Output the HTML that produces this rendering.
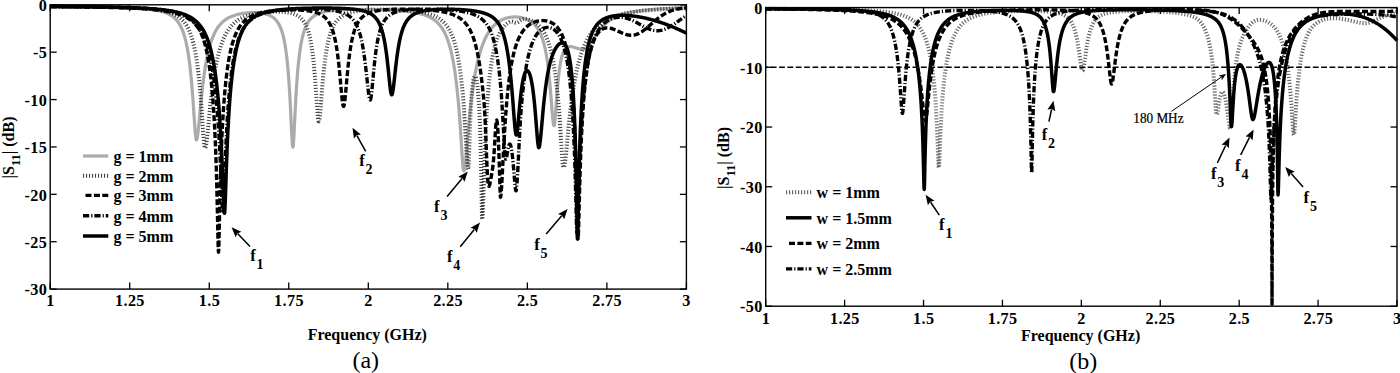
<!DOCTYPE html>
<html><head><meta charset="utf-8"><style>
html,body{margin:0;padding:0;background:#fff;width:1400px;height:373px;overflow:hidden;}
body{position:relative;font-family:"Liberation Serif", serif;}
</style></head><body>
<svg width="1400" height="373" viewBox="0 0 1400 373" style="position:absolute;left:0;top:0">
<g stroke-linejoin="round">
<path d="M50.20,6.51 L50.60,6.52 L51.00,6.52 L51.39,6.52 L51.79,6.52 L52.19,6.53 L52.59,6.53 L52.98,6.53 L53.38,6.53 L53.78,6.54 L54.18,6.54 L54.57,6.54 L54.97,6.54 L55.37,6.54 L55.77,6.55 L56.16,6.55 L56.56,6.55 L56.96,6.55 L57.36,6.56 L57.75,6.56 L58.15,6.56 L58.55,6.56 L58.95,6.57 L59.35,6.57 L59.74,6.57 L60.14,6.57 L60.54,6.58 L60.94,6.58 L61.33,6.58 L61.73,6.59 L62.13,6.59 L62.53,6.59 L62.92,6.59 L63.32,6.60 L63.72,6.60 L64.12,6.60 L64.51,6.60 L64.91,6.61 L65.31,6.61 L65.71,6.61 L66.11,6.62 L66.50,6.62 L66.90,6.62 L67.30,6.63 L67.70,6.63 L68.09,6.63 L68.49,6.63 L68.89,6.64 L69.29,6.64 L69.68,6.64 L70.08,6.65 L70.48,6.65 L70.88,6.65 L71.27,6.66 L71.67,6.66 L72.07,6.66 L72.47,6.67 L72.86,6.67 L73.26,6.67 L73.66,6.68 L74.06,6.68 L74.46,6.68 L74.85,6.69 L75.25,6.69 L75.65,6.69 L76.05,6.70 L76.44,6.70 L76.84,6.70 L77.24,6.71 L77.64,6.71 L78.03,6.72 L78.43,6.72 L78.83,6.72 L79.23,6.73 L79.62,6.73 L80.02,6.74 L80.42,6.74 L80.82,6.74 L81.21,6.75 L81.61,6.75 L82.01,6.76 L82.41,6.76 L82.81,6.76 L83.20,6.77 L83.60,6.77 L84.00,6.78 L84.40,6.78 L84.79,6.79 L85.19,6.79 L85.59,6.79 L85.99,6.80 L86.38,6.80 L86.78,6.81 L87.18,6.81 L87.58,6.82 L87.97,6.82 L88.37,6.83 L88.77,6.83 L89.17,6.84 L89.56,6.84 L89.96,6.85 L90.36,6.85 L90.76,6.86 L91.16,6.86 L91.55,6.87 L91.95,6.87 L92.35,6.88 L92.75,6.88 L93.14,6.89 L93.54,6.89 L93.94,6.90 L94.34,6.90 L94.73,6.91 L95.13,6.92 L95.53,6.92 L95.93,6.93 L96.32,6.93 L96.72,6.94 L97.12,6.94 L97.52,6.95 L97.91,6.96 L98.31,6.96 L98.71,6.97 L99.11,6.98 L99.51,6.98 L99.90,6.99 L100.30,6.99 L100.70,7.00 L101.10,7.01 L101.49,7.01 L101.89,7.02 L102.29,7.03 L102.69,7.04 L103.08,7.04 L103.48,7.05 L103.88,7.06 L104.28,7.06 L104.67,7.07 L105.07,7.08 L105.47,7.09 L105.87,7.09 L106.27,7.10 L106.66,7.11 L107.06,7.12 L107.46,7.13 L107.86,7.13 L108.25,7.14 L108.65,7.15 L109.05,7.16 L109.45,7.17 L109.84,7.18 L110.24,7.19 L110.64,7.19 L111.04,7.20 L111.43,7.21 L111.83,7.22 L112.23,7.23 L112.63,7.24 L113.02,7.25 L113.42,7.26 L113.82,7.27 L114.22,7.28 L114.62,7.29 L115.01,7.30 L115.41,7.31 L115.81,7.32 L116.21,7.33 L116.60,7.34 L117.00,7.35 L117.40,7.36 L117.80,7.38 L118.19,7.39 L118.59,7.40 L118.99,7.41 L119.39,7.42 L119.78,7.43 L120.18,7.45 L120.58,7.46 L120.98,7.47 L121.37,7.48 L121.77,7.50 L122.17,7.51 L122.57,7.52 L122.97,7.54 L123.36,7.55 L123.76,7.56 L124.16,7.58 L124.56,7.59 L124.95,7.61 L125.35,7.62 L125.75,7.64 L126.15,7.65 L126.54,7.67 L126.94,7.68 L127.34,7.70 L127.74,7.72 L128.13,7.73 L128.53,7.75 L128.93,7.77 L129.33,7.79 L129.72,7.80 L130.12,7.82 L130.52,7.84 L130.92,7.86 L131.32,7.88 L131.71,7.90 L132.11,7.92 L132.51,7.94 L132.91,7.96 L133.30,7.98 L133.70,8.00 L134.10,8.02 L134.50,8.04 L134.89,8.06 L135.29,8.09 L135.69,8.11 L136.09,8.13 L136.48,8.16 L136.88,8.18 L137.28,8.20 L137.68,8.23 L138.08,8.26 L138.47,8.28 L138.87,8.31 L139.27,8.34 L139.67,8.36 L140.06,8.39 L140.46,8.42 L140.86,8.45 L141.26,8.48 L141.65,8.51 L142.05,8.54 L142.45,8.57 L142.85,8.61 L143.24,8.64 L143.64,8.67 L144.04,8.71 L144.44,8.74 L144.83,8.78 L145.23,8.82 L145.63,8.85 L146.03,8.89 L146.43,8.93 L146.82,8.97 L147.22,9.01 L147.62,9.06 L148.02,9.10 L148.41,9.14 L148.81,9.19 L149.21,9.24 L149.61,9.28 L150.00,9.33 L150.40,9.38 L150.80,9.43 L151.20,9.48 L151.59,9.54 L151.99,9.59 L152.39,9.65 L152.79,9.71 L153.18,9.76 L153.58,9.83 L153.98,9.89 L154.38,9.95 L154.78,10.02 L155.17,10.08 L155.57,10.15 L155.97,10.22 L156.37,10.30 L156.76,10.37 L157.16,10.45 L157.56,10.53 L157.96,10.61 L158.35,10.69 L158.75,10.78 L159.15,10.87 L159.55,10.96 L159.94,11.05 L160.34,11.15 L160.74,11.25 L161.14,11.35 L161.54,11.46 L161.93,11.57 L162.33,11.68 L162.73,11.80 L163.13,11.92 L163.52,12.04 L163.92,12.17 L164.32,12.30 L164.72,12.44 L165.11,12.58 L165.51,12.73 L165.91,12.88 L166.31,13.04 L166.70,13.20 L167.10,13.37 L167.50,13.54 L167.90,13.72 L168.29,13.91 L168.69,14.10 L169.09,14.31 L169.49,14.52 L169.89,14.74 L170.28,14.96 L170.68,15.20 L171.08,15.44 L171.48,15.70 L171.87,15.97 L172.27,16.24 L172.67,16.53 L173.07,16.84 L173.46,17.15 L173.86,17.48 L174.26,17.82 L174.66,18.18 L175.05,18.56 L175.45,18.95 L175.85,19.36 L176.25,19.79 L176.64,20.24 L177.04,20.72 L177.44,21.22 L177.84,21.74 L178.24,22.29 L178.63,22.86 L179.03,23.47 L179.43,24.11 L179.83,24.78 L180.22,25.49 L180.62,26.24 L181.02,27.04 L181.42,27.87 L181.81,28.76 L182.21,29.69 L182.61,30.68 L183.01,31.73 L183.40,32.84 L183.80,34.02 L184.20,35.28 L184.60,36.61 L184.99,38.03 L185.39,39.54 L185.79,41.15 L186.19,42.87 L186.59,44.70 L186.98,46.65 L187.38,48.74 L187.78,50.97 L188.18,53.36 L188.57,55.92 L188.97,58.66 L189.37,61.61 L189.77,64.76 L190.16,68.14 L190.56,71.77 L190.96,75.67 L191.36,79.84 L191.75,84.31 L192.15,89.09 L192.55,94.18 L192.95,99.58 L193.34,105.25 L193.74,111.14 L194.14,117.14 L194.54,123.08 L194.94,128.68 L195.12,131.03 L195.18,131.81 L195.24,132.57 L195.31,133.30 L195.33,133.58 L195.37,134.00 L195.43,134.67 L195.50,135.31 L195.56,135.92 L195.63,136.49 L195.69,137.02 L195.73,137.35 L195.75,137.51 L195.82,137.96 L195.88,138.37 L195.94,138.74 L196.01,139.05 L196.07,139.33 L196.13,139.53 L196.13,139.55 L196.20,139.73 L196.26,139.85 L196.33,139.93 L196.39,139.95 L196.45,139.94 L196.52,139.90 L196.53,139.89 L196.58,139.84 L196.64,139.75 L196.71,139.64 L196.77,139.50 L196.83,139.33 L196.90,139.14 L196.92,139.06 L196.96,138.93 L197.03,138.69 L197.09,138.43 L197.15,138.15 L197.22,137.84 L197.28,137.51 L197.32,137.29 L197.34,137.16 L197.41,136.79 L197.47,136.41 L197.53,136.00 L197.60,135.57 L197.66,135.12 L197.72,134.71 L198.12,131.48 L198.51,127.78 L198.91,123.75 L199.31,119.53 L199.71,115.24 L200.10,110.95 L200.50,106.72 L200.90,102.60 L201.30,98.60 L201.70,94.75 L202.09,91.06 L202.49,87.53 L202.89,84.15 L203.29,80.94 L203.68,77.88 L204.08,74.97 L204.48,72.20 L204.88,69.56 L205.27,67.06 L205.67,64.68 L206.07,62.42 L206.47,60.27 L206.86,58.22 L207.26,56.28 L207.66,54.43 L208.06,52.67 L208.45,50.99 L208.85,49.39 L209.25,47.87 L209.65,46.42 L210.05,45.04 L210.44,43.72 L210.84,42.46 L211.24,41.26 L211.64,40.12 L212.03,39.02 L212.43,37.98 L212.83,36.98 L213.23,36.02 L213.62,35.11 L214.02,34.23 L214.42,33.40 L214.82,32.59 L215.21,31.83 L215.61,31.09 L216.01,30.38 L216.41,29.71 L216.80,29.06 L217.20,28.44 L217.60,27.84 L218.00,27.26 L218.40,26.71 L218.79,26.18 L219.19,25.67 L219.59,25.18 L219.99,24.71 L220.38,24.26 L220.78,23.82 L221.18,23.40 L221.58,23.00 L221.97,22.61 L222.37,22.24 L222.77,21.87 L223.17,21.53 L223.56,21.19 L223.96,20.87 L224.36,20.55 L224.76,20.25 L225.15,19.96 L225.55,19.68 L225.95,19.41 L226.35,19.15 L226.75,18.89 L227.14,18.65 L227.54,18.41 L227.94,18.19 L228.34,17.97 L228.73,17.75 L229.13,17.55 L229.53,17.35 L229.93,17.15 L230.32,16.97 L230.72,16.79 L231.12,16.61 L231.52,16.44 L231.91,16.28 L232.31,16.12 L232.71,15.97 L233.11,15.82 L233.51,15.68 L233.90,15.54 L234.30,15.41 L234.70,15.28 L235.10,15.15 L235.49,15.03 L235.89,14.92 L236.29,14.80 L236.69,14.69 L237.08,14.59 L237.48,14.48 L237.88,14.39 L238.28,14.29 L238.67,14.20 L239.07,14.11 L239.47,14.02 L239.87,13.94 L240.26,13.86 L240.66,13.78 L241.06,13.71 L241.46,13.64 L241.86,13.57 L242.25,13.50 L242.65,13.44 L243.05,13.38 L243.45,13.32 L243.84,13.27 L244.24,13.21 L244.64,13.16 L245.04,13.11 L245.43,13.07 L245.83,13.02 L246.23,12.98 L246.63,12.94 L247.02,12.91 L247.42,12.87 L247.82,12.84 L248.22,12.81 L248.61,12.78 L249.01,12.76 L249.41,12.73 L249.81,12.71 L250.21,12.69 L250.60,12.67 L251.00,12.66 L251.40,12.65 L251.80,12.64 L252.19,12.63 L252.59,12.62 L252.99,12.62 L253.39,12.62 L253.78,12.62 L254.18,12.62 L254.58,12.63 L254.98,12.63 L255.37,12.64 L255.77,12.66 L256.17,12.67 L256.57,12.69 L256.96,12.71 L257.36,12.73 L257.76,12.76 L258.16,12.79 L258.56,12.82 L258.95,12.85 L259.35,12.89 L259.75,12.93 L260.15,12.98 L260.54,13.02 L260.94,13.07 L261.34,13.13 L261.74,13.19 L262.13,13.25 L262.53,13.32 L262.93,13.39 L263.33,13.46 L263.72,13.54 L264.12,13.62 L264.52,13.71 L264.92,13.80 L265.32,13.90 L265.71,14.01 L266.11,14.12 L266.51,14.24 L266.91,14.36 L267.30,14.49 L267.70,14.63 L268.10,14.77 L268.50,14.92 L268.89,15.08 L269.29,15.25 L269.69,15.43 L270.09,15.62 L270.48,15.82 L270.88,16.03 L271.28,16.25 L271.68,16.48 L272.07,16.73 L272.47,16.99 L272.87,17.27 L273.27,17.56 L273.67,17.87 L274.06,18.20 L274.46,18.54 L274.86,18.91 L275.26,19.30 L275.65,19.72 L276.05,20.16 L276.45,20.62 L276.85,21.12 L277.24,21.65 L277.64,22.22 L278.04,22.82 L278.44,23.46 L278.83,24.15 L279.23,24.88 L279.63,25.67 L280.03,26.51 L280.42,27.42 L280.82,28.39 L281.22,29.44 L281.62,30.56 L282.02,31.77 L282.41,33.08 L282.81,34.49 L283.21,36.02 L283.61,37.68 L284.00,39.48 L284.40,41.43 L284.80,43.55 L285.20,45.86 L285.59,48.38 L285.99,51.12 L286.39,54.13 L286.79,57.42 L287.18,61.03 L287.58,64.98 L287.98,69.33 L288.38,74.11 L288.77,79.36 L289.17,85.13 L289.57,91.47 L289.97,98.40 L290.37,105.93 L290.76,113.98 L291.16,122.39 L291.56,130.76 L291.58,131.28 L291.65,132.57 L291.71,133.83 L291.77,135.06 L291.84,136.27 L291.90,137.43 L291.96,138.39 L291.97,138.56 L292.03,139.64 L292.09,140.66 L292.16,141.63 L292.22,142.54 L292.28,143.38 L292.35,144.14 L292.35,144.22 L292.41,144.83 L292.47,145.44 L292.54,145.96 L292.60,146.39 L292.67,146.73 L292.73,146.98 L292.75,147.04 L292.79,147.12 L292.86,147.17 L292.92,147.12 L292.98,146.98 L293.05,146.75 L293.11,146.43 L293.15,146.19 L293.17,146.02 L293.24,145.52 L293.30,144.94 L293.37,144.29 L293.43,143.56 L293.49,142.76 L293.55,142.02 L293.56,141.89 L293.62,140.96 L293.68,139.98 L293.75,138.95 L293.81,137.87 L293.87,136.76 L293.94,135.60 L293.94,135.48 L294.00,134.41 L294.07,133.20 L294.13,131.95 L294.34,127.67 L294.74,119.44 L295.14,111.34 L295.53,103.63 L295.93,96.46 L296.33,89.85 L296.73,83.79 L297.13,78.26 L297.52,73.22 L297.92,68.62 L298.32,64.42 L298.72,60.59 L299.11,57.08 L299.51,53.87 L299.91,50.94 L300.31,48.24 L300.70,45.76 L301.10,43.49 L301.50,41.39 L301.90,39.45 L302.29,37.67 L302.69,36.02 L303.09,34.49 L303.49,33.07 L303.88,31.75 L304.28,30.53 L304.68,29.39 L305.08,28.34 L305.48,27.35 L305.87,26.42 L306.27,25.56 L306.67,24.76 L307.07,24.00 L307.46,23.29 L307.86,22.63 L308.26,22.00 L308.66,21.41 L309.05,20.86 L309.45,20.34 L309.85,19.84 L310.25,19.38 L310.64,18.94 L311.04,18.53 L311.44,18.13 L311.84,17.76 L312.23,17.41 L312.63,17.07 L313.03,16.75 L313.43,16.45 L313.83,16.16 L314.22,15.89 L314.62,15.63 L315.02,15.38 L315.42,15.15 L315.81,14.92 L316.21,14.70 L316.61,14.50 L317.01,14.30 L317.40,14.11 L317.80,13.93 L318.20,13.76 L318.60,13.60 L318.99,13.44 L319.39,13.29 L319.79,13.14 L320.19,13.00 L320.58,12.87 L320.98,12.74 L321.38,12.62 L321.78,12.50 L322.18,12.38 L322.57,12.27 L322.97,12.17 L323.37,12.06 L323.77,11.97 L324.16,11.87 L324.56,11.78 L324.96,11.69 L325.36,11.61 L325.75,11.53 L326.15,11.45 L326.55,11.37 L326.95,11.30 L327.34,11.23 L327.74,11.16 L328.14,11.09 L328.54,11.03 L328.94,10.97 L329.33,10.91 L329.73,10.85 L330.13,10.80 L330.53,10.74 L330.92,10.69 L331.32,10.64 L331.72,10.59 L332.12,10.54 L332.51,10.50 L332.91,10.45 L333.31,10.41 L333.71,10.37 L334.10,10.33 L334.50,10.29 L334.90,10.25 L335.30,10.21 L335.69,10.18 L336.09,10.15 L336.49,10.11 L336.89,10.08 L337.29,10.05 L337.68,10.02 L338.08,9.99 L338.48,9.96 L338.88,9.93 L339.27,9.91 L339.67,9.88 L340.07,9.86 L340.47,9.83 L340.86,9.81 L341.26,9.79 L341.66,9.77 L342.06,9.75 L342.45,9.72 L342.85,9.71 L343.25,9.69 L343.65,9.67 L344.04,9.65 L344.44,9.63 L344.84,9.62 L345.24,9.60 L345.64,9.59 L346.03,9.57 L346.43,9.56 L346.83,9.54 L347.23,9.53 L347.62,9.52 L348.02,9.50 L348.42,9.49 L348.82,9.48 L349.21,9.47 L349.61,9.46 L350.01,9.45 L350.41,9.44 L350.80,9.43 L351.20,9.42 L351.60,9.42 L352.00,9.41 L352.39,9.40 L352.79,9.39 L353.19,9.39 L353.59,9.38 L353.99,9.38 L354.38,9.37 L354.78,9.36 L355.18,9.36 L355.58,9.36 L355.97,9.35 L356.37,9.35 L356.77,9.34 L357.17,9.34 L357.56,9.34 L357.96,9.34 L358.36,9.33 L358.76,9.33 L359.15,9.33 L359.55,9.33 L359.95,9.33 L360.35,9.33 L360.75,9.33 L361.14,9.33 L361.54,9.33 L361.94,9.33 L362.34,9.33 L362.73,9.33 L363.13,9.33 L363.53,9.33 L363.93,9.34 L364.32,9.34 L364.72,9.34 L365.12,9.34 L365.52,9.35 L365.91,9.35 L366.31,9.36 L366.71,9.36 L367.11,9.36 L367.50,9.37 L367.90,9.37 L368.30,9.38 L368.70,9.38 L369.10,9.39 L369.49,9.39 L369.89,9.40 L370.29,9.41 L370.69,9.41 L371.08,9.42 L371.48,9.43 L371.88,9.43 L372.28,9.44 L372.67,9.45 L373.07,9.46 L373.47,9.47 L373.87,9.47 L374.26,9.48 L374.66,9.49 L375.06,9.50 L375.46,9.51 L375.85,9.52 L376.25,9.53 L376.65,9.54 L377.05,9.55 L377.45,9.56 L377.84,9.58 L378.24,9.59 L378.64,9.60 L379.04,9.61 L379.43,9.62 L379.83,9.64 L380.23,9.65 L380.63,9.66 L381.02,9.68 L381.42,9.69 L381.82,9.70 L382.22,9.72 L382.61,9.73 L383.01,9.75 L383.41,9.76 L383.81,9.78 L384.20,9.79 L384.60,9.81 L385.00,9.83 L385.40,9.84 L385.80,9.86 L386.19,9.88 L386.59,9.90 L386.99,9.91 L387.39,9.93 L387.78,9.95 L388.18,9.97 L388.58,9.99 L388.98,10.01 L389.37,10.03 L389.77,10.05 L390.17,10.07 L390.57,10.09 L390.96,10.11 L391.36,10.14 L391.76,10.16 L392.16,10.18 L392.56,10.21 L392.95,10.23 L393.35,10.25 L393.75,10.28 L394.15,10.30 L394.54,10.33 L394.94,10.35 L395.34,10.38 L395.74,10.41 L396.13,10.44 L396.53,10.46 L396.93,10.49 L397.33,10.52 L397.72,10.55 L398.12,10.58 L398.52,10.61 L398.92,10.64 L399.31,10.67 L399.71,10.71 L400.11,10.74 L400.51,10.77 L400.91,10.81 L401.30,10.84 L401.70,10.88 L402.10,10.91 L402.50,10.95 L402.89,10.99 L403.29,11.03 L403.69,11.07 L404.09,11.11 L404.48,11.15 L404.88,11.19 L405.28,11.23 L405.68,11.27 L406.07,11.32 L406.47,11.36 L406.87,11.41 L407.27,11.45 L407.66,11.50 L408.06,11.55 L408.46,11.60 L408.86,11.65 L409.26,11.70 L409.65,11.76 L410.05,11.81 L410.45,11.87 L410.85,11.92 L411.24,11.98 L411.64,12.04 L412.04,12.10 L412.44,12.17 L412.83,12.23 L413.23,12.29 L413.63,12.36 L414.03,12.43 L414.42,12.50 L414.82,12.57 L415.22,12.64 L415.62,12.72 L416.01,12.79 L416.41,12.87 L416.81,12.95 L417.21,13.04 L417.61,13.12 L418.00,13.21 L418.40,13.30 L418.80,13.39 L419.20,13.48 L419.59,13.58 L419.99,13.68 L420.39,13.78 L420.79,13.88 L421.18,13.99 L421.58,14.10 L421.98,14.21 L422.38,14.33 L422.77,14.44 L423.17,14.57 L423.57,14.69 L423.97,14.82 L424.37,14.95 L424.76,15.09 L425.16,15.23 L425.56,15.38 L425.96,15.52 L426.35,15.68 L426.75,15.84 L427.15,16.00 L427.55,16.17 L427.94,16.34 L428.34,16.52 L428.74,16.70 L429.14,16.89 L429.53,17.09 L429.93,17.29 L430.33,17.49 L430.73,17.71 L431.12,17.93 L431.52,18.16 L431.92,18.40 L432.32,18.64 L432.72,18.89 L433.11,19.15 L433.51,19.42 L433.91,19.70 L434.31,19.99 L434.70,20.29 L435.10,20.60 L435.50,20.92 L435.90,21.25 L436.29,21.59 L436.69,21.95 L437.09,22.32 L437.49,22.70 L437.88,23.10 L438.28,23.51 L438.68,23.93 L439.08,24.38 L439.47,24.84 L439.87,25.31 L440.27,25.81 L440.67,26.33 L441.07,26.86 L441.46,27.42 L441.86,28.00 L442.26,28.60 L442.66,29.23 L443.05,29.89 L443.45,30.57 L443.85,31.28 L444.25,32.02 L444.64,32.79 L445.04,33.59 L445.44,34.43 L445.84,35.31 L446.23,36.23 L446.63,37.18 L447.03,38.18 L447.43,39.23 L447.82,40.32 L448.22,41.46 L448.62,42.66 L449.02,43.91 L449.42,45.23 L449.81,46.60 L450.21,48.05 L450.61,49.56 L451.01,51.15 L451.40,52.82 L451.80,54.57 L452.20,56.42 L452.60,58.35 L452.99,60.39 L453.39,62.54 L453.79,64.80 L454.19,67.19 L454.58,69.71 L454.98,72.36 L455.38,75.17 L455.78,78.14 L456.18,81.28 L456.57,84.60 L456.97,88.11 L457.37,91.84 L457.77,95.80 L458.16,99.99 L458.56,104.44 L458.96,109.16 L459.36,114.16 L459.75,119.44 L460.15,125.02 L460.55,130.87 L460.95,136.95 L461.34,143.20 L461.74,149.48 L462.14,155.58 L462.54,161.20 L462.58,161.82 L462.65,162.63 L462.71,163.42 L462.78,164.18 L462.84,164.90 L462.90,165.60 L462.93,165.93 L462.97,166.26 L463.03,166.89 L463.09,167.47 L463.16,168.02 L463.22,168.53 L463.28,169.00 L463.33,169.31 L463.35,169.42 L463.41,169.79 L463.48,170.12 L463.54,170.39 L463.60,170.62 L463.67,170.80 L463.73,170.93 L463.79,171.00 L463.86,171.02 L463.92,171.01 L463.98,170.96 L464.05,170.88 L464.11,170.77 L464.13,170.74 L464.18,170.64 L464.24,170.47 L464.30,170.28 L464.37,170.05 L464.43,169.80 L464.49,169.53 L464.53,169.38 L464.56,169.22 L464.62,168.89 L464.68,168.53 L464.75,168.15 L464.81,167.75 L464.88,167.32 L464.92,166.99 L464.94,166.87 L465.00,166.40 L465.07,165.91 L465.13,165.39 L465.32,163.75 L465.72,159.86 L466.12,155.52 L466.51,150.90 L466.91,146.14 L467.31,141.35 L467.71,136.60 L468.10,131.94 L468.50,127.41 L468.90,123.04 L469.30,118.82 L469.69,114.76 L470.09,110.87 L470.49,107.15 L470.89,103.59 L471.28,100.17 L471.68,96.91 L472.08,93.79 L472.48,90.80 L472.88,87.95 L473.27,85.21 L473.67,82.59 L474.07,80.08 L474.47,77.68 L474.86,75.37 L475.26,73.16 L475.66,71.04 L476.06,69.01 L476.45,67.05 L476.85,65.18 L477.25,63.38 L477.65,61.64 L478.04,59.98 L478.44,58.37 L478.84,56.83 L479.24,55.35 L479.63,53.92 L480.03,52.55 L480.43,51.23 L480.83,49.95 L481.23,48.72 L481.62,47.54 L482.02,46.40 L482.42,45.29 L482.82,44.23 L483.21,43.21 L483.61,42.22 L484.01,41.27 L484.41,40.35 L484.80,39.46 L485.20,38.60 L485.60,37.77 L486.00,36.97 L486.39,36.20 L486.79,35.45 L487.19,34.73 L487.59,34.03 L487.99,33.36 L488.38,32.71 L488.78,32.08 L489.18,31.47 L489.58,30.88 L489.97,30.31 L490.37,29.76 L490.77,29.23 L491.17,28.72 L491.56,28.22 L491.96,27.74 L492.36,27.28 L492.76,26.83 L493.15,26.39 L493.55,25.97 L493.95,25.57 L494.35,25.18 L494.74,24.80 L495.14,24.43 L495.54,24.08 L495.94,23.73 L496.34,23.40 L496.73,23.08 L497.13,22.78 L497.53,22.48 L497.93,22.19 L498.32,21.92 L498.72,21.65 L499.12,21.39 L499.52,21.14 L499.91,20.90 L500.31,20.67 L500.71,20.45 L501.11,20.24 L501.50,20.03 L501.90,19.84 L502.30,19.65 L502.70,19.46 L503.09,19.29 L503.49,19.12 L503.89,18.96 L504.29,18.81 L504.69,18.67 L505.08,18.53 L505.48,18.39 L505.88,18.27 L506.28,18.15 L506.67,18.04 L507.07,17.93 L507.47,17.83 L507.87,17.73 L508.26,17.64 L508.66,17.56 L509.06,17.48 L509.46,17.41 L509.85,17.34 L510.25,17.28 L510.65,17.23 L511.05,17.18 L511.44,17.13 L511.84,17.09 L512.24,17.06 L512.64,17.03 L513.04,17.00 L513.43,16.98 L513.83,16.97 L514.23,16.96 L514.63,16.96 L515.02,16.96 L515.42,16.96 L515.82,16.97 L516.22,16.99 L516.61,17.01 L517.01,17.04 L517.41,17.07 L517.81,17.11 L518.20,17.15 L518.60,17.19 L519.00,17.25 L519.40,17.30 L519.80,17.36 L520.19,17.43 L520.59,17.51 L520.99,17.58 L521.39,17.67 L521.78,17.76 L522.18,17.85 L522.58,17.95 L522.98,18.06 L523.37,18.17 L523.77,18.29 L524.17,18.42 L524.57,18.55 L524.96,18.69 L525.36,18.83 L525.76,18.98 L526.16,19.14 L526.55,19.31 L526.95,19.48 L527.35,19.66 L527.75,19.85 L528.15,20.05 L528.54,20.26 L528.94,20.48 L529.34,20.70 L529.74,20.94 L530.13,21.18 L530.53,21.44 L530.93,21.70 L531.33,21.98 L531.72,22.27 L532.12,22.58 L532.52,22.89 L532.92,23.22 L533.31,23.57 L533.71,23.93 L534.11,24.31 L534.51,24.70 L534.90,25.11 L535.30,25.55 L535.70,26.00 L536.10,26.48 L536.50,26.98 L536.89,27.50 L537.29,28.05 L537.69,28.63 L538.09,29.24 L538.48,29.88 L538.88,30.55 L539.28,31.27 L539.68,32.02 L540.07,32.82 L540.47,33.66 L540.87,34.56 L541.27,35.50 L541.66,36.51 L542.06,37.58 L542.46,38.72 L542.86,39.94 L543.25,41.23 L543.65,42.62 L544.05,44.10 L544.45,45.68 L544.85,47.38 L545.24,49.20 L545.64,51.16 L546.04,53.26 L546.44,55.52 L546.83,57.96 L547.23,60.58 L547.63,63.40 L548.03,66.45 L548.42,69.72 L548.82,73.25 L549.22,77.03 L549.62,81.08 L550.01,85.40 L550.41,89.97 L550.81,94.78 L551.21,99.75 L551.61,104.82 L552.00,109.83 L552.40,114.59 L552.73,118.22 L552.80,118.85 L552.86,119.47 L552.93,120.06 L552.99,120.63 L553.05,121.18 L553.12,121.70 L553.18,122.19 L553.20,122.31 L553.24,122.66 L553.31,123.10 L553.37,123.50 L553.43,123.88 L553.50,124.22 L553.56,124.53 L553.59,124.67 L553.63,124.81 L553.69,125.05 L553.75,125.25 L553.82,125.42 L553.88,125.56 L553.94,125.65 L553.99,125.70 L554.01,125.71 L554.07,125.73 L554.13,125.69 L554.20,125.59 L554.26,125.44 L554.32,125.24 L554.39,124.99 L554.45,124.68 L554.52,124.33 L554.58,123.92 L554.64,123.48 L554.71,122.98 L554.77,122.45 L554.79,122.31 L554.83,121.88 L554.90,121.27 L554.96,120.63 L555.02,119.95 L555.09,119.25 L555.15,118.52 L555.18,118.14 L555.22,117.76 L555.28,116.98 L555.58,113.03 L555.98,107.48 L556.38,101.86 L556.77,96.40 L557.17,91.25 L557.57,86.47 L557.97,82.09 L558.36,78.11 L558.76,74.52 L559.16,71.27 L559.56,68.36 L559.96,65.75 L560.35,63.42 L560.75,61.33 L561.15,59.46 L561.55,57.80 L561.94,56.32 L562.34,55.00 L562.74,53.83 L563.14,52.78 L563.53,51.86 L563.93,51.05 L564.33,50.33 L564.73,49.70 L565.12,49.15 L565.52,48.67 L565.92,48.26 L566.32,47.90 L566.71,47.60 L567.11,47.34 L567.51,47.13 L567.91,46.96 L568.31,46.83 L568.70,46.73 L569.10,46.66 L569.50,46.61 L569.90,46.59 L570.29,46.60 L570.69,46.62 L571.09,46.66 L571.49,46.71 L571.88,46.78 L572.28,46.86 L572.68,46.95 L573.08,47.05 L573.47,47.16 L573.87,47.27 L574.27,47.39 L574.67,47.51 L575.06,47.63 L575.46,47.76 L575.86,47.88 L576.26,48.00 L576.66,48.12 L577.05,48.24 L577.45,48.35 L577.85,48.46 L578.25,48.57 L578.64,48.66 L579.04,48.75 L579.44,48.83 L579.84,48.90 L580.23,48.96 L580.63,49.01 L581.03,49.05 L581.43,49.08 L581.82,49.10 L582.22,49.10 L582.62,49.09 L582.75,49.09 L582.82,49.08 L582.88,49.08 L582.94,49.08 L583.01,49.07 L583.02,49.07 L583.07,49.07 L583.14,49.06 L583.20,49.06 L583.26,49.05 L583.33,49.05 L583.39,49.04 L583.42,49.04 L583.45,49.03 L583.52,49.03 L583.58,49.02 L583.64,49.01 L583.71,49.00 L583.77,49.00 L583.81,48.99 L583.84,48.99 L583.90,48.98 L583.96,48.97 L584.03,48.96 L584.09,48.95 L584.15,48.94 L584.21,48.93 L584.22,48.93 L584.28,48.91 L584.34,48.90 L584.41,48.88 L584.47,48.87 L584.53,48.85 L584.60,48.83 L584.61,48.83 L584.66,48.81 L584.73,48.79 L584.79,48.77 L584.85,48.75 L584.92,48.72 L584.98,48.70 L585.01,48.69 L585.04,48.67 L585.11,48.64 L585.17,48.62 L585.23,48.59 L585.30,48.56 L585.40,48.51 L585.80,48.29 L586.20,48.03 L586.60,47.74 L586.99,47.41 L587.39,47.05 L587.79,46.66 L588.19,46.24 L588.58,45.79 L588.98,45.31 L589.38,44.82 L589.78,44.30 L590.17,43.76 L590.57,43.21 L590.97,42.64 L591.37,42.07 L591.77,41.48 L592.16,40.88 L592.56,40.28 L592.96,39.68 L593.36,39.07 L593.75,38.46 L594.15,37.85 L594.55,37.25 L594.95,36.64 L595.34,36.05 L595.74,35.45 L596.14,34.86 L596.54,34.28 L596.93,33.71 L597.33,33.14 L597.73,32.59 L598.13,32.04 L598.52,31.50 L598.92,30.97 L599.32,30.45 L599.72,29.94 L600.12,29.44 L600.51,28.95 L600.91,28.47 L601.31,28.01 L601.71,27.55 L602.10,27.10 L602.50,26.67 L602.90,26.24 L603.30,25.82 L603.69,25.42 L604.09,25.02 L604.49,24.63 L604.89,24.26 L605.28,23.89 L605.68,23.53 L606.08,23.18 L606.48,22.84 L606.88,22.50 L607.27,22.18 L607.67,21.86 L608.07,21.56 L608.47,21.26 L608.86,20.96 L609.26,20.68 L609.66,20.40 L610.06,20.13 L610.45,19.87 L610.85,19.61 L611.25,19.36 L611.65,19.11 L612.04,18.88 L612.44,18.64 L612.84,18.42 L613.24,18.20 L613.63,17.98 L614.03,17.77 L614.43,17.57 L614.83,17.37 L615.23,17.17 L615.62,16.98 L616.02,16.80 L616.42,16.62 L616.82,16.44 L617.21,16.27 L617.61,16.10 L618.01,15.94 L618.41,15.78 L618.80,15.62 L619.20,15.47 L619.60,15.32 L620.00,15.17 L620.39,15.03 L620.79,14.89 L621.19,14.76 L621.59,14.62 L621.98,14.49 L622.38,14.37 L622.78,14.24 L623.18,14.12 L623.58,14.00 L623.97,13.89 L624.37,13.77 L624.77,13.66 L625.17,13.55 L625.56,13.45 L625.96,13.34 L626.36,13.24 L626.76,13.14 L627.15,13.04 L627.55,12.95 L627.95,12.85 L628.35,12.76 L628.74,12.67 L629.14,12.58 L629.54,12.50 L629.94,12.41 L630.33,12.33 L630.73,12.25 L631.13,12.17 L631.53,12.09 L631.93,12.01 L632.32,11.94 L632.72,11.87 L633.12,11.79 L633.52,11.72 L633.91,11.65 L634.31,11.58 L634.71,11.52 L635.11,11.45 L635.50,11.39 L635.90,11.32 L636.30,11.26 L636.70,11.20 L637.09,11.14 L637.49,11.08 L637.89,11.02 L638.29,10.97 L638.69,10.91 L639.08,10.86 L639.48,10.80 L639.88,10.75 L640.28,10.70 L640.67,10.65 L641.07,10.60 L641.47,10.55 L641.87,10.50 L642.26,10.45 L642.66,10.40 L643.06,10.36 L643.46,10.31 L643.85,10.27 L644.25,10.22 L644.65,10.18 L645.05,10.14 L645.44,10.10 L645.84,10.05 L646.24,10.01 L646.64,9.97 L647.04,9.94 L647.43,9.90 L647.83,9.86 L648.23,9.82 L648.63,9.78 L649.02,9.75 L649.42,9.71 L649.82,9.68 L650.22,9.64 L650.61,9.61 L651.01,9.57 L651.41,9.54 L651.81,9.51 L652.20,9.48 L652.60,9.44 L653.00,9.41 L653.40,9.38 L653.79,9.35 L654.19,9.32 L654.59,9.29 L654.99,9.26 L655.39,9.23 L655.78,9.20 L656.18,9.18 L656.58,9.15 L656.98,9.12 L657.37,9.09 L657.77,9.07 L658.17,9.04 L658.57,9.02 L658.96,8.99 L659.36,8.97 L659.76,8.94 L660.16,8.92 L660.55,8.89 L660.95,8.87 L661.35,8.85 L661.75,8.82 L662.14,8.80 L662.54,8.78 L662.94,8.75 L663.34,8.73 L663.74,8.71 L664.13,8.69 L664.53,8.67 L664.93,8.65 L665.33,8.63 L665.72,8.61 L666.12,8.59 L666.52,8.57 L666.92,8.55 L667.31,8.53 L667.71,8.51 L668.11,8.49 L668.51,8.47 L668.90,8.45 L669.30,8.43 L669.70,8.41 L670.10,8.40 L670.50,8.38 L670.89,8.36 L671.29,8.34 L671.69,8.33 L672.09,8.31 L672.48,8.29 L672.88,8.28 L673.28,8.26 L673.68,8.24 L674.07,8.23 L674.47,8.21 L674.87,8.20 L675.27,8.18 L675.66,8.17 L676.06,8.15 L676.46,8.14 L676.86,8.12 L677.25,8.11 L677.65,8.09 L678.05,8.08 L678.45,8.06 L678.85,8.05 L679.24,8.04 L679.64,8.02 L680.04,8.01 L680.44,8.00 L680.83,7.98 L681.23,7.97 L681.63,7.96 L682.03,7.94 L682.42,7.93 L682.82,7.92 L683.22,7.91 L683.62,7.89 L684.01,7.88 L684.41,7.87 L684.81,7.86 L685.21,7.85 L685.60,7.83 L686.00,7.82 L686.40,7.81" stroke="#ababab" stroke-width="3.2" fill="none"/>
<path d="M50.20,6.45 L50.60,6.45 L51.00,6.46 L51.39,6.46 L51.79,6.46 L52.19,6.46 L52.59,6.47 L52.98,6.47 L53.38,6.47 L53.78,6.47 L54.18,6.47 L54.57,6.48 L54.97,6.48 L55.37,6.48 L55.77,6.48 L56.16,6.49 L56.56,6.49 L56.96,6.49 L57.36,6.49 L57.75,6.50 L58.15,6.50 L58.55,6.50 L58.95,6.50 L59.35,6.51 L59.74,6.51 L60.14,6.51 L60.54,6.51 L60.94,6.52 L61.33,6.52 L61.73,6.52 L62.13,6.52 L62.53,6.53 L62.92,6.53 L63.32,6.53 L63.72,6.53 L64.12,6.54 L64.51,6.54 L64.91,6.54 L65.31,6.55 L65.71,6.55 L66.11,6.55 L66.50,6.55 L66.90,6.56 L67.30,6.56 L67.70,6.56 L68.09,6.57 L68.49,6.57 L68.89,6.57 L69.29,6.58 L69.68,6.58 L70.08,6.58 L70.48,6.58 L70.88,6.59 L71.27,6.59 L71.67,6.59 L72.07,6.60 L72.47,6.60 L72.86,6.60 L73.26,6.61 L73.66,6.61 L74.06,6.61 L74.46,6.62 L74.85,6.62 L75.25,6.62 L75.65,6.63 L76.05,6.63 L76.44,6.64 L76.84,6.64 L77.24,6.64 L77.64,6.65 L78.03,6.65 L78.43,6.65 L78.83,6.66 L79.23,6.66 L79.62,6.66 L80.02,6.67 L80.42,6.67 L80.82,6.68 L81.21,6.68 L81.61,6.68 L82.01,6.69 L82.41,6.69 L82.81,6.70 L83.20,6.70 L83.60,6.70 L84.00,6.71 L84.40,6.71 L84.79,6.72 L85.19,6.72 L85.59,6.73 L85.99,6.73 L86.38,6.73 L86.78,6.74 L87.18,6.74 L87.58,6.75 L87.97,6.75 L88.37,6.76 L88.77,6.76 L89.17,6.77 L89.56,6.77 L89.96,6.78 L90.36,6.78 L90.76,6.79 L91.16,6.79 L91.55,6.80 L91.95,6.80 L92.35,6.81 L92.75,6.81 L93.14,6.82 L93.54,6.82 L93.94,6.83 L94.34,6.83 L94.73,6.84 L95.13,6.84 L95.53,6.85 L95.93,6.86 L96.32,6.86 L96.72,6.87 L97.12,6.87 L97.52,6.88 L97.91,6.88 L98.31,6.89 L98.71,6.90 L99.11,6.90 L99.51,6.91 L99.90,6.91 L100.30,6.92 L100.70,6.93 L101.10,6.93 L101.49,6.94 L101.89,6.95 L102.29,6.95 L102.69,6.96 L103.08,6.97 L103.48,6.97 L103.88,6.98 L104.28,6.99 L104.67,6.99 L105.07,7.00 L105.47,7.01 L105.87,7.02 L106.27,7.02 L106.66,7.03 L107.06,7.04 L107.46,7.05 L107.86,7.05 L108.25,7.06 L108.65,7.07 L109.05,7.08 L109.45,7.09 L109.84,7.09 L110.24,7.10 L110.64,7.11 L111.04,7.12 L111.43,7.13 L111.83,7.14 L112.23,7.15 L112.63,7.15 L113.02,7.16 L113.42,7.17 L113.82,7.18 L114.22,7.19 L114.62,7.20 L115.01,7.21 L115.41,7.22 L115.81,7.23 L116.21,7.24 L116.60,7.25 L117.00,7.26 L117.40,7.27 L117.80,7.28 L118.19,7.29 L118.59,7.30 L118.99,7.31 L119.39,7.32 L119.78,7.34 L120.18,7.35 L120.58,7.36 L120.98,7.37 L121.37,7.38 L121.77,7.39 L122.17,7.41 L122.57,7.42 L122.97,7.43 L123.36,7.44 L123.76,7.46 L124.16,7.47 L124.56,7.48 L124.95,7.50 L125.35,7.51 L125.75,7.52 L126.15,7.54 L126.54,7.55 L126.94,7.57 L127.34,7.58 L127.74,7.60 L128.13,7.61 L128.53,7.63 L128.93,7.64 L129.33,7.66 L129.72,7.67 L130.12,7.69 L130.52,7.70 L130.92,7.72 L131.32,7.74 L131.71,7.76 L132.11,7.77 L132.51,7.79 L132.91,7.81 L133.30,7.83 L133.70,7.85 L134.10,7.86 L134.50,7.88 L134.89,7.90 L135.29,7.92 L135.69,7.94 L136.09,7.96 L136.48,7.98 L136.88,8.00 L137.28,8.03 L137.68,8.05 L138.08,8.07 L138.47,8.09 L138.87,8.12 L139.27,8.14 L139.67,8.16 L140.06,8.19 L140.46,8.21 L140.86,8.24 L141.26,8.26 L141.65,8.29 L142.05,8.31 L142.45,8.34 L142.85,8.37 L143.24,8.40 L143.64,8.42 L144.04,8.45 L144.44,8.48 L144.83,8.51 L145.23,8.54 L145.63,8.57 L146.03,8.60 L146.43,8.64 L146.82,8.67 L147.22,8.70 L147.62,8.74 L148.02,8.77 L148.41,8.81 L148.81,8.84 L149.21,8.88 L149.61,8.92 L150.00,8.96 L150.40,9.00 L150.80,9.04 L151.20,9.08 L151.59,9.12 L151.99,9.16 L152.39,9.20 L152.79,9.25 L153.18,9.29 L153.58,9.34 L153.98,9.39 L154.38,9.44 L154.78,9.49 L155.17,9.54 L155.57,9.59 L155.97,9.64 L156.37,9.70 L156.76,9.75 L157.16,9.81 L157.56,9.87 L157.96,9.93 L158.35,9.99 L158.75,10.05 L159.15,10.11 L159.55,10.18 L159.94,10.24 L160.34,10.31 L160.74,10.38 L161.14,10.46 L161.54,10.53 L161.93,10.60 L162.33,10.68 L162.73,10.76 L163.13,10.84 L163.52,10.93 L163.92,11.01 L164.32,11.10 L164.72,11.19 L165.11,11.29 L165.51,11.38 L165.91,11.48 L166.31,11.58 L166.70,11.69 L167.10,11.79 L167.50,11.90 L167.90,12.02 L168.29,12.14 L168.69,12.26 L169.09,12.38 L169.49,12.51 L169.89,12.64 L170.28,12.77 L170.68,12.91 L171.08,13.06 L171.48,13.21 L171.87,13.36 L172.27,13.52 L172.67,13.68 L173.07,13.85 L173.46,14.03 L173.86,14.21 L174.26,14.39 L174.66,14.59 L175.05,14.79 L175.45,14.99 L175.85,15.21 L176.25,15.43 L176.64,15.66 L177.04,15.89 L177.44,16.14 L177.84,16.40 L178.24,16.66 L178.63,16.94 L179.03,17.22 L179.43,17.52 L179.83,17.83 L180.22,18.15 L180.62,18.48 L181.02,18.83 L181.42,19.19 L181.81,19.57 L182.21,19.96 L182.61,20.37 L183.01,20.80 L183.40,21.24 L183.80,21.71 L184.20,22.19 L184.60,22.70 L184.99,23.23 L185.39,23.79 L185.79,24.37 L186.19,24.97 L186.59,25.61 L186.98,26.28 L187.38,26.98 L187.78,27.71 L188.18,28.49 L188.57,29.30 L188.97,30.15 L189.37,31.05 L189.77,31.99 L190.16,32.98 L190.56,34.03 L190.96,35.13 L191.36,36.30 L191.75,37.53 L192.15,38.83 L192.55,40.20 L192.95,41.65 L193.34,43.19 L193.74,44.81 L194.14,46.54 L194.54,48.37 L194.94,50.31 L195.33,52.37 L195.73,54.56 L196.13,56.88 L196.53,59.36 L196.92,61.99 L197.32,64.80 L197.72,67.79 L198.12,70.97 L198.51,74.37 L198.91,77.99 L199.31,81.86 L199.71,85.97 L200.10,90.36 L200.50,95.03 L200.90,99.98 L201.30,105.21 L201.70,110.70 L202.09,116.41 L202.49,122.27 L202.89,128.14 L203.29,133.82 L203.68,139.04 L203.74,139.69 L203.80,140.44 L203.86,141.16 L203.93,141.86 L203.99,142.53 L204.06,143.16 L204.08,143.41 L204.12,143.77 L204.18,144.35 L204.25,144.89 L204.31,145.39 L204.37,145.86 L204.44,146.28 L204.48,146.54 L204.50,146.67 L204.56,147.01 L204.63,147.31 L204.69,147.57 L204.76,147.78 L204.82,147.94 L204.88,148.05 L204.88,148.06 L204.95,148.13 L205.01,148.15 L205.07,148.14 L205.14,148.11 L205.20,148.05 L205.26,147.97 L205.27,147.96 L205.33,147.87 L205.39,147.74 L205.46,147.60 L205.52,147.43 L205.58,147.23 L205.65,147.02 L205.67,146.93 L205.71,146.79 L205.77,146.53 L205.84,146.26 L205.90,145.96 L205.96,145.65 L206.03,145.31 L206.07,145.09 L206.09,144.96 L206.15,144.59 L206.22,144.20 L206.28,143.80 L206.47,142.54 L206.86,139.43 L207.26,135.89 L207.66,132.06 L208.06,128.05 L208.45,123.96 L208.85,119.85 L209.25,115.78 L209.65,111.79 L210.05,107.90 L210.44,104.13 L210.84,100.49 L211.24,96.99 L211.64,93.63 L212.03,90.40 L212.43,87.32 L212.83,84.36 L213.23,81.53 L213.62,78.83 L214.02,76.25 L214.42,73.78 L214.82,71.41 L215.21,69.16 L215.61,67.00 L216.01,64.93 L216.41,62.96 L216.80,61.07 L217.20,59.26 L217.60,57.53 L218.00,55.88 L218.40,54.29 L218.79,52.77 L219.19,51.31 L219.59,49.91 L219.99,48.58 L220.38,47.29 L220.78,46.06 L221.18,44.87 L221.58,43.74 L221.97,42.65 L222.37,41.60 L222.77,40.59 L223.17,39.62 L223.56,38.69 L223.96,37.79 L224.36,36.93 L224.76,36.10 L225.15,35.30 L225.55,34.54 L225.95,33.79 L226.35,33.08 L226.75,32.39 L227.14,31.73 L227.54,31.09 L227.94,30.47 L228.34,29.88 L228.73,29.30 L229.13,28.75 L229.53,28.21 L229.93,27.70 L230.32,27.20 L230.72,26.71 L231.12,26.25 L231.52,25.79 L231.91,25.36 L232.31,24.93 L232.71,24.53 L233.11,24.13 L233.51,23.75 L233.90,23.38 L234.30,23.02 L234.70,22.67 L235.10,22.33 L235.49,22.01 L235.89,21.69 L236.29,21.38 L236.69,21.09 L237.08,20.80 L237.48,20.52 L237.88,20.25 L238.28,19.98 L238.67,19.73 L239.07,19.48 L239.47,19.24 L239.87,19.00 L240.26,18.78 L240.66,18.55 L241.06,18.34 L241.46,18.13 L241.86,17.93 L242.25,17.73 L242.65,17.54 L243.05,17.35 L243.45,17.17 L243.84,17.00 L244.24,16.82 L244.64,16.66 L245.04,16.50 L245.43,16.34 L245.83,16.18 L246.23,16.03 L246.63,15.89 L247.02,15.75 L247.42,15.61 L247.82,15.48 L248.22,15.35 L248.61,15.22 L249.01,15.09 L249.41,14.97 L249.81,14.86 L250.21,14.74 L250.60,14.63 L251.00,14.52 L251.40,14.42 L251.80,14.31 L252.19,14.21 L252.59,14.12 L252.99,14.02 L253.39,13.93 L253.78,13.84 L254.18,13.75 L254.58,13.67 L254.98,13.58 L255.37,13.50 L255.77,13.42 L256.17,13.35 L256.57,13.27 L256.96,13.20 L257.36,13.13 L257.76,13.06 L258.16,12.99 L258.56,12.93 L258.95,12.87 L259.35,12.81 L259.75,12.75 L260.15,12.69 L260.54,12.63 L260.94,12.58 L261.34,12.53 L261.74,12.47 L262.13,12.42 L262.53,12.38 L262.93,12.33 L263.33,12.29 L263.72,12.24 L264.12,12.20 L264.52,12.16 L264.92,12.12 L265.32,12.08 L265.71,12.05 L266.11,12.01 L266.51,11.98 L266.91,11.95 L267.30,11.92 L267.70,11.89 L268.10,11.86 L268.50,11.84 L268.89,11.81 L269.29,11.79 L269.69,11.76 L270.09,11.74 L270.48,11.72 L270.88,11.71 L271.28,11.69 L271.68,11.67 L272.07,11.66 L272.47,11.65 L272.87,11.64 L273.27,11.63 L273.67,11.62 L274.06,11.61 L274.46,11.60 L274.86,11.60 L275.26,11.60 L275.65,11.60 L276.05,11.60 L276.45,11.60 L276.85,11.60 L277.24,11.60 L277.64,11.61 L278.04,11.62 L278.44,11.63 L278.83,11.64 L279.23,11.65 L279.63,11.67 L280.03,11.68 L280.42,11.70 L280.82,11.72 L281.22,11.74 L281.62,11.77 L282.02,11.79 L282.41,11.82 L282.81,11.85 L283.21,11.88 L283.61,11.92 L284.00,11.95 L284.40,11.99 L284.80,12.04 L285.20,12.08 L285.59,12.13 L285.99,12.18 L286.39,12.23 L286.79,12.29 L287.18,12.35 L287.58,12.41 L287.98,12.47 L288.38,12.54 L288.77,12.62 L289.17,12.69 L289.57,12.77 L289.97,12.86 L290.37,12.95 L290.76,13.04 L291.16,13.14 L291.56,13.24 L291.96,13.35 L292.35,13.47 L292.75,13.59 L293.15,13.72 L293.55,13.85 L293.94,13.99 L294.34,14.14 L294.74,14.29 L295.14,14.46 L295.53,14.63 L295.93,14.81 L296.33,15.00 L296.73,15.20 L297.13,15.41 L297.52,15.63 L297.92,15.87 L298.32,16.12 L298.72,16.38 L299.11,16.66 L299.51,16.95 L299.91,17.26 L300.31,17.59 L300.70,17.94 L301.10,18.31 L301.50,18.70 L301.90,19.11 L302.29,19.55 L302.69,20.02 L303.09,20.52 L303.49,21.05 L303.88,21.62 L304.28,22.22 L304.68,22.87 L305.08,23.55 L305.48,24.29 L305.87,25.08 L306.27,25.93 L306.67,26.84 L307.07,27.82 L307.46,28.87 L307.86,30.00 L308.26,31.22 L308.66,32.53 L309.05,33.96 L309.45,35.49 L309.85,37.16 L310.25,38.96 L310.64,40.92 L311.04,43.05 L311.44,45.36 L311.84,47.87 L312.23,50.61 L312.63,53.58 L313.03,56.83 L313.43,60.36 L313.83,64.20 L314.22,68.37 L314.62,72.89 L315.02,77.77 L315.42,83.00 L315.81,88.57 L316.21,94.39 L316.61,100.36 L317.01,106.25 L317.40,111.75 L317.43,112.04 L317.49,112.84 L317.55,113.63 L317.62,114.38 L317.68,115.11 L317.74,115.81 L317.80,116.41 L317.81,116.48 L317.87,117.11 L317.94,117.71 L318.00,118.26 L318.06,118.78 L318.13,119.25 L318.19,119.68 L318.20,119.74 L318.25,120.06 L318.32,120.40 L318.38,120.68 L318.44,120.92 L318.51,121.10 L318.57,121.23 L318.60,121.27 L318.64,121.31 L318.70,121.34 L318.76,121.32 L318.83,121.26 L318.89,121.17 L318.95,121.04 L318.99,120.94 L319.02,120.87 L319.08,120.67 L319.14,120.44 L319.21,120.17 L319.27,119.87 L319.33,119.53 L319.39,119.20 L319.40,119.16 L319.46,118.76 L319.53,118.34 L319.59,117.88 L319.65,117.40 L319.72,116.89 L319.78,116.35 L319.79,116.27 L319.84,115.79 L319.91,115.21 L319.97,114.61 L320.19,112.42 L320.58,107.95 L320.98,103.12 L321.38,98.14 L321.78,93.18 L322.18,88.34 L322.57,83.68 L322.97,79.25 L323.37,75.06 L323.77,71.12 L324.16,67.42 L324.56,63.97 L324.96,60.74 L325.36,57.74 L325.75,54.93 L326.15,52.32 L326.55,49.89 L326.95,47.62 L327.34,45.51 L327.74,43.53 L328.14,41.69 L328.54,39.98 L328.94,38.37 L329.33,36.87 L329.73,35.46 L330.13,34.15 L330.53,32.92 L330.92,31.76 L331.32,30.68 L331.72,29.66 L332.12,28.70 L332.51,27.80 L332.91,26.95 L333.31,26.15 L333.71,25.40 L334.10,24.68 L334.50,24.01 L334.90,23.38 L335.30,22.78 L335.69,22.21 L336.09,21.67 L336.49,21.16 L336.89,20.67 L337.29,20.21 L337.68,19.78 L338.08,19.36 L338.48,18.97 L338.88,18.59 L339.27,18.23 L339.67,17.89 L340.07,17.57 L340.47,17.26 L340.86,16.96 L341.26,16.68 L341.66,16.40 L342.06,16.15 L342.45,15.90 L342.85,15.66 L343.25,15.43 L343.65,15.22 L344.04,15.01 L344.44,14.81 L344.84,14.62 L345.24,14.43 L345.64,14.26 L346.03,14.09 L346.43,13.92 L346.83,13.77 L347.23,13.62 L347.62,13.47 L348.02,13.33 L348.42,13.20 L348.82,13.07 L349.21,12.94 L349.61,12.82 L350.01,12.70 L350.41,12.59 L350.80,12.48 L351.20,12.38 L351.60,12.28 L352.00,12.18 L352.39,12.09 L352.79,12.00 L353.19,11.91 L353.59,11.83 L353.99,11.74 L354.38,11.66 L354.78,11.59 L355.18,11.51 L355.58,11.44 L355.97,11.37 L356.37,11.31 L356.77,11.24 L357.17,11.18 L357.56,11.12 L357.96,11.06 L358.36,11.00 L358.76,10.95 L359.15,10.89 L359.55,10.84 L359.95,10.79 L360.35,10.74 L360.75,10.70 L361.14,10.65 L361.54,10.61 L361.94,10.57 L362.34,10.52 L362.73,10.48 L363.13,10.44 L363.53,10.41 L363.93,10.37 L364.32,10.34 L364.72,10.30 L365.12,10.27 L365.52,10.24 L365.91,10.21 L366.31,10.18 L366.71,10.15 L367.11,10.12 L367.50,10.09 L367.90,10.07 L368.30,10.04 L368.70,10.02 L369.10,9.99 L369.49,9.97 L369.89,9.95 L370.29,9.93 L370.69,9.91 L371.08,9.89 L371.48,9.87 L371.88,9.85 L372.28,9.83 L372.67,9.82 L373.07,9.80 L373.47,9.79 L373.87,9.77 L374.26,9.76 L374.66,9.74 L375.06,9.73 L375.46,9.72 L375.85,9.71 L376.25,9.70 L376.65,9.69 L377.05,9.68 L377.45,9.67 L377.84,9.66 L378.24,9.65 L378.64,9.64 L379.04,9.63 L379.43,9.63 L379.83,9.62 L380.23,9.62 L380.63,9.61 L381.02,9.61 L381.42,9.60 L381.82,9.60 L382.22,9.60 L382.61,9.59 L383.01,9.59 L383.41,9.59 L383.81,9.59 L384.20,9.59 L384.60,9.59 L385.00,9.59 L385.40,9.59 L385.80,9.59 L386.19,9.59 L386.59,9.59 L386.99,9.60 L387.39,9.60 L387.78,9.60 L388.18,9.61 L388.58,9.61 L388.98,9.61 L389.37,9.62 L389.77,9.63 L390.17,9.63 L390.57,9.64 L390.96,9.65 L391.36,9.65 L391.76,9.66 L392.16,9.67 L392.56,9.68 L392.95,9.69 L393.35,9.70 L393.75,9.71 L394.15,9.72 L394.54,9.73 L394.94,9.74 L395.34,9.76 L395.74,9.77 L396.13,9.78 L396.53,9.80 L396.93,9.81 L397.33,9.83 L397.72,9.84 L398.12,9.86 L398.52,9.87 L398.92,9.89 L399.31,9.91 L399.71,9.93 L400.11,9.95 L400.51,9.96 L400.91,9.98 L401.30,10.01 L401.70,10.03 L402.10,10.05 L402.50,10.07 L402.89,10.09 L403.29,10.12 L403.69,10.14 L404.09,10.17 L404.48,10.19 L404.88,10.22 L405.28,10.24 L405.68,10.27 L406.07,10.30 L406.47,10.33 L406.87,10.36 L407.27,10.39 L407.66,10.42 L408.06,10.45 L408.46,10.49 L408.86,10.52 L409.26,10.55 L409.65,10.59 L410.05,10.62 L410.45,10.66 L410.85,10.70 L411.24,10.74 L411.64,10.78 L412.04,10.82 L412.44,10.86 L412.83,10.90 L413.23,10.95 L413.63,10.99 L414.03,11.04 L414.42,11.09 L414.82,11.13 L415.22,11.18 L415.62,11.23 L416.01,11.29 L416.41,11.34 L416.81,11.39 L417.21,11.45 L417.61,11.51 L418.00,11.56 L418.40,11.62 L418.80,11.68 L419.20,11.75 L419.59,11.81 L419.99,11.88 L420.39,11.95 L420.79,12.01 L421.18,12.09 L421.58,12.16 L421.98,12.23 L422.38,12.31 L422.77,12.39 L423.17,12.47 L423.57,12.55 L423.97,12.64 L424.37,12.72 L424.76,12.81 L425.16,12.90 L425.56,13.00 L425.96,13.09 L426.35,13.19 L426.75,13.30 L427.15,13.40 L427.55,13.51 L427.94,13.62 L428.34,13.73 L428.74,13.85 L429.14,13.97 L429.53,14.09 L429.93,14.22 L430.33,14.35 L430.73,14.48 L431.12,14.62 L431.52,14.76 L431.92,14.91 L432.32,15.06 L432.72,15.21 L433.11,15.37 L433.51,15.54 L433.91,15.71 L434.31,15.88 L434.70,16.06 L435.10,16.25 L435.50,16.44 L435.90,16.64 L436.29,16.84 L436.69,17.05 L437.09,17.27 L437.49,17.50 L437.88,17.73 L438.28,17.97 L438.68,18.22 L439.08,18.48 L439.47,18.74 L439.87,19.02 L440.27,19.30 L440.67,19.60 L441.07,19.90 L441.46,20.22 L441.86,20.55 L442.26,20.89 L442.66,21.25 L443.05,21.61 L443.45,21.99 L443.85,22.39 L444.25,22.80 L444.64,23.23 L445.04,23.67 L445.44,24.14 L445.84,24.62 L446.23,25.12 L446.63,25.64 L447.03,26.19 L447.43,26.75 L447.82,27.34 L448.22,27.96 L448.62,28.60 L449.02,29.28 L449.42,29.98 L449.81,30.71 L450.21,31.48 L450.61,32.29 L451.01,33.13 L451.40,34.01 L451.80,34.93 L452.20,35.90 L452.60,36.92 L452.99,37.98 L453.39,39.10 L453.79,40.27 L454.19,41.51 L454.58,42.81 L454.98,44.17 L455.38,45.61 L455.78,47.13 L456.18,48.72 L456.57,50.41 L456.97,52.18 L457.37,54.06 L457.77,56.03 L458.16,58.12 L458.56,60.33 L458.96,62.67 L459.36,65.14 L459.75,67.77 L460.15,70.55 L460.55,73.50 L460.95,76.64 L461.34,80.00 L461.74,83.59 L462.14,87.45 L462.54,91.61 L462.93,96.09 L463.33,100.93 L463.73,106.15 L464.13,111.74 L464.53,117.71 L464.92,124.01 L465.32,130.58 L465.72,137.29 L466.12,143.99 L466.51,150.48 L466.91,156.47 L466.94,156.88 L467.00,157.76 L467.07,158.62 L467.13,159.46 L467.19,160.28 L467.26,161.07 L467.31,161.68 L467.32,161.83 L467.38,162.56 L467.45,163.26 L467.51,163.94 L467.58,164.58 L467.64,165.19 L467.70,165.76 L467.71,165.79 L467.77,166.31 L467.83,166.81 L467.89,167.28 L467.96,167.72 L468.02,168.11 L468.08,168.47 L468.10,168.57 L468.15,168.79 L468.21,169.08 L468.28,169.21 L468.34,169.08 L468.40,168.70 L468.47,168.07 L468.50,167.63 L468.53,167.22 L468.59,166.16 L468.66,164.92 L468.72,163.51 L468.78,161.97 L468.85,160.31 L468.90,158.91 L468.91,158.55 L468.98,156.72 L469.04,154.82 L469.10,152.89 L469.17,150.92 L469.23,148.94 L469.29,146.95 L469.30,146.86 L469.36,144.97 L469.42,143.00 L469.48,141.04 L469.69,134.77 L470.09,123.92 L470.49,114.58 L470.89,106.67 L471.28,100.03 L471.68,94.49 L472.08,89.89 L472.48,86.10 L472.88,83.04 L473.27,80.60 L473.67,78.75 L474.07,77.42 L474.47,76.60 L474.86,76.25 L475.26,76.36 L475.66,76.94 L476.06,78.00 L476.45,79.55 L476.85,81.63 L477.25,84.28 L477.65,87.57 L478.04,91.58 L478.44,96.42 L478.84,102.23 L479.24,109.21 L479.63,117.62 L480.03,127.83 L480.43,140.34 L480.83,155.84 L480.93,160.24 L480.99,163.21 L481.05,166.28 L481.12,169.46 L481.18,172.74 L481.23,175.10 L481.24,176.12 L481.31,179.60 L481.37,183.18 L481.44,186.83 L481.50,190.54 L481.56,194.28 L481.62,197.84 L481.63,198.03 L481.69,201.72 L481.75,205.31 L481.82,208.70 L481.88,211.82 L481.94,214.55 L482.01,216.77 L482.02,217.15 L482.07,218.39 L482.14,219.30 L482.20,219.45 L482.26,219.12 L482.33,218.66 L482.39,218.05 L482.42,217.73 L482.45,217.31 L482.52,216.43 L482.58,215.43 L482.64,214.32 L482.71,213.09 L482.77,211.76 L482.82,210.77 L482.84,210.33 L482.90,208.82 L482.96,207.23 L483.03,205.57 L483.09,203.86 L483.15,202.09 L483.21,200.37 L483.22,200.27 L483.28,198.42 L483.34,196.54 L483.41,194.63 L483.47,192.71 L483.61,188.43 L484.01,176.25 L484.41,164.52 L484.80,153.54 L485.20,143.42 L485.60,134.15 L486.00,125.72 L486.39,118.07 L486.79,111.14 L487.19,104.86 L487.59,99.17 L487.99,94.00 L488.38,89.29 L488.78,84.98 L489.18,81.02 L489.58,77.36 L489.97,73.97 L490.37,70.82 L490.77,67.88 L491.17,65.14 L491.56,62.57 L491.96,60.16 L492.36,57.90 L492.76,55.77 L493.15,53.77 L493.55,51.89 L493.95,50.12 L494.35,48.45 L494.74,46.88 L495.14,45.39 L495.54,43.98 L495.94,42.66 L496.34,41.40 L496.73,40.21 L497.13,39.08 L497.53,38.02 L497.93,37.01 L498.32,36.05 L498.72,35.14 L499.12,34.27 L499.52,33.45 L499.91,32.67 L500.31,31.93 L500.71,31.23 L501.11,30.56 L501.50,29.92 L501.90,29.31 L502.30,28.73 L502.70,28.18 L503.09,27.66 L503.49,27.16 L503.89,26.68 L504.29,26.22 L504.69,25.79 L505.08,25.38 L505.48,24.99 L505.88,24.61 L506.28,24.26 L506.67,23.92 L507.07,23.60 L507.47,23.30 L507.87,23.02 L508.26,22.76 L508.66,22.51 L509.06,22.29 L509.46,22.10 L509.85,21.93 L510.25,21.80 L510.65,21.69 L511.05,21.62 L511.44,21.59 L511.84,21.60 L512.24,21.64 L512.64,21.72 L513.04,21.84 L513.43,21.97 L513.83,22.13 L514.23,22.28 L514.63,22.44 L515.02,22.58 L515.42,22.69 L515.82,22.76 L516.22,22.78 L516.61,22.75 L517.01,22.66 L517.41,22.51 L517.81,22.31 L518.20,22.07 L518.60,21.79 L519.00,21.49 L519.40,21.17 L519.80,20.86 L520.19,20.55 L520.59,20.26 L520.99,20.00 L521.39,19.76 L521.78,19.56 L522.18,19.40 L522.58,19.26 L522.98,19.16 L523.37,19.09 L523.77,19.05 L524.17,19.03 L524.57,19.03 L524.96,19.05 L525.36,19.08 L525.76,19.12 L526.16,19.18 L526.55,19.24 L526.95,19.32 L527.35,19.40 L527.75,19.49 L528.15,19.59 L528.54,19.70 L528.94,19.81 L529.34,19.93 L529.74,20.06 L530.13,20.20 L530.53,20.34 L530.93,20.49 L531.33,20.65 L531.72,20.82 L532.12,21.00 L532.52,21.18 L532.92,21.38 L533.31,21.59 L533.71,21.80 L534.11,22.02 L534.51,22.26 L534.90,22.51 L535.30,22.76 L535.70,23.03 L536.10,23.32 L536.50,23.61 L536.89,23.92 L537.29,24.24 L537.69,24.57 L538.09,24.92 L538.48,25.29 L538.88,25.67 L539.28,26.07 L539.68,26.49 L540.07,26.92 L540.47,27.37 L540.87,27.85 L541.27,28.34 L541.66,28.86 L542.06,29.40 L542.46,29.96 L542.86,30.55 L543.25,31.17 L543.65,31.82 L544.05,32.49 L544.45,33.20 L544.85,33.93 L545.24,34.71 L545.64,35.52 L546.04,36.36 L546.44,37.25 L546.83,38.18 L547.23,39.16 L547.63,40.18 L548.03,41.25 L548.42,42.38 L548.82,43.56 L549.22,44.80 L549.62,46.10 L550.01,47.48 L550.41,48.92 L550.81,50.44 L551.21,52.03 L551.61,53.72 L552.00,55.49 L552.40,57.36 L552.80,59.33 L553.20,61.41 L553.59,63.61 L553.99,65.93 L554.39,68.39 L554.79,70.99 L555.18,73.74 L555.58,76.66 L555.98,79.75 L556.38,83.02 L556.77,86.50 L557.17,90.20 L557.57,94.12 L557.97,98.29 L558.36,102.72 L558.76,107.42 L559.16,112.41 L559.56,117.68 L559.96,123.25 L560.35,129.08 L560.75,135.14 L561.15,141.33 L561.55,147.52 L561.94,153.48 L562.31,158.44 L562.34,158.89 L562.37,159.24 L562.43,160.02 L562.50,160.77 L562.56,161.48 L562.62,162.17 L562.69,162.82 L562.74,163.32 L562.75,163.44 L562.81,164.02 L562.88,164.56 L562.94,165.06 L563.01,165.52 L563.07,165.94 L563.13,166.31 L563.14,166.33 L563.20,166.63 L563.26,166.91 L563.32,167.13 L563.39,167.31 L563.45,167.43 L563.51,167.51 L563.53,167.52 L563.58,167.53 L563.64,167.52 L563.71,167.48 L563.77,167.42 L563.83,167.34 L563.90,167.24 L563.93,167.17 L563.96,167.11 L564.02,166.96 L564.09,166.79 L564.15,166.60 L564.21,166.39 L564.28,166.16 L564.33,165.96 L564.34,165.90 L564.41,165.63 L564.47,165.34 L564.53,165.03 L564.60,164.70 L564.66,164.35 L564.72,163.98 L564.73,163.96 L564.79,163.60 L564.85,163.20 L565.12,161.30 L565.52,158.10 L565.92,154.50 L566.32,150.62 L566.71,146.57 L567.11,142.43 L567.51,138.28 L567.91,134.16 L568.31,130.11 L568.70,126.15 L569.10,122.30 L569.50,118.57 L569.90,114.97 L570.29,111.50 L570.69,108.15 L571.09,104.93 L571.49,101.83 L571.88,98.85 L572.28,95.99 L572.68,93.24 L573.08,90.60 L573.47,88.06 L573.87,85.62 L574.27,83.28 L574.67,81.02 L575.06,78.85 L575.46,76.77 L575.86,74.76 L576.26,72.83 L576.66,70.96 L577.05,69.17 L577.45,67.44 L577.85,65.78 L578.25,64.17 L578.64,62.62 L579.04,61.13 L579.44,59.69 L579.84,58.30 L580.23,56.96 L580.63,55.66 L581.03,54.41 L581.43,53.20 L581.82,52.03 L582.22,50.90 L582.62,49.80 L583.02,48.74 L583.42,47.72 L583.81,46.73 L584.21,45.77 L584.61,44.85 L585.01,43.95 L585.40,43.08 L585.80,42.24 L586.20,41.42 L586.60,40.63 L586.99,39.86 L587.39,39.12 L587.79,38.39 L588.19,37.69 L588.58,37.01 L588.98,36.36 L589.38,35.72 L589.78,35.09 L590.17,34.49 L590.57,33.91 L590.97,33.34 L591.37,32.78 L591.77,32.25 L592.16,31.72 L592.56,31.22 L592.96,30.72 L593.36,30.24 L593.75,29.77 L594.15,29.32 L594.55,28.88 L594.95,28.45 L595.34,28.03 L595.74,27.62 L596.14,27.22 L596.54,26.84 L596.93,26.46 L597.33,26.09 L597.73,25.73 L598.13,25.38 L598.52,25.04 L598.92,24.71 L599.32,24.39 L599.72,24.07 L600.12,23.77 L600.51,23.46 L600.91,23.17 L601.31,22.89 L601.71,22.61 L602.10,22.33 L602.50,22.07 L602.90,21.81 L603.30,21.55 L603.69,21.31 L604.09,21.06 L604.49,20.83 L604.89,20.60 L605.28,20.37 L605.68,20.15 L606.08,19.93 L606.48,19.72 L606.88,19.52 L607.27,19.31 L607.67,19.12 L608.07,18.92 L608.47,18.73 L608.86,18.55 L609.26,18.37 L609.66,18.19 L610.06,18.02 L610.45,17.85 L610.85,17.68 L611.25,17.52 L611.65,17.36 L612.04,17.20 L612.44,17.05 L612.84,16.89 L613.24,16.75 L613.63,16.60 L614.03,16.46 L614.43,16.32 L614.83,16.19 L615.23,16.05 L615.62,15.92 L616.02,15.79 L616.42,15.67 L616.82,15.54 L617.21,15.42 L617.61,15.30 L618.01,15.19 L618.41,15.07 L618.80,14.96 L619.20,14.85 L619.60,14.74 L620.00,14.64 L620.39,14.53 L620.79,14.43 L621.19,14.33 L621.59,14.23 L621.98,14.13 L622.38,14.04 L622.78,13.94 L623.18,13.85 L623.58,13.76 L623.97,13.67 L624.37,13.58 L624.77,13.50 L625.17,13.41 L625.56,13.33 L625.96,13.25 L626.36,13.17 L626.76,13.09 L627.15,13.01 L627.55,12.93 L627.95,12.86 L628.35,12.78 L628.74,12.71 L629.14,12.64 L629.54,12.57 L629.94,12.50 L630.33,12.43 L630.73,12.36 L631.13,12.30 L631.53,12.23 L631.93,12.17 L632.32,12.10 L632.72,12.04 L633.12,11.98 L633.52,11.92 L633.91,11.86 L634.31,11.80 L634.71,11.75 L635.11,11.69 L635.50,11.63 L635.90,11.58 L636.30,11.52 L636.70,11.47 L637.09,11.42 L637.49,11.36 L637.89,11.31 L638.29,11.26 L638.69,11.21 L639.08,11.16 L639.48,11.12 L639.88,11.07 L640.28,11.02 L640.67,10.97 L641.07,10.93 L641.47,10.88 L641.87,10.84 L642.26,10.80 L642.66,10.75 L643.06,10.71 L643.46,10.67 L643.85,10.63 L644.25,10.58 L644.65,10.54 L645.05,10.50 L645.44,10.47 L645.84,10.43 L646.24,10.39 L646.64,10.35 L647.04,10.31 L647.43,10.28 L647.83,10.24 L648.23,10.20 L648.63,10.17 L649.02,10.13 L649.42,10.10 L649.82,10.06 L650.22,10.03 L650.61,10.00 L651.01,9.96 L651.41,9.93 L651.81,9.90 L652.20,9.87 L652.60,9.84 L653.00,9.81 L653.40,9.78 L653.79,9.75 L654.19,9.72 L654.59,9.69 L654.99,9.66 L655.39,9.63 L655.78,9.60 L656.18,9.57 L656.58,9.54 L656.98,9.52 L657.37,9.49 L657.77,9.46 L658.17,9.44 L658.57,9.41 L658.96,9.38 L659.36,9.36 L659.76,9.33 L660.16,9.31 L660.55,9.28 L660.95,9.26 L661.35,9.24 L661.75,9.21 L662.14,9.19 L662.54,9.16 L662.94,9.14 L663.34,9.12 L663.74,9.10 L664.13,9.07 L664.53,9.05 L664.93,9.03 L665.33,9.01 L665.72,8.99 L666.12,8.97 L666.52,8.94 L666.92,8.92 L667.31,8.90 L667.71,8.88 L668.11,8.86 L668.51,8.84 L668.90,8.82 L669.30,8.80 L669.70,8.78 L670.10,8.77 L670.50,8.75 L670.89,8.73 L671.29,8.71 L671.69,8.69 L672.09,8.67 L672.48,8.66 L672.88,8.64 L673.28,8.62 L673.68,8.60 L674.07,8.59 L674.47,8.57 L674.87,8.55 L675.27,8.54 L675.66,8.52 L676.06,8.50 L676.46,8.49 L676.86,8.47 L677.25,8.45 L677.65,8.44 L678.05,8.42 L678.45,8.41 L678.85,8.39 L679.24,8.38 L679.64,8.36 L680.04,8.35 L680.44,8.33 L680.83,8.32 L681.23,8.30 L681.63,8.29 L682.03,8.28 L682.42,8.26 L682.82,8.25 L683.22,8.23 L683.62,8.22 L684.01,8.21 L684.41,8.19 L684.81,8.18 L685.21,8.17 L685.60,8.15 L686.00,8.14 L686.40,8.13" stroke="#444" stroke-width="4.0" fill="none" stroke-dasharray="1.1 1.9"/>
<path d="M50.20,6.47 L50.60,6.48 L51.00,6.48 L51.39,6.48 L51.79,6.48 L52.19,6.49 L52.59,6.49 L52.98,6.49 L53.38,6.49 L53.78,6.49 L54.18,6.50 L54.57,6.50 L54.97,6.50 L55.37,6.50 L55.77,6.51 L56.16,6.51 L56.56,6.51 L56.96,6.51 L57.36,6.52 L57.75,6.52 L58.15,6.52 L58.55,6.52 L58.95,6.53 L59.35,6.53 L59.74,6.53 L60.14,6.53 L60.54,6.54 L60.94,6.54 L61.33,6.54 L61.73,6.54 L62.13,6.55 L62.53,6.55 L62.92,6.55 L63.32,6.55 L63.72,6.56 L64.12,6.56 L64.51,6.56 L64.91,6.57 L65.31,6.57 L65.71,6.57 L66.11,6.57 L66.50,6.58 L66.90,6.58 L67.30,6.58 L67.70,6.59 L68.09,6.59 L68.49,6.59 L68.89,6.60 L69.29,6.60 L69.68,6.60 L70.08,6.60 L70.48,6.61 L70.88,6.61 L71.27,6.61 L71.67,6.62 L72.07,6.62 L72.47,6.62 L72.86,6.63 L73.26,6.63 L73.66,6.63 L74.06,6.64 L74.46,6.64 L74.85,6.64 L75.25,6.65 L75.65,6.65 L76.05,6.65 L76.44,6.66 L76.84,6.66 L77.24,6.66 L77.64,6.67 L78.03,6.67 L78.43,6.67 L78.83,6.68 L79.23,6.68 L79.62,6.69 L80.02,6.69 L80.42,6.69 L80.82,6.70 L81.21,6.70 L81.61,6.70 L82.01,6.71 L82.41,6.71 L82.81,6.72 L83.20,6.72 L83.60,6.72 L84.00,6.73 L84.40,6.73 L84.79,6.74 L85.19,6.74 L85.59,6.74 L85.99,6.75 L86.38,6.75 L86.78,6.76 L87.18,6.76 L87.58,6.77 L87.97,6.77 L88.37,6.78 L88.77,6.78 L89.17,6.78 L89.56,6.79 L89.96,6.79 L90.36,6.80 L90.76,6.80 L91.16,6.81 L91.55,6.81 L91.95,6.82 L92.35,6.82 L92.75,6.83 L93.14,6.83 L93.54,6.84 L93.94,6.84 L94.34,6.85 L94.73,6.85 L95.13,6.86 L95.53,6.86 L95.93,6.87 L96.32,6.87 L96.72,6.88 L97.12,6.88 L97.52,6.89 L97.91,6.89 L98.31,6.90 L98.71,6.91 L99.11,6.91 L99.51,6.92 L99.90,6.92 L100.30,6.93 L100.70,6.93 L101.10,6.94 L101.49,6.95 L101.89,6.95 L102.29,6.96 L102.69,6.96 L103.08,6.97 L103.48,6.98 L103.88,6.98 L104.28,6.99 L104.67,7.00 L105.07,7.00 L105.47,7.01 L105.87,7.02 L106.27,7.02 L106.66,7.03 L107.06,7.04 L107.46,7.04 L107.86,7.05 L108.25,7.06 L108.65,7.07 L109.05,7.07 L109.45,7.08 L109.84,7.09 L110.24,7.09 L110.64,7.10 L111.04,7.11 L111.43,7.12 L111.83,7.13 L112.23,7.13 L112.63,7.14 L113.02,7.15 L113.42,7.16 L113.82,7.17 L114.22,7.17 L114.62,7.18 L115.01,7.19 L115.41,7.20 L115.81,7.21 L116.21,7.22 L116.60,7.23 L117.00,7.23 L117.40,7.24 L117.80,7.25 L118.19,7.26 L118.59,7.27 L118.99,7.28 L119.39,7.29 L119.78,7.30 L120.18,7.31 L120.58,7.32 L120.98,7.33 L121.37,7.34 L121.77,7.35 L122.17,7.36 L122.57,7.37 L122.97,7.38 L123.36,7.39 L123.76,7.40 L124.16,7.41 L124.56,7.43 L124.95,7.44 L125.35,7.45 L125.75,7.46 L126.15,7.47 L126.54,7.48 L126.94,7.50 L127.34,7.51 L127.74,7.52 L128.13,7.53 L128.53,7.55 L128.93,7.56 L129.33,7.57 L129.72,7.58 L130.12,7.60 L130.52,7.61 L130.92,7.62 L131.32,7.64 L131.71,7.65 L132.11,7.67 L132.51,7.68 L132.91,7.70 L133.30,7.71 L133.70,7.73 L134.10,7.74 L134.50,7.76 L134.89,7.77 L135.29,7.79 L135.69,7.80 L136.09,7.82 L136.48,7.84 L136.88,7.85 L137.28,7.87 L137.68,7.89 L138.08,7.90 L138.47,7.92 L138.87,7.94 L139.27,7.96 L139.67,7.98 L140.06,7.99 L140.46,8.01 L140.86,8.03 L141.26,8.05 L141.65,8.07 L142.05,8.09 L142.45,8.11 L142.85,8.13 L143.24,8.15 L143.64,8.17 L144.04,8.20 L144.44,8.22 L144.83,8.24 L145.23,8.26 L145.63,8.29 L146.03,8.31 L146.43,8.33 L146.82,8.36 L147.22,8.38 L147.62,8.41 L148.02,8.43 L148.41,8.46 L148.81,8.48 L149.21,8.51 L149.61,8.54 L150.00,8.56 L150.40,8.59 L150.80,8.62 L151.20,8.65 L151.59,8.68 L151.99,8.71 L152.39,8.74 L152.79,8.77 L153.18,8.80 L153.58,8.83 L153.98,8.86 L154.38,8.90 L154.78,8.93 L155.17,8.97 L155.57,9.00 L155.97,9.04 L156.37,9.07 L156.76,9.11 L157.16,9.15 L157.56,9.18 L157.96,9.22 L158.35,9.26 L158.75,9.30 L159.15,9.34 L159.55,9.38 L159.94,9.43 L160.34,9.47 L160.74,9.51 L161.14,9.56 L161.54,9.61 L161.93,9.65 L162.33,9.70 L162.73,9.75 L163.13,9.80 L163.52,9.85 L163.92,9.90 L164.32,9.95 L164.72,10.01 L165.11,10.06 L165.51,10.12 L165.91,10.18 L166.31,10.23 L166.70,10.29 L167.10,10.36 L167.50,10.42 L167.90,10.48 L168.29,10.55 L168.69,10.61 L169.09,10.68 L169.49,10.75 L169.89,10.82 L170.28,10.90 L170.68,10.97 L171.08,11.05 L171.48,11.13 L171.87,11.21 L172.27,11.29 L172.67,11.37 L173.07,11.46 L173.46,11.54 L173.86,11.63 L174.26,11.73 L174.66,11.82 L175.05,11.92 L175.45,12.02 L175.85,12.12 L176.25,12.22 L176.64,12.33 L177.04,12.44 L177.44,12.55 L177.84,12.67 L178.24,12.79 L178.63,12.91 L179.03,13.04 L179.43,13.16 L179.83,13.30 L180.22,13.43 L180.62,13.57 L181.02,13.72 L181.42,13.86 L181.81,14.02 L182.21,14.17 L182.61,14.33 L183.01,14.50 L183.40,14.67 L183.80,14.85 L184.20,15.03 L184.60,15.22 L184.99,15.41 L185.39,15.61 L185.79,15.81 L186.19,16.02 L186.59,16.24 L186.98,16.47 L187.38,16.70 L187.78,16.94 L188.18,17.19 L188.57,17.45 L188.97,17.71 L189.37,17.99 L189.77,18.27 L190.16,18.56 L190.56,18.87 L190.96,19.18 L191.36,19.51 L191.75,19.85 L192.15,20.20 L192.55,20.56 L192.95,20.94 L193.34,21.33 L193.74,21.74 L194.14,22.16 L194.54,22.60 L194.94,23.06 L195.33,23.53 L195.73,24.03 L196.13,24.54 L196.53,25.08 L196.92,25.63 L197.32,26.21 L197.72,26.82 L198.12,27.45 L198.51,28.11 L198.91,28.80 L199.31,29.52 L199.71,30.27 L200.10,31.06 L200.50,31.88 L200.90,32.74 L201.30,33.64 L201.70,34.59 L202.09,35.58 L202.49,36.62 L202.89,37.71 L203.29,38.85 L203.68,40.05 L204.08,41.32 L204.48,42.65 L204.88,44.05 L205.27,45.53 L205.67,47.09 L206.07,48.73 L206.47,50.46 L206.86,52.30 L207.26,54.23 L207.66,56.29 L208.06,58.46 L208.45,60.77 L208.85,63.22 L209.25,65.82 L209.65,68.59 L210.05,71.55 L210.44,74.70 L210.84,78.07 L211.24,81.68 L211.64,85.55 L212.03,89.72 L212.43,94.22 L212.83,99.08 L213.23,104.35 L213.62,110.10 L214.02,116.38 L214.42,123.29 L214.82,130.93 L215.21,139.43 L215.61,148.97 L216.01,159.78 L216.41,172.13 L216.80,186.37 L217.20,202.82 L217.22,203.67 L217.29,206.53 L217.35,209.44 L217.41,212.40 L217.48,215.41 L217.54,218.45 L217.60,221.37 L217.60,221.52 L217.67,224.60 L217.73,227.68 L217.79,230.73 L217.86,233.73 L217.92,236.65 L217.99,239.45 L218.00,239.99 L218.05,242.09 L218.11,244.53 L218.18,246.71 L218.24,248.59 L218.30,250.11 L218.37,251.23 L218.40,251.59 L218.43,251.92 L218.49,252.15 L218.56,251.92 L218.62,251.24 L218.68,250.13 L218.75,248.63 L218.79,247.37 L218.81,246.78 L218.88,244.62 L218.94,242.21 L219.00,239.60 L219.07,236.82 L219.13,233.93 L219.19,231.10 L219.19,230.95 L219.26,227.92 L219.32,224.87 L219.38,221.81 L219.45,218.76 L219.51,215.73 L219.58,212.74 L219.59,212.15 L219.64,209.79 L219.70,206.89 L219.77,204.04 L219.99,194.65 L220.38,179.39 L220.78,166.17 L221.18,154.66 L221.58,144.53 L221.97,135.54 L222.37,127.50 L222.77,120.25 L223.17,113.67 L223.56,107.67 L223.96,102.17 L224.36,97.11 L224.76,92.43 L225.15,88.11 L225.55,84.09 L225.95,80.35 L226.35,76.86 L226.75,73.60 L227.14,70.54 L227.54,67.68 L227.94,64.99 L228.34,62.46 L228.73,60.08 L229.13,57.84 L229.53,55.73 L229.93,53.73 L230.32,51.84 L230.72,50.06 L231.12,48.37 L231.52,46.76 L231.91,45.25 L232.31,43.81 L232.71,42.44 L233.11,41.14 L233.51,39.90 L233.90,38.73 L234.30,37.61 L234.70,36.54 L235.10,35.53 L235.49,34.56 L235.89,33.63 L236.29,32.75 L236.69,31.91 L237.08,31.11 L237.48,30.34 L237.88,29.60 L238.28,28.90 L238.67,28.22 L239.07,27.58 L239.47,26.96 L239.87,26.37 L240.26,25.80 L240.66,25.25 L241.06,24.73 L241.46,24.22 L241.86,23.74 L242.25,23.28 L242.65,22.83 L243.05,22.40 L243.45,21.99 L243.84,21.59 L244.24,21.21 L244.64,20.84 L245.04,20.49 L245.43,20.14 L245.83,19.81 L246.23,19.49 L246.63,19.19 L247.02,18.89 L247.42,18.61 L247.82,18.33 L248.22,18.06 L248.61,17.80 L249.01,17.55 L249.41,17.31 L249.81,17.08 L250.21,16.86 L250.60,16.64 L251.00,16.43 L251.40,16.22 L251.80,16.02 L252.19,15.83 L252.59,15.65 L252.99,15.47 L253.39,15.29 L253.78,15.12 L254.18,14.96 L254.58,14.80 L254.98,14.65 L255.37,14.50 L255.77,14.35 L256.17,14.21 L256.57,14.08 L256.96,13.94 L257.36,13.81 L257.76,13.69 L258.16,13.57 L258.56,13.45 L258.95,13.34 L259.35,13.22 L259.75,13.12 L260.15,13.01 L260.54,12.91 L260.94,12.81 L261.34,12.71 L261.74,12.62 L262.13,12.53 L262.53,12.44 L262.93,12.35 L263.33,12.27 L263.72,12.18 L264.12,12.11 L264.52,12.03 L264.92,11.95 L265.32,11.88 L265.71,11.81 L266.11,11.74 L266.51,11.67 L266.91,11.60 L267.30,11.54 L267.70,11.48 L268.10,11.42 L268.50,11.36 L268.89,11.30 L269.29,11.25 L269.69,11.19 L270.09,11.14 L270.48,11.09 L270.88,11.04 L271.28,10.99 L271.68,10.94 L272.07,10.90 L272.47,10.85 L272.87,10.81 L273.27,10.77 L273.67,10.73 L274.06,10.69 L274.46,10.65 L274.86,10.61 L275.26,10.57 L275.65,10.54 L276.05,10.50 L276.45,10.47 L276.85,10.44 L277.24,10.41 L277.64,10.38 L278.04,10.35 L278.44,10.32 L278.83,10.29 L279.23,10.27 L279.63,10.24 L280.03,10.22 L280.42,10.20 L280.82,10.17 L281.22,10.15 L281.62,10.13 L282.02,10.11 L282.41,10.09 L282.81,10.07 L283.21,10.06 L283.61,10.04 L284.00,10.03 L284.40,10.01 L284.80,10.00 L285.20,9.98 L285.59,9.97 L285.99,9.96 L286.39,9.95 L286.79,9.94 L287.18,9.93 L287.58,9.92 L287.98,9.91 L288.38,9.91 L288.77,9.90 L289.17,9.90 L289.57,9.89 L289.97,9.89 L290.37,9.89 L290.76,9.89 L291.16,9.89 L291.56,9.89 L291.96,9.89 L292.35,9.89 L292.75,9.89 L293.15,9.89 L293.55,9.90 L293.94,9.90 L294.34,9.91 L294.74,9.92 L295.14,9.92 L295.53,9.93 L295.93,9.94 L296.33,9.95 L296.73,9.97 L297.13,9.98 L297.52,9.99 L297.92,10.01 L298.32,10.02 L298.72,10.04 L299.11,10.06 L299.51,10.08 L299.91,10.10 L300.31,10.12 L300.70,10.14 L301.10,10.17 L301.50,10.19 L301.90,10.22 L302.29,10.25 L302.69,10.28 L303.09,10.31 L303.49,10.34 L303.88,10.37 L304.28,10.41 L304.68,10.45 L305.08,10.48 L305.48,10.52 L305.87,10.57 L306.27,10.61 L306.67,10.66 L307.07,10.70 L307.46,10.75 L307.86,10.81 L308.26,10.86 L308.66,10.92 L309.05,10.98 L309.45,11.04 L309.85,11.10 L310.25,11.17 L310.64,11.24 L311.04,11.31 L311.44,11.38 L311.84,11.46 L312.23,11.54 L312.63,11.63 L313.03,11.72 L313.43,11.81 L313.83,11.90 L314.22,12.00 L314.62,12.11 L315.02,12.22 L315.42,12.33 L315.81,12.45 L316.21,12.57 L316.61,12.70 L317.01,12.84 L317.40,12.98 L317.80,13.12 L318.20,13.28 L318.60,13.44 L318.99,13.61 L319.39,13.78 L319.79,13.97 L320.19,14.16 L320.58,14.36 L320.98,14.57 L321.38,14.80 L321.78,15.03 L322.18,15.27 L322.57,15.53 L322.97,15.80 L323.37,16.09 L323.77,16.39 L324.16,16.71 L324.56,17.04 L324.96,17.39 L325.36,17.76 L325.75,18.15 L326.15,18.57 L326.55,19.00 L326.95,19.47 L327.34,19.96 L327.74,20.48 L328.14,21.03 L328.54,21.62 L328.94,22.24 L329.33,22.91 L329.73,23.61 L330.13,24.36 L330.53,25.17 L330.92,26.02 L331.32,26.94 L331.72,27.92 L332.12,28.96 L332.51,30.08 L332.91,31.28 L333.31,32.57 L333.71,33.96 L334.10,35.44 L334.50,37.04 L334.90,38.76 L335.30,40.62 L335.69,42.61 L336.09,44.76 L336.49,47.07 L336.89,49.56 L337.29,52.25 L337.68,55.13 L338.08,58.23 L338.48,61.55 L338.88,65.10 L339.27,68.88 L339.67,72.87 L340.07,77.06 L340.47,81.41 L340.86,85.85 L341.26,90.28 L341.66,94.56 L342.06,98.50 L342.29,100.56 L342.35,101.08 L342.42,101.59 L342.45,101.88 L342.48,102.07 L342.54,102.53 L342.61,102.97 L342.67,103.39 L342.73,103.78 L342.80,104.15 L342.85,104.44 L342.86,104.49 L342.93,104.81 L342.99,105.10 L343.05,105.36 L343.12,105.59 L343.18,105.79 L343.24,105.96 L343.25,105.97 L343.31,106.10 L343.37,106.21 L343.43,106.29 L343.50,106.33 L343.56,106.35 L343.62,106.33 L343.65,106.32 L343.69,106.29 L343.75,106.21 L343.82,106.10 L343.88,105.96 L343.94,105.78 L344.01,105.58 L344.04,105.45 L344.07,105.35 L344.13,105.09 L344.20,104.80 L344.26,104.49 L344.32,104.14 L344.39,103.77 L344.44,103.44 L344.45,103.38 L344.52,102.96 L344.58,102.52 L344.64,102.06 L344.71,101.57 L344.77,101.07 L344.83,100.54 L344.84,100.49 L345.24,96.83 L345.64,92.72 L346.03,88.34 L346.43,83.89 L346.83,79.47 L347.23,75.18 L347.62,71.07 L348.02,67.16 L348.42,63.48 L348.82,60.02 L349.21,56.80 L349.61,53.79 L350.01,50.99 L350.41,48.39 L350.80,45.97 L351.20,43.73 L351.60,41.65 L352.00,39.72 L352.39,37.92 L352.79,36.25 L353.19,34.70 L353.59,33.26 L353.99,31.91 L354.38,30.66 L354.78,29.49 L355.18,28.40 L355.58,27.38 L355.97,26.43 L356.37,25.54 L356.77,24.70 L357.17,23.92 L357.56,23.19 L357.96,22.50 L358.36,21.85 L358.76,21.24 L359.15,20.66 L359.55,20.12 L359.95,19.61 L360.35,19.13 L360.75,18.67 L361.14,18.24 L361.54,17.84 L361.94,17.45 L362.34,17.09 L362.73,16.74 L363.13,16.41 L363.53,16.10 L363.93,15.80 L364.32,15.52 L364.72,15.25 L365.12,14.99 L365.52,14.75 L365.91,14.52 L366.31,14.30 L366.71,14.09 L367.11,13.88 L367.50,13.69 L367.90,13.51 L368.30,13.33 L368.70,13.16 L369.10,13.00 L369.49,12.84 L369.89,12.70 L370.29,12.55 L370.69,12.42 L371.08,12.29 L371.48,12.16 L371.88,12.04 L372.28,11.93 L372.67,11.81 L373.07,11.71 L373.47,11.60 L373.87,11.51 L374.26,11.41 L374.66,11.32 L375.06,11.23 L375.46,11.15 L375.85,11.06 L376.25,10.99 L376.65,10.91 L377.05,10.84 L377.45,10.77 L377.84,10.70 L378.24,10.63 L378.64,10.57 L379.04,10.51 L379.43,10.45 L379.83,10.39 L380.23,10.34 L380.63,10.29 L381.02,10.23 L381.42,10.19 L381.82,10.14 L382.22,10.09 L382.61,10.05 L383.01,10.00 L383.41,9.96 L383.81,9.92 L384.20,9.88 L384.60,9.85 L385.00,9.81 L385.40,9.78 L385.80,9.74 L386.19,9.71 L386.59,9.68 L386.99,9.65 L387.39,9.62 L387.78,9.59 L388.18,9.57 L388.58,9.54 L388.98,9.52 L389.37,9.49 L389.77,9.47 L390.17,9.45 L390.57,9.42 L390.96,9.40 L391.36,9.38 L391.76,9.37 L392.16,9.35 L392.56,9.33 L392.95,9.31 L393.35,9.30 L393.75,9.28 L394.15,9.27 L394.54,9.25 L394.94,9.24 L395.34,9.23 L395.74,9.22 L396.13,9.20 L396.53,9.19 L396.93,9.18 L397.33,9.17 L397.72,9.17 L398.12,9.16 L398.52,9.15 L398.92,9.14 L399.31,9.13 L399.71,9.13 L400.11,9.12 L400.51,9.12 L400.91,9.11 L401.30,9.11 L401.70,9.11 L402.10,9.10 L402.50,9.10 L402.89,9.10 L403.29,9.10 L403.69,9.09 L404.09,9.09 L404.48,9.09 L404.88,9.09 L405.28,9.09 L405.68,9.10 L406.07,9.10 L406.47,9.10 L406.87,9.10 L407.27,9.10 L407.66,9.11 L408.06,9.11 L408.46,9.12 L408.86,9.12 L409.26,9.13 L409.65,9.13 L410.05,9.14 L410.45,9.14 L410.85,9.15 L411.24,9.16 L411.64,9.17 L412.04,9.18 L412.44,9.18 L412.83,9.19 L413.23,9.20 L413.63,9.21 L414.03,9.22 L414.42,9.23 L414.82,9.25 L415.22,9.26 L415.62,9.27 L416.01,9.28 L416.41,9.30 L416.81,9.31 L417.21,9.33 L417.61,9.34 L418.00,9.36 L418.40,9.37 L418.80,9.39 L419.20,9.41 L419.59,9.42 L419.99,9.44 L420.39,9.46 L420.79,9.48 L421.18,9.50 L421.58,9.52 L421.98,9.54 L422.38,9.56 L422.77,9.58 L423.17,9.61 L423.57,9.63 L423.97,9.65 L424.37,9.68 L424.76,9.70 L425.16,9.73 L425.56,9.75 L425.96,9.78 L426.35,9.81 L426.75,9.84 L427.15,9.87 L427.55,9.90 L427.94,9.93 L428.34,9.96 L428.74,9.99 L429.14,10.02 L429.53,10.06 L429.93,10.09 L430.33,10.13 L430.73,10.16 L431.12,10.20 L431.52,10.24 L431.92,10.28 L432.32,10.32 L432.72,10.36 L433.11,10.40 L433.51,10.44 L433.91,10.49 L434.31,10.53 L434.70,10.58 L435.10,10.63 L435.50,10.67 L435.90,10.72 L436.29,10.77 L436.69,10.83 L437.09,10.88 L437.49,10.93 L437.88,10.99 L438.28,11.05 L438.68,11.10 L439.08,11.16 L439.47,11.23 L439.87,11.29 L440.27,11.35 L440.67,11.42 L441.07,11.49 L441.46,11.56 L441.86,11.63 L442.26,11.70 L442.66,11.78 L443.05,11.85 L443.45,11.93 L443.85,12.01 L444.25,12.10 L444.64,12.18 L445.04,12.27 L445.44,12.36 L445.84,12.45 L446.23,12.54 L446.63,12.64 L447.03,12.74 L447.43,12.84 L447.82,12.95 L448.22,13.06 L448.62,13.17 L449.02,13.28 L449.42,13.40 L449.81,13.52 L450.21,13.65 L450.61,13.77 L451.01,13.91 L451.40,14.04 L451.80,14.18 L452.20,14.33 L452.60,14.47 L452.99,14.63 L453.39,14.78 L453.79,14.95 L454.19,15.11 L454.58,15.29 L454.98,15.47 L455.38,15.65 L455.78,15.84 L456.18,16.03 L456.57,16.24 L456.97,16.45 L457.37,16.66 L457.77,16.89 L458.16,17.12 L458.56,17.35 L458.96,17.60 L459.36,17.86 L459.75,18.12 L460.15,18.40 L460.55,18.68 L460.95,18.97 L461.34,19.28 L461.74,19.60 L462.14,19.92 L462.54,20.26 L462.93,20.62 L463.33,20.99 L463.73,21.37 L464.13,21.76 L464.53,22.18 L464.92,22.60 L465.32,23.05 L465.72,23.52 L466.12,24.00 L466.51,24.50 L466.91,25.03 L467.31,25.58 L467.71,26.15 L468.10,26.74 L468.50,27.37 L468.90,28.02 L469.30,28.70 L469.69,29.41 L470.09,30.15 L470.49,30.93 L470.89,31.75 L471.28,32.60 L471.68,33.49 L472.08,34.43 L472.48,35.41 L472.88,36.45 L473.27,37.53 L473.67,38.67 L474.07,39.86 L474.47,41.12 L474.86,42.44 L475.26,43.83 L475.66,45.29 L476.06,46.83 L476.45,48.45 L476.85,50.16 L477.25,51.96 L477.65,53.86 L478.04,55.86 L478.44,57.96 L478.84,60.19 L479.24,62.53 L479.63,65.00 L480.03,67.60 L480.43,70.34 L480.83,73.22 L481.23,76.25 L481.62,79.44 L482.02,82.77 L482.42,86.25 L482.82,89.89 L483.21,93.72 L483.61,97.80 L484.01,102.33 L484.41,107.60 L484.80,113.99 L485.20,121.78 L485.60,130.96 L486.00,141.17 L486.39,151.70 L486.53,155.09 L486.59,156.71 L486.65,158.30 L486.72,159.87 L486.78,161.41 L486.79,161.72 L486.84,162.92 L486.91,164.39 L486.97,165.82 L487.03,167.21 L487.10,168.56 L487.16,169.87 L487.19,170.44 L487.22,171.12 L487.29,172.33 L487.35,173.49 L487.42,174.59 L487.48,175.65 L487.54,176.65 L487.59,177.32 L487.61,177.60 L487.67,178.49 L487.73,179.33 L487.80,180.12 L487.86,180.85 L487.92,181.53 L487.99,182.14 L487.99,182.17 L488.05,182.76 L488.12,183.29 L488.18,183.79 L488.24,184.23 L488.31,184.63 L488.37,184.99 L488.38,185.05 L488.43,185.30 L488.50,185.57 L488.56,185.80 L488.62,186.00 L488.69,186.15 L488.75,186.27 L488.78,186.31 L488.82,186.35 L488.88,186.41 L488.94,186.42 L489.01,186.41 L489.07,186.37 L489.18,186.25 L489.58,185.21 L489.97,183.54 L490.37,181.51 L490.77,179.32 L491.17,177.08 L491.56,174.85 L491.96,172.57 L492.36,170.14 L492.76,167.36 L493.15,164.02 L493.55,159.89 L493.95,154.82 L494.35,148.82 L494.74,142.13 L495.14,135.24 L495.54,128.88 L495.94,123.84 L496.34,120.77 L496.73,120.06 L497.13,121.73 L497.53,125.58 L497.93,131.37 L498.32,138.96 L498.72,148.34 L499.12,159.56 L499.32,165.86 L499.38,167.94 L499.45,170.04 L499.51,172.16 L499.52,172.38 L499.57,174.30 L499.64,176.45 L499.70,178.59 L499.76,180.71 L499.83,182.80 L499.89,184.83 L499.91,185.53 L499.96,186.80 L500.02,188.67 L500.08,190.42 L500.15,192.03 L500.21,193.47 L500.27,194.72 L500.31,195.36 L500.34,195.74 L500.40,196.51 L500.46,197.02 L500.53,197.24 L500.59,197.17 L500.66,196.92 L500.71,196.66 L500.72,196.61 L500.78,196.24 L500.85,195.82 L500.91,195.33 L500.97,194.78 L501.04,194.19 L501.10,193.53 L501.11,193.46 L501.16,192.83 L501.23,192.07 L501.29,191.27 L501.35,190.42 L501.42,189.53 L501.48,188.60 L501.50,188.27 L501.55,187.63 L501.61,186.63 L501.67,185.59 L501.74,184.53 L501.80,183.43 L501.86,182.31 L501.90,181.63 L502.30,174.16 L502.70,166.33 L503.09,158.49 L503.49,150.85 L503.89,143.52 L504.29,136.58 L504.69,130.03 L505.08,123.88 L505.48,118.11 L505.88,112.71 L506.28,107.65 L506.67,102.92 L507.07,98.48 L507.47,94.32 L507.87,90.42 L508.26,86.75 L508.66,83.31 L509.06,80.07 L509.46,77.03 L509.85,74.16 L510.25,71.46 L510.65,68.91 L511.05,66.51 L511.44,64.23 L511.84,62.09 L512.24,60.06 L512.64,58.13 L513.04,56.31 L513.43,54.59 L513.83,52.95 L514.23,51.40 L514.63,49.93 L515.02,48.53 L515.42,47.20 L515.82,45.93 L516.22,44.73 L516.61,43.58 L517.01,42.49 L517.41,41.45 L517.81,40.46 L518.20,39.51 L518.60,38.61 L519.00,37.75 L519.40,36.93 L519.80,36.14 L520.19,35.39 L520.59,34.67 L520.99,33.98 L521.39,33.33 L521.78,32.70 L522.18,32.09 L522.58,31.52 L522.98,30.97 L523.37,30.44 L523.77,29.93 L524.17,29.44 L524.57,28.98 L524.96,28.53 L525.36,28.10 L525.76,27.69 L526.16,27.30 L526.55,26.92 L526.95,26.56 L527.35,26.21 L527.75,25.88 L528.15,25.56 L528.54,25.26 L528.94,24.97 L529.34,24.69 L529.74,24.42 L530.13,24.16 L530.53,23.92 L530.93,23.68 L531.33,23.46 L531.72,23.24 L532.12,23.04 L532.52,22.85 L532.92,22.66 L533.31,22.48 L533.71,22.32 L534.11,22.16 L534.51,22.01 L534.90,21.87 L535.30,21.73 L535.70,21.61 L536.10,21.49 L536.50,21.38 L536.89,21.27 L537.29,21.18 L537.69,21.09 L538.09,21.01 L538.48,20.94 L538.88,20.87 L539.28,20.81 L539.68,20.76 L540.07,20.71 L540.47,20.67 L540.87,20.64 L541.27,20.62 L541.66,20.60 L542.06,20.59 L542.46,20.59 L542.86,20.59 L543.25,20.60 L543.65,20.62 L544.05,20.64 L544.45,20.68 L544.85,20.72 L545.24,20.77 L545.64,20.82 L546.04,20.89 L546.44,20.96 L546.83,21.04 L547.23,21.13 L547.63,21.23 L548.03,21.33 L548.42,21.45 L548.82,21.58 L549.22,21.71 L549.62,21.86 L550.01,22.01 L550.41,22.18 L550.81,22.36 L551.21,22.55 L551.61,22.75 L552.00,22.96 L552.40,23.19 L552.80,23.43 L553.20,23.68 L553.59,23.95 L553.99,24.24 L554.39,24.54 L554.79,24.86 L555.18,25.19 L555.58,25.55 L555.98,25.92 L556.38,26.32 L556.77,26.73 L557.17,27.17 L557.57,27.63 L557.97,28.12 L558.36,28.63 L558.76,29.18 L559.16,29.75 L559.56,30.35 L559.96,30.99 L560.35,31.66 L560.75,32.37 L561.15,33.12 L561.55,33.91 L561.94,34.75 L562.34,35.63 L562.74,36.57 L563.14,37.56 L563.53,38.60 L563.93,39.71 L564.33,40.89 L564.73,42.14 L565.12,43.46 L565.52,44.86 L565.92,46.36 L566.32,47.94 L566.71,49.63 L567.11,51.43 L567.51,53.35 L567.91,55.39 L568.31,57.57 L568.70,59.91 L569.10,62.41 L569.50,65.08 L569.90,67.95 L570.29,71.04 L570.69,74.36 L571.09,77.94 L571.49,81.81 L571.88,86.00 L572.28,90.55 L572.68,95.50 L573.08,100.91 L573.47,106.84 L573.87,113.37 L574.27,120.61 L574.67,128.66 L575.06,137.70 L575.46,147.91 L575.86,159.54 L576.26,172.90 L576.66,188.24 L576.78,193.58 L576.85,196.33 L576.91,199.12 L576.97,201.95 L577.04,204.81 L577.05,205.53 L577.10,207.70 L577.16,210.60 L577.23,213.50 L577.29,216.39 L577.36,219.24 L577.42,222.02 L577.45,223.39 L577.48,224.72 L577.55,227.30 L577.61,229.72 L577.67,231.94 L577.74,233.91 L577.80,235.60 L577.85,236.66 L577.86,236.97 L577.93,237.97 L577.99,238.58 L578.06,238.79 L578.12,238.62 L578.18,238.14 L578.25,237.35 L578.31,236.26 L578.37,234.91 L578.44,233.31 L578.50,231.51 L578.56,229.52 L578.63,227.37 L578.64,226.81 L578.69,225.10 L578.75,222.73 L578.82,220.28 L578.88,217.78 L578.95,215.24 L579.01,212.68 L579.04,211.39 L579.07,210.11 L579.14,207.54 L579.20,204.98 L579.26,202.44 L579.33,199.93 L579.44,195.60 L579.84,181.11 L580.23,168.23 L580.63,156.84 L581.03,146.75 L581.43,137.75 L581.82,129.67 L582.22,122.38 L582.62,115.77 L583.02,109.73 L583.42,104.20 L583.81,99.12 L584.21,94.43 L584.61,90.09 L585.01,86.07 L585.40,82.33 L585.80,78.85 L586.20,75.60 L586.60,72.56 L586.99,69.73 L587.39,67.07 L587.79,64.58 L588.19,62.24 L588.58,60.04 L588.98,57.97 L589.38,56.03 L589.78,54.20 L590.17,52.48 L590.57,50.86 L590.97,49.33 L591.37,47.89 L591.77,46.53 L592.16,45.24 L592.56,44.03 L592.96,42.89 L593.36,41.82 L593.75,40.80 L594.15,39.84 L594.55,38.94 L594.95,38.09 L595.34,37.28 L595.74,36.53 L596.14,35.81 L596.54,35.14 L596.93,34.52 L597.33,33.92 L597.73,33.37 L598.13,32.85 L598.52,32.36 L598.92,31.91 L599.32,31.49 L599.72,31.09 L600.12,30.72 L600.51,30.38 L600.91,30.07 L601.31,29.78 L601.71,29.52 L602.10,29.28 L602.50,29.06 L602.90,28.86 L603.30,28.68 L603.69,28.52 L604.09,28.38 L604.49,28.26 L604.89,28.16 L605.28,28.07 L605.68,28.01 L606.08,27.95 L606.48,27.91 L606.88,27.89 L607.27,27.88 L607.67,27.89 L608.07,27.90 L608.47,27.93 L608.86,27.97 L609.26,28.03 L609.66,28.09 L610.06,28.17 L610.45,28.25 L610.85,28.35 L611.25,28.45 L611.65,28.56 L612.04,28.68 L612.44,28.81 L612.84,28.95 L613.24,29.09 L613.63,29.24 L614.03,29.39 L614.43,29.55 L614.83,29.72 L615.23,29.89 L615.62,30.06 L616.02,30.24 L616.42,30.42 L616.82,30.60 L617.21,30.78 L617.61,30.97 L618.01,31.16 L618.41,31.34 L618.80,31.53 L619.20,31.72 L619.60,31.91 L620.00,32.10 L620.39,32.28 L620.79,32.46 L621.19,32.64 L621.59,32.82 L621.98,33.00 L622.38,33.17 L622.78,33.34 L623.18,33.50 L623.58,33.66 L623.97,33.81 L624.37,33.96 L624.77,34.10 L625.17,34.23 L625.56,34.36 L625.96,34.48 L626.36,34.60 L626.76,34.70 L627.15,34.80 L627.55,34.89 L627.95,34.97 L628.35,35.05 L628.74,35.11 L629.14,35.17 L629.54,35.21 L629.94,35.25 L630.33,35.28 L630.73,35.29 L631.13,35.30 L631.53,35.30 L631.93,35.28 L632.32,35.26 L632.72,35.22 L633.12,35.18 L633.52,35.12 L633.91,35.06 L634.31,34.98 L634.71,34.89 L635.11,34.79 L635.50,34.69 L635.90,34.57 L636.30,34.44 L636.70,34.30 L637.09,34.15 L637.49,33.99 L637.89,33.82 L638.29,33.64 L638.69,33.45 L639.08,33.25 L639.48,33.04 L639.88,32.83 L640.28,32.60 L640.67,32.37 L641.07,32.13 L641.47,31.88 L641.87,31.62 L642.26,31.35 L642.66,31.08 L643.06,30.80 L643.46,30.52 L643.85,30.22 L644.25,29.93 L644.65,29.62 L645.05,29.31 L645.44,29.00 L645.84,28.68 L646.24,28.36 L646.64,28.03 L647.04,27.70 L647.43,27.36 L647.83,27.03 L648.23,26.69 L648.63,26.34 L649.02,26.00 L649.42,25.65 L649.82,25.31 L650.22,24.96 L650.61,24.61 L651.01,24.26 L651.41,23.91 L651.81,23.56 L652.20,23.21 L652.60,22.86 L653.00,22.52 L653.40,22.17 L653.79,21.83 L654.19,21.49 L654.59,21.15 L654.99,20.81 L655.39,20.47 L655.78,20.14 L656.18,19.81 L656.58,19.49 L656.98,19.17 L657.37,18.85 L657.77,18.53 L658.17,18.22 L658.57,17.92 L658.96,17.62 L659.36,17.32 L659.76,17.02 L660.16,16.74 L660.55,16.45 L660.95,16.17 L661.35,15.90 L661.75,15.63 L662.14,15.37 L662.54,15.11 L662.94,14.86 L663.34,14.61 L663.74,14.37 L664.13,14.13 L664.53,13.90 L664.93,13.67 L665.33,13.45 L665.72,13.24 L666.12,13.03 L666.52,12.82 L666.92,12.62 L667.31,12.43 L667.71,12.24 L668.11,12.05 L668.51,11.88 L668.90,11.70 L669.30,11.53 L669.70,11.37 L670.10,11.21 L670.50,11.06 L670.89,10.91 L671.29,10.76 L671.69,10.62 L672.09,10.49 L672.48,10.36 L672.88,10.23 L673.28,10.11 L673.68,9.99 L674.07,9.88 L674.47,9.77 L674.87,9.66 L675.27,9.56 L675.66,9.46 L676.06,9.36 L676.46,9.27 L676.86,9.18 L677.25,9.10 L677.65,9.02 L678.05,8.94 L678.45,8.86 L678.85,8.79 L679.24,8.72 L679.64,8.65 L680.04,8.59 L680.44,8.53 L680.83,8.47 L681.23,8.41 L681.63,8.36 L682.03,8.31 L682.42,8.25 L682.82,8.21 L683.22,8.16 L683.62,8.12 L684.01,8.07 L684.41,8.03 L684.81,7.99 L685.21,7.96 L685.60,7.92 L686.00,7.89 L686.40,7.85" stroke="#000" stroke-width="3.4" fill="none" stroke-dasharray="6 2.4"/>
<path d="M50.20,6.64 L50.60,6.64 L51.00,6.65 L51.39,6.65 L51.79,6.65 L52.19,6.66 L52.59,6.66 L52.98,6.66 L53.38,6.67 L53.78,6.67 L54.18,6.67 L54.57,6.67 L54.97,6.68 L55.37,6.68 L55.77,6.68 L56.16,6.69 L56.56,6.69 L56.96,6.69 L57.36,6.70 L57.75,6.70 L58.15,6.70 L58.55,6.71 L58.95,6.71 L59.35,6.71 L59.74,6.72 L60.14,6.72 L60.54,6.72 L60.94,6.73 L61.33,6.73 L61.73,6.73 L62.13,6.74 L62.53,6.74 L62.92,6.74 L63.32,6.75 L63.72,6.75 L64.12,6.76 L64.51,6.76 L64.91,6.76 L65.31,6.77 L65.71,6.77 L66.11,6.77 L66.50,6.78 L66.90,6.78 L67.30,6.79 L67.70,6.79 L68.09,6.79 L68.49,6.80 L68.89,6.80 L69.29,6.81 L69.68,6.81 L70.08,6.81 L70.48,6.82 L70.88,6.82 L71.27,6.83 L71.67,6.83 L72.07,6.83 L72.47,6.84 L72.86,6.84 L73.26,6.85 L73.66,6.85 L74.06,6.86 L74.46,6.86 L74.85,6.87 L75.25,6.87 L75.65,6.87 L76.05,6.88 L76.44,6.88 L76.84,6.89 L77.24,6.89 L77.64,6.90 L78.03,6.90 L78.43,6.91 L78.83,6.91 L79.23,6.92 L79.62,6.92 L80.02,6.93 L80.42,6.93 L80.82,6.94 L81.21,6.94 L81.61,6.95 L82.01,6.95 L82.41,6.96 L82.81,6.96 L83.20,6.97 L83.60,6.97 L84.00,6.98 L84.40,6.98 L84.79,6.99 L85.19,6.99 L85.59,7.00 L85.99,7.01 L86.38,7.01 L86.78,7.02 L87.18,7.02 L87.58,7.03 L87.97,7.03 L88.37,7.04 L88.77,7.05 L89.17,7.05 L89.56,7.06 L89.96,7.06 L90.36,7.07 L90.76,7.08 L91.16,7.08 L91.55,7.09 L91.95,7.09 L92.35,7.10 L92.75,7.11 L93.14,7.11 L93.54,7.12 L93.94,7.13 L94.34,7.13 L94.73,7.14 L95.13,7.15 L95.53,7.15 L95.93,7.16 L96.32,7.17 L96.72,7.17 L97.12,7.18 L97.52,7.19 L97.91,7.20 L98.31,7.20 L98.71,7.21 L99.11,7.22 L99.51,7.23 L99.90,7.23 L100.30,7.24 L100.70,7.25 L101.10,7.26 L101.49,7.26 L101.89,7.27 L102.29,7.28 L102.69,7.29 L103.08,7.30 L103.48,7.30 L103.88,7.31 L104.28,7.32 L104.67,7.33 L105.07,7.34 L105.47,7.35 L105.87,7.36 L106.27,7.36 L106.66,7.37 L107.06,7.38 L107.46,7.39 L107.86,7.40 L108.25,7.41 L108.65,7.42 L109.05,7.43 L109.45,7.44 L109.84,7.45 L110.24,7.46 L110.64,7.47 L111.04,7.48 L111.43,7.49 L111.83,7.50 L112.23,7.51 L112.63,7.52 L113.02,7.53 L113.42,7.54 L113.82,7.55 L114.22,7.56 L114.62,7.57 L115.01,7.58 L115.41,7.59 L115.81,7.60 L116.21,7.61 L116.60,7.63 L117.00,7.64 L117.40,7.65 L117.80,7.66 L118.19,7.67 L118.59,7.69 L118.99,7.70 L119.39,7.71 L119.78,7.72 L120.18,7.74 L120.58,7.75 L120.98,7.76 L121.37,7.77 L121.77,7.79 L122.17,7.80 L122.57,7.81 L122.97,7.83 L123.36,7.84 L123.76,7.86 L124.16,7.87 L124.56,7.88 L124.95,7.90 L125.35,7.91 L125.75,7.93 L126.15,7.94 L126.54,7.96 L126.94,7.97 L127.34,7.99 L127.74,8.00 L128.13,8.02 L128.53,8.04 L128.93,8.05 L129.33,8.07 L129.72,8.09 L130.12,8.10 L130.52,8.12 L130.92,8.14 L131.32,8.15 L131.71,8.17 L132.11,8.19 L132.51,8.21 L132.91,8.23 L133.30,8.24 L133.70,8.26 L134.10,8.28 L134.50,8.30 L134.89,8.32 L135.29,8.34 L135.69,8.36 L136.09,8.38 L136.48,8.40 L136.88,8.42 L137.28,8.44 L137.68,8.47 L138.08,8.49 L138.47,8.51 L138.87,8.53 L139.27,8.55 L139.67,8.58 L140.06,8.60 L140.46,8.62 L140.86,8.65 L141.26,8.67 L141.65,8.70 L142.05,8.72 L142.45,8.75 L142.85,8.77 L143.24,8.80 L143.64,8.82 L144.04,8.85 L144.44,8.88 L144.83,8.91 L145.23,8.93 L145.63,8.96 L146.03,8.99 L146.43,9.02 L146.82,9.05 L147.22,9.08 L147.62,9.11 L148.02,9.14 L148.41,9.17 L148.81,9.20 L149.21,9.24 L149.61,9.27 L150.00,9.30 L150.40,9.34 L150.80,9.37 L151.20,9.41 L151.59,9.44 L151.99,9.48 L152.39,9.51 L152.79,9.55 L153.18,9.59 L153.58,9.63 L153.98,9.67 L154.38,9.70 L154.78,9.75 L155.17,9.79 L155.57,9.83 L155.97,9.87 L156.37,9.91 L156.76,9.96 L157.16,10.00 L157.56,10.05 L157.96,10.09 L158.35,10.14 L158.75,10.19 L159.15,10.23 L159.55,10.28 L159.94,10.33 L160.34,10.39 L160.74,10.44 L161.14,10.49 L161.54,10.54 L161.93,10.60 L162.33,10.65 L162.73,10.71 L163.13,10.77 L163.52,10.83 L163.92,10.89 L164.32,10.95 L164.72,11.01 L165.11,11.07 L165.51,11.14 L165.91,11.20 L166.31,11.27 L166.70,11.34 L167.10,11.41 L167.50,11.48 L167.90,11.55 L168.29,11.63 L168.69,11.70 L169.09,11.78 L169.49,11.86 L169.89,11.94 L170.28,12.02 L170.68,12.10 L171.08,12.19 L171.48,12.28 L171.87,12.37 L172.27,12.46 L172.67,12.55 L173.07,12.64 L173.46,12.74 L173.86,12.84 L174.26,12.94 L174.66,13.04 L175.05,13.15 L175.45,13.26 L175.85,13.37 L176.25,13.48 L176.64,13.60 L177.04,13.71 L177.44,13.83 L177.84,13.96 L178.24,14.08 L178.63,14.21 L179.03,14.35 L179.43,14.48 L179.83,14.62 L180.22,14.76 L180.62,14.91 L181.02,15.06 L181.42,15.21 L181.81,15.37 L182.21,15.53 L182.61,15.70 L183.01,15.87 L183.40,16.04 L183.80,16.22 L184.20,16.40 L184.60,16.59 L184.99,16.78 L185.39,16.98 L185.79,17.18 L186.19,17.39 L186.59,17.61 L186.98,17.83 L187.38,18.06 L187.78,18.29 L188.18,18.53 L188.57,18.77 L188.97,19.03 L189.37,19.29 L189.77,19.56 L190.16,19.84 L190.56,20.12 L190.96,20.41 L191.36,20.72 L191.75,21.03 L192.15,21.35 L192.55,21.68 L192.95,22.02 L193.34,22.37 L193.74,22.74 L194.14,23.11 L194.54,23.50 L194.94,23.90 L195.33,24.31 L195.73,24.74 L196.13,25.18 L196.53,25.64 L196.92,26.11 L197.32,26.60 L197.72,27.10 L198.12,27.63 L198.51,28.17 L198.91,28.73 L199.31,29.31 L199.71,29.91 L200.10,30.53 L200.50,31.18 L200.90,31.85 L201.30,32.55 L201.70,33.27 L202.09,34.02 L202.49,34.80 L202.89,35.61 L203.29,36.45 L203.68,37.33 L204.08,38.24 L204.48,39.18 L204.88,40.17 L205.27,41.20 L205.67,42.27 L206.07,43.39 L206.47,44.55 L206.86,45.76 L207.26,47.03 L207.66,48.35 L208.06,49.74 L208.45,51.18 L208.85,52.69 L209.25,54.27 L209.65,55.93 L210.05,57.66 L210.44,59.48 L210.84,61.39 L211.24,63.39 L211.64,65.49 L212.03,67.70 L212.43,70.02 L212.83,72.47 L213.23,75.04 L213.62,77.76 L214.02,80.63 L214.42,83.67 L214.82,86.88 L215.21,90.28 L215.61,93.89 L216.01,97.73 L216.41,101.81 L216.80,106.17 L217.20,110.82 L217.60,115.80 L218.00,121.14 L218.40,126.89 L218.79,133.08 L219.19,139.76 L219.59,146.98 L219.99,154.77 L220.38,163.18 L220.78,172.16 L221.18,181.63 L221.58,191.25 L221.71,194.50 L221.78,195.98 L221.84,197.44 L221.90,198.87 L221.97,200.27 L221.97,200.41 L222.03,201.63 L222.09,202.94 L222.16,204.20 L222.22,205.41 L222.29,206.55 L222.35,207.62 L222.37,207.97 L222.41,208.61 L222.48,209.52 L222.54,210.34 L222.60,211.06 L222.67,211.69 L222.73,212.20 L222.77,212.46 L222.79,212.61 L222.86,212.90 L222.92,213.08 L222.99,213.14 L223.05,213.05 L223.11,212.80 L223.17,212.46 L223.18,212.39 L223.24,211.81 L223.30,211.08 L223.37,210.21 L223.43,209.20 L223.49,208.06 L223.56,206.82 L223.56,206.69 L223.62,205.47 L223.69,204.02 L223.75,202.50 L223.81,200.91 L223.88,199.26 L223.94,197.55 L223.96,196.95 L224.00,195.81 L224.07,194.03 L224.13,192.23 L224.19,190.41 L224.26,188.57 L224.36,185.62 L224.76,174.20 L225.15,163.39 L225.55,153.40 L225.95,144.28 L226.35,135.96 L226.75,128.37 L227.14,121.43 L227.54,115.07 L227.94,109.22 L228.34,103.82 L228.73,98.83 L229.13,94.20 L229.53,89.89 L229.93,85.88 L230.32,82.14 L230.72,78.64 L231.12,75.36 L231.52,72.28 L231.91,69.39 L232.31,66.67 L232.71,64.11 L233.11,61.70 L233.51,59.42 L233.90,57.27 L234.30,55.24 L234.70,53.32 L235.10,51.49 L235.49,49.77 L235.89,48.13 L236.29,46.57 L236.69,45.10 L237.08,43.69 L237.48,42.36 L237.88,41.09 L238.28,39.88 L238.67,38.73 L239.07,37.63 L239.47,36.59 L239.87,35.59 L240.26,34.64 L240.66,33.73 L241.06,32.86 L241.46,32.02 L241.86,31.23 L242.25,30.47 L242.65,29.74 L243.05,29.04 L243.45,28.37 L243.84,27.73 L244.24,27.11 L244.64,26.52 L245.04,25.95 L245.43,25.41 L245.83,24.89 L246.23,24.38 L246.63,23.90 L247.02,23.44 L247.42,22.99 L247.82,22.56 L248.22,22.14 L248.61,21.74 L249.01,21.36 L249.41,20.99 L249.81,20.63 L250.21,20.28 L250.60,19.95 L251.00,19.63 L251.40,19.32 L251.80,19.02 L252.19,18.73 L252.59,18.45 L252.99,18.18 L253.39,17.92 L253.78,17.67 L254.18,17.42 L254.58,17.18 L254.98,16.95 L255.37,16.73 L255.77,16.52 L256.17,16.31 L256.57,16.11 L256.96,15.91 L257.36,15.72 L257.76,15.54 L258.16,15.36 L258.56,15.19 L258.95,15.02 L259.35,14.85 L259.75,14.70 L260.15,14.54 L260.54,14.39 L260.94,14.25 L261.34,14.11 L261.74,13.97 L262.13,13.84 L262.53,13.71 L262.93,13.58 L263.33,13.46 L263.72,13.34 L264.12,13.22 L264.52,13.11 L264.92,13.00 L265.32,12.89 L265.71,12.79 L266.11,12.69 L266.51,12.59 L266.91,12.49 L267.30,12.40 L267.70,12.31 L268.10,12.22 L268.50,12.13 L268.89,12.05 L269.29,11.96 L269.69,11.88 L270.09,11.80 L270.48,11.73 L270.88,11.65 L271.28,11.58 L271.68,11.51 L272.07,11.44 L272.47,11.37 L272.87,11.31 L273.27,11.24 L273.67,11.18 L274.06,11.12 L274.46,11.06 L274.86,11.00 L275.26,10.95 L275.65,10.89 L276.05,10.84 L276.45,10.78 L276.85,10.73 L277.24,10.68 L277.64,10.63 L278.04,10.58 L278.44,10.54 L278.83,10.49 L279.23,10.45 L279.63,10.40 L280.03,10.36 L280.42,10.32 L280.82,10.28 L281.22,10.24 L281.62,10.20 L282.02,10.16 L282.41,10.13 L282.81,10.09 L283.21,10.05 L283.61,10.02 L284.00,9.99 L284.40,9.95 L284.80,9.92 L285.20,9.89 L285.59,9.86 L285.99,9.83 L286.39,9.80 L286.79,9.77 L287.18,9.75 L287.58,9.72 L287.98,9.69 L288.38,9.67 L288.77,9.64 L289.17,9.62 L289.57,9.60 L289.97,9.57 L290.37,9.55 L290.76,9.53 L291.16,9.51 L291.56,9.49 L291.96,9.47 L292.35,9.45 L292.75,9.43 L293.15,9.41 L293.55,9.40 L293.94,9.38 L294.34,9.36 L294.74,9.35 L295.14,9.33 L295.53,9.32 L295.93,9.30 L296.33,9.29 L296.73,9.28 L297.13,9.26 L297.52,9.25 L297.92,9.24 L298.32,9.23 L298.72,9.22 L299.11,9.21 L299.51,9.20 L299.91,9.19 L300.31,9.18 L300.70,9.17 L301.10,9.16 L301.50,9.16 L301.90,9.15 L302.29,9.14 L302.69,9.14 L303.09,9.13 L303.49,9.13 L303.88,9.12 L304.28,9.12 L304.68,9.11 L305.08,9.11 L305.48,9.11 L305.87,9.10 L306.27,9.10 L306.67,9.10 L307.07,9.10 L307.46,9.10 L307.86,9.10 L308.26,9.10 L308.66,9.10 L309.05,9.10 L309.45,9.11 L309.85,9.11 L310.25,9.11 L310.64,9.11 L311.04,9.12 L311.44,9.12 L311.84,9.13 L312.23,9.13 L312.63,9.14 L313.03,9.15 L313.43,9.15 L313.83,9.16 L314.22,9.17 L314.62,9.18 L315.02,9.19 L315.42,9.20 L315.81,9.21 L316.21,9.22 L316.61,9.23 L317.01,9.24 L317.40,9.26 L317.80,9.27 L318.20,9.29 L318.60,9.30 L318.99,9.32 L319.39,9.33 L319.79,9.35 L320.19,9.37 L320.58,9.39 L320.98,9.41 L321.38,9.43 L321.78,9.45 L322.18,9.47 L322.57,9.49 L322.97,9.52 L323.37,9.54 L323.77,9.57 L324.16,9.59 L324.56,9.62 L324.96,9.65 L325.36,9.68 L325.75,9.71 L326.15,9.74 L326.55,9.77 L326.95,9.81 L327.34,9.84 L327.74,9.88 L328.14,9.91 L328.54,9.95 L328.94,9.99 L329.33,10.03 L329.73,10.08 L330.13,10.12 L330.53,10.17 L330.92,10.21 L331.32,10.26 L331.72,10.31 L332.12,10.37 L332.51,10.42 L332.91,10.48 L333.31,10.54 L333.71,10.60 L334.10,10.66 L334.50,10.72 L334.90,10.79 L335.30,10.86 L335.69,10.93 L336.09,11.01 L336.49,11.08 L336.89,11.16 L337.29,11.25 L337.68,11.33 L338.08,11.42 L338.48,11.51 L338.88,11.61 L339.27,11.71 L339.67,11.81 L340.07,11.92 L340.47,12.03 L340.86,12.15 L341.26,12.27 L341.66,12.39 L342.06,12.52 L342.45,12.66 L342.85,12.80 L343.25,12.94 L343.65,13.10 L344.04,13.26 L344.44,13.42 L344.84,13.60 L345.24,13.78 L345.64,13.97 L346.03,14.16 L346.43,14.37 L346.83,14.58 L347.23,14.81 L347.62,15.04 L348.02,15.29 L348.42,15.55 L348.82,15.82 L349.21,16.10 L349.61,16.40 L350.01,16.72 L350.41,17.04 L350.80,17.39 L351.20,17.75 L351.60,18.14 L352.00,18.54 L352.39,18.96 L352.79,19.41 L353.19,19.89 L353.59,20.39 L353.99,20.91 L354.38,21.47 L354.78,22.06 L355.18,22.69 L355.58,23.35 L355.97,24.06 L356.37,24.81 L356.77,25.60 L357.17,26.44 L357.56,27.34 L357.96,28.30 L358.36,29.32 L358.76,30.40 L359.15,31.56 L359.55,32.80 L359.95,34.12 L360.35,35.54 L360.75,37.05 L361.14,38.66 L361.54,40.39 L361.94,42.24 L362.34,44.22 L362.73,46.34 L363.13,48.61 L363.53,51.02 L363.93,53.61 L364.32,56.36 L364.72,59.28 L365.12,62.38 L365.52,65.65 L365.91,69.08 L366.31,72.66 L366.71,76.34 L367.11,80.09 L367.50,83.84 L367.90,87.50 L368.30,90.95 L368.70,94.05 L368.92,95.57 L368.98,95.97 L369.05,96.36 L369.10,96.64 L369.11,96.73 L369.17,97.08 L369.24,97.42 L369.30,97.73 L369.37,98.03 L369.43,98.31 L369.49,98.56 L369.49,98.56 L369.56,98.80 L369.62,99.02 L369.68,99.21 L369.75,99.38 L369.81,99.53 L369.87,99.66 L369.89,99.69 L369.94,99.76 L370.00,99.85 L370.07,99.90 L370.13,99.94 L370.19,99.95 L370.26,99.94 L370.29,99.92 L370.32,99.89 L370.38,99.81 L370.45,99.70 L370.51,99.56 L370.57,99.39 L370.64,99.19 L370.69,99.02 L370.70,98.96 L370.77,98.70 L370.83,98.42 L370.89,98.11 L370.96,97.77 L371.02,97.40 L371.08,97.01 L371.15,96.60 L371.21,96.16 L371.27,95.70 L371.34,95.22 L371.40,94.72 L371.47,94.21 L371.48,94.07 L371.88,90.46 L372.28,86.40 L372.67,82.11 L373.07,77.75 L373.47,73.46 L373.87,69.30 L374.26,65.33 L374.66,61.58 L375.06,58.06 L375.46,54.77 L375.85,51.72 L376.25,48.88 L376.65,46.25 L377.05,43.82 L377.45,41.58 L377.84,39.50 L378.24,37.58 L378.64,35.80 L379.04,34.15 L379.43,32.63 L379.83,31.22 L380.23,29.91 L380.63,28.70 L381.02,27.57 L381.42,26.52 L381.82,25.55 L382.22,24.64 L382.61,23.79 L383.01,23.00 L383.41,22.26 L383.81,21.57 L384.20,20.93 L384.60,20.32 L385.00,19.75 L385.40,19.22 L385.80,18.72 L386.19,18.24 L386.59,17.80 L386.99,17.38 L387.39,16.99 L387.78,16.61 L388.18,16.26 L388.58,15.93 L388.98,15.61 L389.37,15.32 L389.77,15.03 L390.17,14.77 L390.57,14.51 L390.96,14.27 L391.36,14.04 L391.76,13.82 L392.16,13.61 L392.56,13.42 L392.95,13.23 L393.35,13.05 L393.75,12.88 L394.15,12.72 L394.54,12.56 L394.94,12.41 L395.34,12.27 L395.74,12.13 L396.13,12.00 L396.53,11.88 L396.93,11.76 L397.33,11.64 L397.72,11.54 L398.12,11.43 L398.52,11.33 L398.92,11.23 L399.31,11.14 L399.71,11.05 L400.11,10.97 L400.51,10.89 L400.91,10.81 L401.30,10.73 L401.70,10.66 L402.10,10.59 L402.50,10.52 L402.89,10.46 L403.29,10.40 L403.69,10.34 L404.09,10.28 L404.48,10.22 L404.88,10.17 L405.28,10.12 L405.68,10.07 L406.07,10.02 L406.47,9.98 L406.87,9.93 L407.27,9.89 L407.66,9.85 L408.06,9.81 L408.46,9.78 L408.86,9.74 L409.26,9.70 L409.65,9.67 L410.05,9.64 L410.45,9.61 L410.85,9.58 L411.24,9.55 L411.64,9.52 L412.04,9.50 L412.44,9.47 L412.83,9.45 L413.23,9.42 L413.63,9.40 L414.03,9.38 L414.42,9.36 L414.82,9.34 L415.22,9.32 L415.62,9.30 L416.01,9.29 L416.41,9.27 L416.81,9.25 L417.21,9.24 L417.61,9.23 L418.00,9.21 L418.40,9.20 L418.80,9.19 L419.20,9.18 L419.59,9.17 L419.99,9.16 L420.39,9.15 L420.79,9.14 L421.18,9.13 L421.58,9.12 L421.98,9.12 L422.38,9.11 L422.77,9.11 L423.17,9.10 L423.57,9.10 L423.97,9.09 L424.37,9.09 L424.76,9.09 L425.16,9.08 L425.56,9.08 L425.96,9.08 L426.35,9.08 L426.75,9.08 L427.15,9.08 L427.55,9.08 L427.94,9.08 L428.34,9.09 L428.74,9.09 L429.14,9.09 L429.53,9.09 L429.93,9.10 L430.33,9.10 L430.73,9.11 L431.12,9.11 L431.52,9.12 L431.92,9.12 L432.32,9.13 L432.72,9.14 L433.11,9.14 L433.51,9.15 L433.91,9.16 L434.31,9.17 L434.70,9.18 L435.10,9.19 L435.50,9.20 L435.90,9.21 L436.29,9.22 L436.69,9.23 L437.09,9.25 L437.49,9.26 L437.88,9.27 L438.28,9.29 L438.68,9.30 L439.08,9.32 L439.47,9.33 L439.87,9.35 L440.27,9.36 L440.67,9.38 L441.07,9.40 L441.46,9.42 L441.86,9.44 L442.26,9.45 L442.66,9.47 L443.05,9.49 L443.45,9.52 L443.85,9.54 L444.25,9.56 L444.64,9.58 L445.04,9.61 L445.44,9.63 L445.84,9.65 L446.23,9.68 L446.63,9.71 L447.03,9.73 L447.43,9.76 L447.82,9.79 L448.22,9.82 L448.62,9.85 L449.02,9.88 L449.42,9.91 L449.81,9.94 L450.21,9.97 L450.61,10.00 L451.01,10.04 L451.40,10.07 L451.80,10.11 L452.20,10.14 L452.60,10.18 L452.99,10.22 L453.39,10.26 L453.79,10.30 L454.19,10.34 L454.58,10.38 L454.98,10.43 L455.38,10.47 L455.78,10.52 L456.18,10.56 L456.57,10.61 L456.97,10.66 L457.37,10.71 L457.77,10.76 L458.16,10.82 L458.56,10.87 L458.96,10.92 L459.36,10.98 L459.75,11.04 L460.15,11.10 L460.55,11.16 L460.95,11.22 L461.34,11.29 L461.74,11.35 L462.14,11.42 L462.54,11.49 L462.93,11.56 L463.33,11.63 L463.73,11.71 L464.13,11.79 L464.53,11.86 L464.92,11.95 L465.32,12.03 L465.72,12.11 L466.12,12.20 L466.51,12.29 L466.91,12.39 L467.31,12.48 L467.71,12.58 L468.10,12.68 L468.50,12.78 L468.90,12.89 L469.30,13.00 L469.69,13.11 L470.09,13.23 L470.49,13.35 L470.89,13.47 L471.28,13.60 L471.68,13.73 L472.08,13.87 L472.48,14.01 L472.88,14.15 L473.27,14.30 L473.67,14.45 L474.07,14.61 L474.47,14.77 L474.86,14.94 L475.26,15.12 L475.66,15.30 L476.06,15.48 L476.45,15.68 L476.85,15.88 L477.25,16.08 L477.65,16.30 L478.04,16.52 L478.44,16.75 L478.84,16.99 L479.24,17.23 L479.63,17.49 L480.03,17.76 L480.43,18.04 L480.83,18.32 L481.23,18.62 L481.62,18.93 L482.02,19.26 L482.42,19.60 L482.82,19.95 L483.21,20.31 L483.61,20.70 L484.01,21.09 L484.41,21.51 L484.80,21.95 L485.20,22.40 L485.60,22.88 L486.00,23.38 L486.39,23.90 L486.79,24.45 L487.19,25.02 L487.59,25.62 L487.99,26.25 L488.38,26.92 L488.78,27.62 L489.18,28.35 L489.58,29.13 L489.97,29.94 L490.37,30.81 L490.77,31.72 L491.17,32.68 L491.56,33.69 L491.96,34.77 L492.36,35.90 L492.76,37.11 L493.15,38.39 L493.55,39.75 L493.95,41.19 L494.35,42.72 L494.74,44.35 L495.14,46.08 L495.54,47.92 L495.94,49.88 L496.34,51.98 L496.73,54.21 L497.13,56.58 L497.53,59.11 L497.93,61.81 L498.32,64.69 L498.72,67.75 L499.12,71.02 L499.52,74.52 L499.91,78.28 L500.31,82.34 L500.71,86.77 L501.11,91.62 L501.50,96.96 L501.90,102.82 L502.30,109.19 L502.70,116.01 L503.09,123.14 L503.49,130.38 L503.71,134.21 L503.77,135.34 L503.83,136.46 L503.89,137.46 L503.90,137.57 L503.96,138.67 L504.02,139.76 L504.09,140.83 L504.15,141.89 L504.21,142.94 L504.28,143.96 L504.29,144.11 L504.34,144.97 L504.41,145.96 L504.47,146.93 L504.53,147.88 L504.60,148.81 L504.66,149.71 L504.69,150.07 L504.72,150.59 L504.79,151.45 L504.85,152.29 L504.91,153.10 L504.98,153.88 L505.04,154.62 L505.08,155.07 L505.11,155.30 L505.17,155.92 L505.23,156.49 L505.30,156.99 L505.36,157.43 L505.42,157.82 L505.48,158.13 L505.49,158.16 L505.55,158.44 L505.61,158.66 L505.68,158.84 L505.74,158.97 L505.81,159.06 L505.87,159.10 L505.88,159.10 L505.93,159.09 L506.00,159.05 L506.06,158.98 L506.12,158.87 L506.19,158.73 L506.25,158.55 L506.28,158.48 L506.67,156.82 L507.07,154.63 L507.47,152.26 L507.87,149.97 L508.26,147.94 L508.66,146.27 L509.06,145.05 L509.46,144.31 L509.85,144.10 L510.25,144.42 L510.65,145.31 L511.05,146.75 L511.44,148.75 L511.84,151.30 L512.24,154.39 L512.64,157.98 L513.04,162.03 L513.43,166.48 L513.83,171.22 L514.23,176.10 L514.63,180.88 L515.02,185.23 L515.25,187.30 L515.31,187.82 L515.37,188.32 L515.42,188.66 L515.44,188.77 L515.50,189.19 L515.56,189.56 L515.63,189.89 L515.69,190.17 L515.76,190.40 L515.82,190.58 L515.82,190.58 L515.88,190.70 L515.95,190.77 L516.01,190.78 L516.07,190.72 L516.14,190.60 L516.20,190.42 L516.22,190.36 L516.26,190.17 L516.33,189.85 L516.39,189.46 L516.46,189.00 L516.52,188.48 L516.58,187.90 L516.61,187.59 L516.65,187.28 L516.71,186.62 L516.77,185.93 L516.84,185.20 L516.90,184.43 L516.96,183.62 L517.01,183.00 L517.03,182.79 L517.09,181.91 L517.15,181.01 L517.22,180.07 L517.28,179.10 L517.35,178.10 L517.41,177.08 L517.47,176.02 L517.54,174.94 L517.60,173.83 L517.66,172.70 L517.73,171.55 L517.79,170.38 L517.81,170.09 L518.20,162.37 L518.60,154.27 L519.00,146.13 L519.40,138.23 L519.80,130.77 L520.19,123.87 L520.59,117.58 L520.99,111.88 L521.39,106.73 L521.78,102.04 L522.18,97.74 L522.58,93.76 L522.98,90.05 L523.37,86.56 L523.77,83.28 L524.17,80.17 L524.57,77.24 L524.96,74.46 L525.36,71.83 L525.76,69.34 L526.16,66.99 L526.55,64.76 L526.95,62.64 L527.35,60.64 L527.75,58.75 L528.15,56.95 L528.54,55.25 L528.94,53.64 L529.34,52.10 L529.74,50.65 L530.13,49.28 L530.53,47.97 L530.93,46.73 L531.33,45.55 L531.72,44.43 L532.12,43.37 L532.52,42.36 L532.92,41.40 L533.31,40.49 L533.71,39.63 L534.11,38.81 L534.51,38.03 L534.90,37.29 L535.30,36.59 L535.70,35.93 L536.10,35.29 L536.50,34.70 L536.89,34.13 L537.29,33.59 L537.69,33.08 L538.09,32.60 L538.48,32.15 L538.88,31.72 L539.28,31.32 L539.68,30.93 L540.07,30.58 L540.47,30.24 L540.87,29.93 L541.27,29.63 L541.66,29.36 L542.06,29.11 L542.46,28.87 L542.86,28.66 L543.25,28.46 L543.65,28.28 L544.05,28.11 L544.45,27.97 L544.85,27.84 L545.24,27.73 L545.64,27.63 L546.04,27.56 L546.44,27.49 L546.83,27.45 L547.23,27.42 L547.63,27.40 L548.03,27.41 L548.42,27.43 L548.82,27.46 L549.22,27.51 L549.62,27.58 L550.01,27.67 L550.41,27.77 L550.81,27.89 L551.21,28.03 L551.61,28.19 L552.00,28.36 L552.40,28.56 L552.80,28.77 L553.20,29.00 L553.59,29.26 L553.99,29.54 L554.39,29.84 L554.79,30.16 L555.18,30.51 L555.58,30.88 L555.98,31.28 L556.38,31.70 L556.77,32.15 L557.17,32.64 L557.57,33.15 L557.97,33.70 L558.36,34.28 L558.76,34.90 L559.16,35.55 L559.56,36.25 L559.96,36.99 L560.35,37.77 L560.75,38.60 L561.15,39.48 L561.55,40.41 L561.94,41.40 L562.34,42.45 L562.74,43.56 L563.14,44.74 L563.53,45.99 L563.93,47.32 L564.33,48.73 L564.73,50.23 L565.12,51.83 L565.52,53.52 L565.92,55.33 L566.32,57.25 L566.71,59.29 L567.11,61.48 L567.51,63.80 L567.91,66.29 L568.31,68.96 L568.70,71.81 L569.10,74.86 L569.50,78.15 L569.90,81.68 L570.29,85.48 L570.69,89.59 L571.09,94.04 L571.49,98.87 L571.88,104.12 L572.28,109.86 L572.68,116.15 L573.08,123.09 L573.47,130.76 L573.87,139.31 L574.27,148.88 L574.67,159.66 L575.06,171.86 L575.46,185.62 L575.71,195.10 L575.78,197.58 L575.84,200.08 L575.86,200.83 L575.90,202.60 L575.97,205.13 L576.03,207.65 L576.10,210.17 L576.16,212.66 L576.22,215.12 L576.26,216.44 L576.29,217.52 L576.35,219.84 L576.41,222.05 L576.48,224.15 L576.54,226.09 L576.60,227.85 L576.66,229.11 L576.67,229.40 L576.73,230.71 L576.80,231.76 L576.86,232.53 L576.92,232.99 L576.99,233.15 L577.05,233.02 L577.05,233.01 L577.11,232.67 L577.18,232.10 L577.24,231.31 L577.30,230.32 L577.37,229.14 L577.43,227.79 L577.45,227.35 L577.50,226.29 L577.56,224.65 L577.62,222.89 L577.69,221.04 L577.75,219.10 L577.81,217.09 L577.85,215.96 L577.88,215.02 L577.94,212.92 L578.00,210.78 L578.07,208.62 L578.13,206.45 L578.20,204.28 L578.25,202.54 L578.26,202.10 L578.64,189.27 L579.04,176.96 L579.44,165.82 L579.84,155.78 L580.23,146.73 L580.63,138.55 L581.03,131.12 L581.43,124.33 L581.82,118.12 L582.22,112.40 L582.62,107.12 L583.02,102.22 L583.42,97.68 L583.81,93.45 L584.21,89.50 L584.61,85.80 L585.01,82.34 L585.40,79.09 L585.80,76.04 L586.20,73.16 L586.60,70.45 L586.99,67.89 L587.39,65.48 L587.79,63.19 L588.19,61.03 L588.58,58.98 L588.98,57.03 L589.38,55.19 L589.78,53.44 L590.17,51.77 L590.57,50.19 L590.97,48.68 L591.37,47.25 L591.77,45.88 L592.16,44.58 L592.56,43.34 L592.96,42.15 L593.36,41.02 L593.75,39.94 L594.15,38.91 L594.55,37.92 L594.95,36.98 L595.34,36.07 L595.74,35.21 L596.14,34.38 L596.54,33.59 L596.93,32.83 L597.33,32.10 L597.73,31.40 L598.13,30.73 L598.52,30.09 L598.92,29.47 L599.32,28.88 L599.72,28.31 L600.12,27.76 L600.51,27.24 L600.91,26.74 L601.31,26.25 L601.71,25.79 L602.10,25.34 L602.50,24.91 L602.90,24.50 L603.30,24.11 L603.69,23.73 L604.09,23.36 L604.49,23.01 L604.89,22.67 L605.28,22.35 L605.68,22.04 L606.08,21.74 L606.48,21.46 L606.88,21.18 L607.27,20.92 L607.67,20.67 L608.07,20.43 L608.47,20.20 L608.86,19.98 L609.26,19.77 L609.66,19.58 L610.06,19.39 L610.45,19.20 L610.85,19.03 L611.25,18.87 L611.65,18.72 L612.04,18.57 L612.44,18.44 L612.84,18.31 L613.24,18.19 L613.63,18.07 L614.03,17.97 L614.43,17.87 L614.83,17.78 L615.23,17.70 L615.62,17.63 L616.02,17.56 L616.42,17.50 L616.82,17.45 L617.21,17.41 L617.61,17.37 L618.01,17.34 L618.41,17.32 L618.80,17.30 L619.20,17.29 L619.60,17.29 L620.00,17.29 L620.39,17.30 L620.79,17.32 L621.19,17.34 L621.59,17.37 L621.98,17.41 L622.38,17.45 L622.78,17.50 L623.18,17.56 L623.58,17.62 L623.97,17.69 L624.37,17.76 L624.77,17.84 L625.17,17.93 L625.56,18.02 L625.96,18.12 L626.36,18.22 L626.76,18.33 L627.15,18.45 L627.55,18.57 L627.95,18.69 L628.35,18.83 L628.74,18.96 L629.14,19.11 L629.54,19.25 L629.94,19.40 L630.33,19.56 L630.73,19.72 L631.13,19.89 L631.53,20.06 L631.93,20.23 L632.32,20.41 L632.72,20.60 L633.12,20.78 L633.52,20.97 L633.91,21.17 L634.31,21.37 L634.71,21.57 L635.11,21.77 L635.50,21.97 L635.90,22.18 L636.30,22.39 L636.70,22.61 L637.09,22.82 L637.49,23.04 L637.89,23.26 L638.29,23.48 L638.69,23.70 L639.08,23.92 L639.48,24.14 L639.88,24.36 L640.28,24.58 L640.67,24.81 L641.07,25.03 L641.47,25.25 L641.87,25.47 L642.26,25.69 L642.66,25.91 L643.06,26.12 L643.46,26.33 L643.85,26.55 L644.25,26.76 L644.65,26.96 L645.05,27.16 L645.44,27.36 L645.84,27.56 L646.24,27.75 L646.64,27.94 L647.04,28.13 L647.43,28.31 L647.83,28.48 L648.23,28.65 L648.63,28.82 L649.02,28.98 L649.42,29.13 L649.82,29.28 L650.22,29.42 L650.61,29.55 L651.01,29.68 L651.41,29.80 L651.81,29.92 L652.20,30.03 L652.60,30.13 L653.00,30.22 L653.40,30.31 L653.79,30.39 L654.19,30.46 L654.59,30.52 L654.99,30.57 L655.39,30.62 L655.78,30.66 L656.18,30.69 L656.58,30.71 L656.98,30.72 L657.37,30.73 L657.77,30.72 L658.17,30.71 L658.57,30.69 L658.96,30.66 L659.36,30.62 L659.76,30.57 L660.16,30.52 L660.55,30.45 L660.95,30.38 L661.35,30.30 L661.75,30.21 L662.14,30.11 L662.54,30.01 L662.94,29.89 L663.34,29.77 L663.74,29.64 L664.13,29.51 L664.53,29.36 L664.93,29.21 L665.33,29.05 L665.72,28.88 L666.12,28.71 L666.52,28.53 L666.92,28.34 L667.31,28.15 L667.71,27.95 L668.11,27.74 L668.51,27.53 L668.90,27.31 L669.30,27.09 L669.70,26.86 L670.10,26.63 L670.50,26.39 L670.89,26.15 L671.29,25.90 L671.69,25.65 L672.09,25.40 L672.48,25.14 L672.88,24.88 L673.28,24.61 L673.68,24.35 L674.07,24.08 L674.47,23.81 L674.87,23.53 L675.27,23.26 L675.66,22.98 L676.06,22.70 L676.46,22.43 L676.86,22.15 L677.25,21.86 L677.65,21.58 L678.05,21.30 L678.45,21.02 L678.85,20.74 L679.24,20.46 L679.64,20.18 L680.04,19.90 L680.44,19.62 L680.83,19.35 L681.23,19.07 L681.63,18.80 L682.03,18.53 L682.42,18.26 L682.82,17.99 L683.22,17.72 L683.62,17.46 L684.01,17.20 L684.41,16.94 L684.81,16.69 L685.21,16.44 L685.60,16.19 L686.00,15.94 L686.40,15.70" stroke="#000" stroke-width="3.4" fill="none" stroke-dasharray="6.2 2 1.2 2"/>
<path d="M50.20,6.51 L50.60,6.51 L51.00,6.51 L51.39,6.52 L51.79,6.52 L52.19,6.52 L52.59,6.52 L52.98,6.53 L53.38,6.53 L53.78,6.53 L54.18,6.53 L54.57,6.54 L54.97,6.54 L55.37,6.54 L55.77,6.54 L56.16,6.55 L56.56,6.55 L56.96,6.55 L57.36,6.55 L57.75,6.56 L58.15,6.56 L58.55,6.56 L58.95,6.56 L59.35,6.57 L59.74,6.57 L60.14,6.57 L60.54,6.58 L60.94,6.58 L61.33,6.58 L61.73,6.58 L62.13,6.59 L62.53,6.59 L62.92,6.59 L63.32,6.60 L63.72,6.60 L64.12,6.60 L64.51,6.60 L64.91,6.61 L65.31,6.61 L65.71,6.61 L66.11,6.62 L66.50,6.62 L66.90,6.62 L67.30,6.63 L67.70,6.63 L68.09,6.63 L68.49,6.64 L68.89,6.64 L69.29,6.64 L69.68,6.65 L70.08,6.65 L70.48,6.65 L70.88,6.66 L71.27,6.66 L71.67,6.66 L72.07,6.67 L72.47,6.67 L72.86,6.67 L73.26,6.68 L73.66,6.68 L74.06,6.68 L74.46,6.69 L74.85,6.69 L75.25,6.69 L75.65,6.70 L76.05,6.70 L76.44,6.71 L76.84,6.71 L77.24,6.71 L77.64,6.72 L78.03,6.72 L78.43,6.72 L78.83,6.73 L79.23,6.73 L79.62,6.74 L80.02,6.74 L80.42,6.74 L80.82,6.75 L81.21,6.75 L81.61,6.76 L82.01,6.76 L82.41,6.77 L82.81,6.77 L83.20,6.77 L83.60,6.78 L84.00,6.78 L84.40,6.79 L84.79,6.79 L85.19,6.80 L85.59,6.80 L85.99,6.81 L86.38,6.81 L86.78,6.81 L87.18,6.82 L87.58,6.82 L87.97,6.83 L88.37,6.83 L88.77,6.84 L89.17,6.84 L89.56,6.85 L89.96,6.85 L90.36,6.86 L90.76,6.86 L91.16,6.87 L91.55,6.87 L91.95,6.88 L92.35,6.88 L92.75,6.89 L93.14,6.89 L93.54,6.90 L93.94,6.90 L94.34,6.91 L94.73,6.92 L95.13,6.92 L95.53,6.93 L95.93,6.93 L96.32,6.94 L96.72,6.94 L97.12,6.95 L97.52,6.95 L97.91,6.96 L98.31,6.97 L98.71,6.97 L99.11,6.98 L99.51,6.98 L99.90,6.99 L100.30,7.00 L100.70,7.00 L101.10,7.01 L101.49,7.02 L101.89,7.02 L102.29,7.03 L102.69,7.04 L103.08,7.04 L103.48,7.05 L103.88,7.06 L104.28,7.06 L104.67,7.07 L105.07,7.08 L105.47,7.08 L105.87,7.09 L106.27,7.10 L106.66,7.10 L107.06,7.11 L107.46,7.12 L107.86,7.13 L108.25,7.13 L108.65,7.14 L109.05,7.15 L109.45,7.16 L109.84,7.17 L110.24,7.17 L110.64,7.18 L111.04,7.19 L111.43,7.20 L111.83,7.21 L112.23,7.21 L112.63,7.22 L113.02,7.23 L113.42,7.24 L113.82,7.25 L114.22,7.26 L114.62,7.27 L115.01,7.27 L115.41,7.28 L115.81,7.29 L116.21,7.30 L116.60,7.31 L117.00,7.32 L117.40,7.33 L117.80,7.34 L118.19,7.35 L118.59,7.36 L118.99,7.37 L119.39,7.38 L119.78,7.39 L120.18,7.40 L120.58,7.41 L120.98,7.42 L121.37,7.43 L121.77,7.44 L122.17,7.45 L122.57,7.46 L122.97,7.47 L123.36,7.49 L123.76,7.50 L124.16,7.51 L124.56,7.52 L124.95,7.53 L125.35,7.54 L125.75,7.56 L126.15,7.57 L126.54,7.58 L126.94,7.59 L127.34,7.61 L127.74,7.62 L128.13,7.63 L128.53,7.64 L128.93,7.66 L129.33,7.67 L129.72,7.68 L130.12,7.70 L130.52,7.71 L130.92,7.73 L131.32,7.74 L131.71,7.75 L132.11,7.77 L132.51,7.78 L132.91,7.80 L133.30,7.81 L133.70,7.83 L134.10,7.84 L134.50,7.86 L134.89,7.88 L135.29,7.89 L135.69,7.91 L136.09,7.92 L136.48,7.94 L136.88,7.96 L137.28,7.97 L137.68,7.99 L138.08,8.01 L138.47,8.03 L138.87,8.05 L139.27,8.06 L139.67,8.08 L140.06,8.10 L140.46,8.12 L140.86,8.14 L141.26,8.16 L141.65,8.18 L142.05,8.20 L142.45,8.22 L142.85,8.24 L143.24,8.26 L143.64,8.28 L144.04,8.30 L144.44,8.33 L144.83,8.35 L145.23,8.37 L145.63,8.39 L146.03,8.42 L146.43,8.44 L146.82,8.46 L147.22,8.49 L147.62,8.51 L148.02,8.54 L148.41,8.56 L148.81,8.59 L149.21,8.61 L149.61,8.64 L150.00,8.67 L150.40,8.70 L150.80,8.72 L151.20,8.75 L151.59,8.78 L151.99,8.81 L152.39,8.84 L152.79,8.87 L153.18,8.90 L153.58,8.93 L153.98,8.96 L154.38,8.99 L154.78,9.03 L155.17,9.06 L155.57,9.09 L155.97,9.13 L156.37,9.16 L156.76,9.20 L157.16,9.23 L157.56,9.27 L157.96,9.30 L158.35,9.34 L158.75,9.38 L159.15,9.42 L159.55,9.46 L159.94,9.50 L160.34,9.54 L160.74,9.58 L161.14,9.62 L161.54,9.67 L161.93,9.71 L162.33,9.76 L162.73,9.80 L163.13,9.85 L163.52,9.90 L163.92,9.94 L164.32,9.99 L164.72,10.04 L165.11,10.09 L165.51,10.15 L165.91,10.20 L166.31,10.25 L166.70,10.31 L167.10,10.36 L167.50,10.42 L167.90,10.48 L168.29,10.54 L168.69,10.60 L169.09,10.66 L169.49,10.72 L169.89,10.79 L170.28,10.85 L170.68,10.92 L171.08,10.99 L171.48,11.06 L171.87,11.13 L172.27,11.20 L172.67,11.27 L173.07,11.35 L173.46,11.43 L173.86,11.51 L174.26,11.59 L174.66,11.67 L175.05,11.75 L175.45,11.84 L175.85,11.93 L176.25,12.02 L176.64,12.11 L177.04,12.20 L177.44,12.30 L177.84,12.40 L178.24,12.50 L178.63,12.60 L179.03,12.71 L179.43,12.82 L179.83,12.93 L180.22,13.04 L180.62,13.16 L181.02,13.28 L181.42,13.40 L181.81,13.52 L182.21,13.65 L182.61,13.78 L183.01,13.92 L183.40,14.05 L183.80,14.20 L184.20,14.34 L184.60,14.49 L184.99,14.64 L185.39,14.80 L185.79,14.96 L186.19,15.13 L186.59,15.30 L186.98,15.47 L187.38,15.65 L187.78,15.84 L188.18,16.03 L188.57,16.22 L188.97,16.43 L189.37,16.63 L189.77,16.85 L190.16,17.07 L190.56,17.29 L190.96,17.52 L191.36,17.76 L191.75,18.01 L192.15,18.26 L192.55,18.53 L192.95,18.80 L193.34,19.08 L193.74,19.36 L194.14,19.66 L194.54,19.97 L194.94,20.28 L195.33,20.61 L195.73,20.95 L196.13,21.30 L196.53,21.66 L196.92,22.03 L197.32,22.42 L197.72,22.82 L198.12,23.23 L198.51,23.66 L198.91,24.10 L199.31,24.56 L199.71,25.04 L200.10,25.53 L200.50,26.04 L200.90,26.57 L201.30,27.13 L201.70,27.70 L202.09,28.29 L202.49,28.91 L202.89,29.55 L203.29,30.22 L203.68,30.91 L204.08,31.63 L204.48,32.38 L204.88,33.17 L205.27,33.98 L205.67,34.83 L206.07,35.72 L206.47,36.64 L206.86,37.61 L207.26,38.61 L207.66,39.66 L208.06,40.76 L208.45,41.91 L208.85,43.11 L209.25,44.37 L209.65,45.68 L210.05,47.06 L210.44,48.51 L210.84,50.02 L211.24,51.61 L211.64,53.28 L212.03,55.04 L212.43,56.88 L212.83,58.82 L213.23,60.86 L213.62,63.02 L214.02,65.29 L214.42,67.68 L214.82,70.22 L215.21,72.89 L215.61,75.73 L216.01,78.73 L216.41,81.92 L216.80,85.31 L217.20,88.91 L217.60,92.76 L218.00,96.86 L218.40,101.25 L218.79,105.96 L219.19,111.02 L219.59,116.46 L219.99,122.35 L220.38,128.71 L220.78,135.62 L221.18,143.12 L221.58,151.29 L221.97,160.16 L222.37,169.74 L222.77,179.93 L223.17,190.39 L223.22,191.89 L223.29,193.53 L223.35,195.16 L223.41,196.76 L223.48,198.32 L223.54,199.86 L223.56,200.38 L223.61,201.34 L223.67,202.78 L223.73,204.15 L223.80,205.46 L223.86,206.70 L223.92,207.84 L223.96,208.49 L223.99,208.90 L224.05,209.86 L224.11,210.70 L224.18,211.43 L224.24,212.04 L224.31,212.52 L224.36,212.82 L224.37,212.86 L224.43,213.07 L224.50,213.14 L224.56,213.05 L224.62,212.76 L224.69,212.29 L224.75,211.64 L224.76,211.57 L224.81,210.82 L224.88,209.84 L224.94,208.71 L225.01,207.45 L225.07,206.06 L225.13,204.56 L225.15,204.02 L225.20,202.97 L225.26,201.29 L225.32,199.55 L225.39,197.75 L225.45,195.89 L225.51,194.00 L225.55,192.86 L225.58,192.08 L225.64,190.14 L225.71,188.19 L225.77,186.23 L225.95,180.64 L226.35,168.75 L226.75,157.69 L227.14,147.62 L227.54,138.48 L227.94,130.20 L228.34,122.67 L228.73,115.81 L229.13,109.54 L229.53,103.78 L229.93,98.49 L230.32,93.59 L230.72,89.07 L231.12,84.86 L231.52,80.96 L231.91,77.32 L232.31,73.92 L232.71,70.74 L233.11,67.76 L233.51,64.97 L233.90,62.35 L234.30,59.89 L234.70,57.57 L235.10,55.39 L235.49,53.33 L235.89,51.39 L236.29,49.55 L236.69,47.82 L237.08,46.18 L237.48,44.62 L237.88,43.15 L238.28,41.76 L238.67,40.43 L239.07,39.17 L239.47,37.98 L239.87,36.84 L240.26,35.76 L240.66,34.73 L241.06,33.75 L241.46,32.82 L241.86,31.93 L242.25,31.08 L242.65,30.27 L243.05,29.50 L243.45,28.76 L243.84,28.05 L244.24,27.37 L244.64,26.73 L245.04,26.11 L245.43,25.52 L245.83,24.95 L246.23,24.40 L246.63,23.88 L247.02,23.38 L247.42,22.90 L247.82,22.43 L248.22,21.99 L248.61,21.56 L249.01,21.15 L249.41,20.76 L249.81,20.38 L250.21,20.01 L250.60,19.66 L251.00,19.32 L251.40,18.99 L251.80,18.68 L252.19,18.37 L252.59,18.08 L252.99,17.80 L253.39,17.52 L253.78,17.26 L254.18,17.00 L254.58,16.76 L254.98,16.52 L255.37,16.29 L255.77,16.07 L256.17,15.85 L256.57,15.64 L256.96,15.44 L257.36,15.24 L257.76,15.05 L258.16,14.87 L258.56,14.69 L258.95,14.52 L259.35,14.35 L259.75,14.19 L260.15,14.03 L260.54,13.88 L260.94,13.73 L261.34,13.59 L261.74,13.45 L262.13,13.31 L262.53,13.18 L262.93,13.05 L263.33,12.93 L263.72,12.81 L264.12,12.69 L264.52,12.57 L264.92,12.46 L265.32,12.35 L265.71,12.25 L266.11,12.14 L266.51,12.04 L266.91,11.95 L267.30,11.85 L267.70,11.76 L268.10,11.67 L268.50,11.58 L268.89,11.50 L269.29,11.41 L269.69,11.33 L270.09,11.25 L270.48,11.17 L270.88,11.10 L271.28,11.03 L271.68,10.95 L272.07,10.88 L272.47,10.81 L272.87,10.75 L273.27,10.68 L273.67,10.62 L274.06,10.56 L274.46,10.50 L274.86,10.44 L275.26,10.38 L275.65,10.32 L276.05,10.27 L276.45,10.21 L276.85,10.16 L277.24,10.11 L277.64,10.06 L278.04,10.01 L278.44,9.96 L278.83,9.91 L279.23,9.87 L279.63,9.82 L280.03,9.78 L280.42,9.73 L280.82,9.69 L281.22,9.65 L281.62,9.61 L282.02,9.57 L282.41,9.53 L282.81,9.49 L283.21,9.46 L283.61,9.42 L284.00,9.39 L284.40,9.35 L284.80,9.32 L285.20,9.28 L285.59,9.25 L285.99,9.22 L286.39,9.19 L286.79,9.16 L287.18,9.13 L287.58,9.10 L287.98,9.07 L288.38,9.04 L288.77,9.01 L289.17,8.99 L289.57,8.96 L289.97,8.93 L290.37,8.91 L290.76,8.88 L291.16,8.86 L291.56,8.84 L291.96,8.81 L292.35,8.79 L292.75,8.77 L293.15,8.75 L293.55,8.72 L293.94,8.70 L294.34,8.68 L294.74,8.66 L295.14,8.64 L295.53,8.62 L295.93,8.61 L296.33,8.59 L296.73,8.57 L297.13,8.55 L297.52,8.53 L297.92,8.52 L298.32,8.50 L298.72,8.48 L299.11,8.47 L299.51,8.45 L299.91,8.44 L300.31,8.42 L300.70,8.41 L301.10,8.40 L301.50,8.38 L301.90,8.37 L302.29,8.35 L302.69,8.34 L303.09,8.33 L303.49,8.32 L303.88,8.31 L304.28,8.29 L304.68,8.28 L305.08,8.27 L305.48,8.26 L305.87,8.25 L306.27,8.24 L306.67,8.23 L307.07,8.22 L307.46,8.21 L307.86,8.20 L308.26,8.19 L308.66,8.19 L309.05,8.18 L309.45,8.17 L309.85,8.16 L310.25,8.15 L310.64,8.15 L311.04,8.14 L311.44,8.13 L311.84,8.13 L312.23,8.12 L312.63,8.11 L313.03,8.11 L313.43,8.10 L313.83,8.10 L314.22,8.09 L314.62,8.09 L315.02,8.08 L315.42,8.08 L315.81,8.08 L316.21,8.07 L316.61,8.07 L317.01,8.07 L317.40,8.06 L317.80,8.06 L318.20,8.06 L318.60,8.05 L318.99,8.05 L319.39,8.05 L319.79,8.05 L320.19,8.05 L320.58,8.05 L320.98,8.05 L321.38,8.04 L321.78,8.04 L322.18,8.04 L322.57,8.04 L322.97,8.04 L323.37,8.04 L323.77,8.05 L324.16,8.05 L324.56,8.05 L324.96,8.05 L325.36,8.05 L325.75,8.05 L326.15,8.06 L326.55,8.06 L326.95,8.06 L327.34,8.06 L327.74,8.07 L328.14,8.07 L328.54,8.08 L328.94,8.08 L329.33,8.08 L329.73,8.09 L330.13,8.09 L330.53,8.10 L330.92,8.11 L331.32,8.11 L331.72,8.12 L332.12,8.12 L332.51,8.13 L332.91,8.14 L333.31,8.15 L333.71,8.15 L334.10,8.16 L334.50,8.17 L334.90,8.18 L335.30,8.19 L335.69,8.20 L336.09,8.21 L336.49,8.22 L336.89,8.23 L337.29,8.24 L337.68,8.25 L338.08,8.27 L338.48,8.28 L338.88,8.29 L339.27,8.31 L339.67,8.32 L340.07,8.33 L340.47,8.35 L340.86,8.36 L341.26,8.38 L341.66,8.40 L342.06,8.41 L342.45,8.43 L342.85,8.45 L343.25,8.47 L343.65,8.49 L344.04,8.51 L344.44,8.53 L344.84,8.55 L345.24,8.57 L345.64,8.59 L346.03,8.62 L346.43,8.64 L346.83,8.67 L347.23,8.69 L347.62,8.72 L348.02,8.74 L348.42,8.77 L348.82,8.80 L349.21,8.83 L349.61,8.86 L350.01,8.89 L350.41,8.93 L350.80,8.96 L351.20,8.99 L351.60,9.03 L352.00,9.07 L352.39,9.11 L352.79,9.15 L353.19,9.19 L353.59,9.23 L353.99,9.27 L354.38,9.32 L354.78,9.36 L355.18,9.41 L355.58,9.46 L355.97,9.51 L356.37,9.57 L356.77,9.62 L357.17,9.68 L357.56,9.74 L357.96,9.80 L358.36,9.86 L358.76,9.93 L359.15,9.99 L359.55,10.06 L359.95,10.14 L360.35,10.21 L360.75,10.29 L361.14,10.37 L361.54,10.46 L361.94,10.55 L362.34,10.64 L362.73,10.73 L363.13,10.83 L363.53,10.93 L363.93,11.04 L364.32,11.15 L364.72,11.27 L365.12,11.39 L365.52,11.51 L365.91,11.64 L366.31,11.78 L366.71,11.92 L367.11,12.07 L367.50,12.23 L367.90,12.39 L368.30,12.56 L368.70,12.74 L369.10,12.92 L369.49,13.12 L369.89,13.33 L370.29,13.54 L370.69,13.77 L371.08,14.00 L371.48,14.25 L371.88,14.52 L372.28,14.79 L372.67,15.09 L373.07,15.39 L373.47,15.72 L373.87,16.06 L374.26,16.42 L374.66,16.81 L375.06,17.21 L375.46,17.64 L375.85,18.10 L376.25,18.59 L376.65,19.10 L377.05,19.65 L377.45,20.23 L377.84,20.85 L378.24,21.51 L378.64,22.22 L379.04,22.97 L379.43,23.78 L379.83,24.65 L380.23,25.57 L380.63,26.57 L381.02,27.63 L381.42,28.78 L381.82,30.01 L382.22,31.34 L382.61,32.77 L383.01,34.31 L383.41,35.97 L383.81,37.76 L384.20,39.69 L384.60,41.77 L385.00,44.02 L385.40,46.44 L385.80,49.04 L386.19,51.84 L386.59,54.84 L386.99,58.04 L387.39,61.45 L387.78,65.05 L388.18,68.81 L388.58,72.70 L388.98,76.65 L389.37,80.58 L389.77,84.35 L390.17,87.80 L390.43,89.78 L390.49,90.23 L390.55,90.67 L390.57,90.75 L390.62,91.08 L390.68,91.48 L390.75,91.85 L390.81,92.21 L390.87,92.55 L390.94,92.86 L390.96,93.00 L391.00,93.15 L391.06,93.42 L391.13,93.67 L391.19,93.89 L391.25,94.09 L391.32,94.26 L391.36,94.36 L391.38,94.40 L391.44,94.52 L391.51,94.62 L391.57,94.68 L391.64,94.72 L391.70,94.74 L391.76,94.73 L391.76,94.73 L391.83,94.69 L391.89,94.64 L391.95,94.56 L392.02,94.45 L392.08,94.33 L392.14,94.18 L392.16,94.15 L392.21,94.01 L392.27,93.83 L392.34,93.61 L392.40,93.38 L392.46,93.13 L392.53,92.86 L392.56,92.73 L392.59,92.57 L392.65,92.26 L392.72,91.94 L392.78,91.59 L392.84,91.23 L392.91,90.85 L392.95,90.58 L392.97,90.46 L393.35,87.84 L393.75,84.66 L394.15,81.20 L394.54,77.59 L394.94,73.93 L395.34,70.31 L395.74,66.78 L396.13,63.37 L396.53,60.12 L396.93,57.04 L397.33,54.13 L397.72,51.40 L398.12,48.84 L398.52,46.44 L398.92,44.21 L399.31,42.12 L399.71,40.17 L400.11,38.36 L400.51,36.66 L400.91,35.09 L401.30,33.62 L401.70,32.24 L402.10,30.96 L402.50,29.77 L402.89,28.65 L403.29,27.61 L403.69,26.63 L404.09,25.72 L404.48,24.86 L404.88,24.06 L405.28,23.30 L405.68,22.60 L406.07,21.93 L406.47,21.31 L406.87,20.72 L407.27,20.16 L407.66,19.64 L408.06,19.14 L408.46,18.68 L408.86,18.24 L409.26,17.82 L409.65,17.43 L410.05,17.05 L410.45,16.70 L410.85,16.36 L411.24,16.05 L411.64,15.74 L412.04,15.46 L412.44,15.18 L412.83,14.92 L413.23,14.67 L413.63,14.44 L414.03,14.21 L414.42,14.00 L414.82,13.80 L415.22,13.60 L415.62,13.41 L416.01,13.24 L416.41,13.07 L416.81,12.90 L417.21,12.75 L417.61,12.60 L418.00,12.46 L418.40,12.32 L418.80,12.19 L419.20,12.06 L419.59,11.94 L419.99,11.83 L420.39,11.72 L420.79,11.61 L421.18,11.51 L421.58,11.41 L421.98,11.32 L422.38,11.23 L422.77,11.14 L423.17,11.06 L423.57,10.98 L423.97,10.90 L424.37,10.83 L424.76,10.75 L425.16,10.69 L425.56,10.62 L425.96,10.56 L426.35,10.49 L426.75,10.44 L427.15,10.38 L427.55,10.32 L427.94,10.27 L428.34,10.22 L428.74,10.17 L429.14,10.13 L429.53,10.08 L429.93,10.04 L430.33,10.00 L430.73,9.96 L431.12,9.92 L431.52,9.88 L431.92,9.85 L432.32,9.81 L432.72,9.78 L433.11,9.75 L433.51,9.72 L433.91,9.69 L434.31,9.66 L434.70,9.63 L435.10,9.61 L435.50,9.58 L435.90,9.56 L436.29,9.54 L436.69,9.52 L437.09,9.50 L437.49,9.48 L437.88,9.46 L438.28,9.44 L438.68,9.43 L439.08,9.41 L439.47,9.40 L439.87,9.38 L440.27,9.37 L440.67,9.36 L441.07,9.35 L441.46,9.34 L441.86,9.33 L442.26,9.32 L442.66,9.31 L443.05,9.30 L443.45,9.29 L443.85,9.29 L444.25,9.28 L444.64,9.28 L445.04,9.27 L445.44,9.27 L445.84,9.27 L446.23,9.27 L446.63,9.26 L447.03,9.26 L447.43,9.26 L447.82,9.26 L448.22,9.26 L448.62,9.27 L449.02,9.27 L449.42,9.27 L449.81,9.28 L450.21,9.28 L450.61,9.29 L451.01,9.29 L451.40,9.30 L451.80,9.30 L452.20,9.31 L452.60,9.32 L452.99,9.33 L453.39,9.34 L453.79,9.35 L454.19,9.36 L454.58,9.37 L454.98,9.38 L455.38,9.39 L455.78,9.41 L456.18,9.42 L456.57,9.44 L456.97,9.45 L457.37,9.47 L457.77,9.48 L458.16,9.50 L458.56,9.52 L458.96,9.54 L459.36,9.56 L459.75,9.58 L460.15,9.60 L460.55,9.62 L460.95,9.64 L461.34,9.67 L461.74,9.69 L462.14,9.71 L462.54,9.74 L462.93,9.77 L463.33,9.79 L463.73,9.82 L464.13,9.85 L464.53,9.88 L464.92,9.91 L465.32,9.94 L465.72,9.97 L466.12,10.01 L466.51,10.04 L466.91,10.08 L467.31,10.12 L467.71,10.15 L468.10,10.19 L468.50,10.23 L468.90,10.27 L469.30,10.31 L469.69,10.36 L470.09,10.40 L470.49,10.45 L470.89,10.50 L471.28,10.54 L471.68,10.59 L472.08,10.64 L472.48,10.70 L472.88,10.75 L473.27,10.81 L473.67,10.86 L474.07,10.92 L474.47,10.98 L474.86,11.05 L475.26,11.11 L475.66,11.18 L476.06,11.24 L476.45,11.31 L476.85,11.39 L477.25,11.46 L477.65,11.54 L478.04,11.61 L478.44,11.70 L478.84,11.78 L479.24,11.86 L479.63,11.95 L480.03,12.04 L480.43,12.14 L480.83,12.23 L481.23,12.33 L481.62,12.44 L482.02,12.54 L482.42,12.65 L482.82,12.76 L483.21,12.88 L483.61,13.00 L484.01,13.12 L484.41,13.25 L484.80,13.39 L485.20,13.52 L485.60,13.66 L486.00,13.81 L486.39,13.96 L486.79,14.12 L487.19,14.28 L487.59,14.45 L487.99,14.63 L488.38,14.81 L488.78,15.00 L489.18,15.19 L489.58,15.40 L489.97,15.61 L490.37,15.83 L490.77,16.06 L491.17,16.29 L491.56,16.54 L491.96,16.80 L492.36,17.07 L492.76,17.35 L493.15,17.65 L493.55,17.96 L493.95,18.28 L494.35,18.62 L494.74,18.98 L495.14,19.35 L495.54,19.74 L495.94,20.16 L496.34,20.59 L496.73,21.05 L497.13,21.53 L497.53,22.04 L497.93,22.58 L498.32,23.15 L498.72,23.76 L499.12,24.39 L499.52,25.07 L499.91,25.78 L500.31,26.54 L500.71,27.34 L501.11,28.20 L501.50,29.10 L501.90,30.06 L502.30,31.07 L502.70,32.15 L503.09,33.30 L503.49,34.52 L503.89,35.81 L504.29,37.18 L504.69,38.64 L505.08,40.19 L505.48,41.84 L505.88,43.60 L506.28,45.47 L506.67,47.46 L507.07,49.57 L507.47,51.83 L507.87,54.23 L508.26,56.79 L508.66,59.52 L509.06,62.43 L509.46,65.54 L509.85,68.84 L510.25,72.37 L510.65,76.12 L511.05,80.10 L511.44,84.33 L511.84,88.81 L512.24,93.51 L512.64,98.44 L513.04,103.54 L513.43,108.76 L513.83,114.01 L514.23,119.12 L514.63,123.93 L514.92,127.09 L514.98,127.74 L515.02,128.18 L515.04,128.36 L515.11,128.97 L515.17,129.55 L515.23,130.11 L515.30,130.64 L515.36,131.15 L515.42,131.60 L515.42,131.63 L515.49,132.08 L515.55,132.50 L515.62,132.90 L515.68,133.26 L515.74,133.59 L515.81,133.89 L515.82,133.95 L515.87,134.16 L515.93,134.40 L516.00,134.60 L516.06,134.76 L516.12,134.90 L516.19,134.99 L516.22,135.03 L516.25,135.06 L516.32,135.08 L516.38,135.06 L516.44,135.01 L516.51,134.92 L516.57,134.79 L516.61,134.67 L516.63,134.62 L516.70,134.42 L516.76,134.18 L516.82,133.90 L516.89,133.60 L516.95,133.26 L517.01,132.91 L517.01,132.89 L517.08,132.49 L517.14,132.07 L517.21,131.61 L517.27,131.13 L517.33,130.63 L517.40,130.10 L517.41,129.99 L517.46,129.55 L517.81,126.25 L518.20,122.00 L518.60,117.50 L519.00,112.97 L519.40,108.54 L519.80,104.30 L520.19,100.31 L520.59,96.59 L520.99,93.17 L521.39,90.02 L521.78,87.16 L522.18,84.58 L522.58,82.25 L522.98,80.17 L523.37,78.32 L523.77,76.70 L524.17,75.29 L524.57,74.08 L524.96,73.07 L525.36,72.24 L525.76,71.58 L526.16,71.11 L526.55,70.79 L526.95,70.65 L527.35,70.67 L527.75,70.85 L528.15,71.20 L528.54,71.71 L528.94,72.38 L529.34,73.24 L529.74,74.26 L530.13,75.48 L530.53,76.88 L530.93,78.48 L531.33,80.29 L531.72,82.32 L532.12,84.59 L532.52,87.10 L532.92,89.87 L533.31,92.91 L533.71,96.23 L534.11,99.86 L534.51,103.78 L534.90,108.01 L535.30,112.53 L535.70,117.31 L536.10,122.30 L536.50,127.40 L536.89,132.47 L537.29,137.28 L537.60,140.66 L537.66,141.30 L537.69,141.55 L537.73,141.92 L537.79,142.51 L537.85,143.08 L537.92,143.62 L537.98,144.14 L538.04,144.62 L538.09,144.92 L538.11,145.07 L538.17,145.49 L538.24,145.88 L538.30,146.23 L538.36,146.54 L538.43,146.82 L538.48,147.04 L538.49,147.06 L538.55,147.26 L538.62,147.41 L538.68,147.53 L538.74,147.61 L538.81,147.64 L538.87,147.63 L538.88,147.63 L538.94,147.59 L539.00,147.52 L539.06,147.42 L539.13,147.29 L539.19,147.14 L539.25,146.96 L539.28,146.88 L539.32,146.75 L539.38,146.52 L539.44,146.25 L539.51,145.97 L539.57,145.66 L539.64,145.32 L539.68,145.09 L539.70,144.96 L539.76,144.58 L539.83,144.17 L539.89,143.75 L539.95,143.30 L540.02,142.83 L540.07,142.39 L540.08,142.34 L540.14,141.84 L540.47,138.97 L540.87,135.03 L541.27,130.75 L541.66,126.30 L542.06,121.79 L542.46,117.32 L542.86,112.95 L543.25,108.73 L543.65,104.68 L544.05,100.81 L544.45,97.14 L544.85,93.67 L545.24,90.39 L545.64,87.29 L546.04,84.37 L546.44,81.62 L546.83,79.03 L547.23,76.60 L547.63,74.31 L548.03,72.16 L548.42,70.13 L548.82,68.22 L549.22,66.43 L549.62,64.74 L550.01,63.15 L550.41,61.66 L550.81,60.25 L551.21,58.92 L551.61,57.67 L552.00,56.49 L552.40,55.38 L552.80,54.33 L553.20,53.34 L553.59,52.41 L553.99,51.53 L554.39,50.70 L554.79,49.92 L555.18,49.19 L555.58,48.50 L555.98,47.86 L556.38,47.25 L556.77,46.69 L557.17,46.17 L557.57,45.68 L557.97,45.23 L558.36,44.82 L558.76,44.45 L559.16,44.11 L559.56,43.82 L559.96,43.56 L560.35,43.34 L560.75,43.17 L561.15,43.04 L561.55,42.95 L561.94,42.92 L562.34,42.93 L562.74,43.00 L563.14,43.12 L563.53,43.31 L563.93,43.56 L564.33,43.88 L564.73,44.28 L565.12,44.76 L565.52,45.32 L565.92,45.99 L566.32,46.75 L566.71,47.63 L567.11,48.63 L567.51,49.76 L567.91,51.04 L568.31,52.48 L568.70,54.10 L569.10,55.91 L569.50,57.94 L569.90,60.20 L570.29,62.72 L570.69,65.54 L571.09,68.69 L571.49,72.20 L571.88,76.14 L572.28,80.54 L572.68,85.49 L573.08,91.07 L573.47,97.38 L573.87,104.55 L574.27,112.75 L574.67,122.22 L575.06,133.25 L575.46,146.26 L575.86,161.83 L576.16,175.67 L576.22,178.89 L576.26,180.70 L576.29,182.20 L576.35,185.62 L576.41,189.13 L576.48,192.74 L576.54,196.45 L576.60,200.24 L576.66,203.32 L576.67,204.10 L576.73,208.02 L576.80,211.96 L576.86,215.89 L576.92,219.77 L576.99,223.53 L577.05,227.10 L577.05,227.27 L577.11,230.38 L577.18,233.28 L577.24,235.69 L577.30,237.49 L577.37,238.60 L577.43,238.97 L577.45,238.94 L577.50,238.69 L577.56,237.89 L577.62,236.61 L577.69,234.89 L577.75,232.78 L577.81,230.35 L577.85,228.90 L577.88,227.65 L577.94,224.75 L578.00,221.69 L578.07,218.52 L578.13,215.28 L578.20,212.00 L578.25,209.38 L578.26,208.72 L578.32,205.45 L578.39,202.21 L578.45,199.01 L578.51,195.85 L578.58,192.76 L578.64,189.73 L578.64,189.58 L578.70,186.76 L579.04,172.16 L579.44,157.25 L579.84,144.47 L580.23,133.40 L580.63,123.72 L581.03,115.18 L581.43,107.58 L581.82,100.77 L582.22,94.65 L582.62,89.10 L583.02,84.06 L583.42,79.46 L583.81,75.25 L584.21,71.39 L584.61,67.84 L585.01,64.57 L585.40,61.55 L585.80,58.75 L586.20,56.16 L586.60,53.76 L586.99,51.52 L587.39,49.44 L587.79,47.50 L588.19,45.69 L588.58,44.00 L588.98,42.42 L589.38,40.94 L589.78,39.55 L590.17,38.25 L590.57,37.02 L590.97,35.88 L591.37,34.79 L591.77,33.78 L592.16,32.82 L592.56,31.91 L592.96,31.06 L593.36,30.25 L593.75,29.49 L594.15,28.77 L594.55,28.09 L594.95,27.44 L595.34,26.83 L595.74,26.25 L596.14,25.70 L596.54,25.18 L596.93,24.68 L597.33,24.21 L597.73,23.76 L598.13,23.33 L598.52,22.93 L598.92,22.54 L599.32,22.17 L599.72,21.82 L600.12,21.49 L600.51,21.17 L600.91,20.87 L601.31,20.58 L601.71,20.30 L602.10,20.04 L602.50,19.78 L602.90,19.54 L603.30,19.31 L603.69,19.09 L604.09,18.89 L604.49,18.69 L604.89,18.49 L605.28,18.31 L605.68,18.14 L606.08,17.97 L606.48,17.81 L606.88,17.66 L607.27,17.52 L607.67,17.38 L608.07,17.25 L608.47,17.12 L608.86,17.00 L609.26,16.89 L609.66,16.78 L610.06,16.68 L610.45,16.58 L610.85,16.49 L611.25,16.40 L611.65,16.31 L612.04,16.24 L612.44,16.16 L612.84,16.09 L613.24,16.02 L613.63,15.96 L614.03,15.90 L614.43,15.84 L614.83,15.79 L615.23,15.74 L615.62,15.69 L616.02,15.65 L616.42,15.61 L616.82,15.58 L617.21,15.54 L617.61,15.51 L618.01,15.48 L618.41,15.46 L618.80,15.44 L619.20,15.42 L619.60,15.40 L620.00,15.38 L620.39,15.37 L620.79,15.36 L621.19,15.35 L621.59,15.35 L621.98,15.34 L622.38,15.34 L622.78,15.34 L623.18,15.35 L623.58,15.35 L623.97,15.36 L624.37,15.37 L624.77,15.38 L625.17,15.39 L625.56,15.41 L625.96,15.42 L626.36,15.44 L626.76,15.46 L627.15,15.49 L627.55,15.51 L627.95,15.54 L628.35,15.56 L628.74,15.59 L629.14,15.62 L629.54,15.66 L629.94,15.69 L630.33,15.73 L630.73,15.76 L631.13,15.80 L631.53,15.84 L631.93,15.89 L632.32,15.93 L632.72,15.97 L633.12,16.02 L633.52,16.07 L633.91,16.12 L634.31,16.17 L634.71,16.22 L635.11,16.27 L635.50,16.33 L635.90,16.39 L636.30,16.44 L636.70,16.50 L637.09,16.56 L637.49,16.63 L637.89,16.69 L638.29,16.76 L638.69,16.82 L639.08,16.89 L639.48,16.96 L639.88,17.03 L640.28,17.10 L640.67,17.17 L641.07,17.25 L641.47,17.32 L641.87,17.40 L642.26,17.48 L642.66,17.56 L643.06,17.64 L643.46,17.72 L643.85,17.80 L644.25,17.89 L644.65,17.97 L645.05,18.06 L645.44,18.15 L645.84,18.24 L646.24,18.33 L646.64,18.42 L647.04,18.51 L647.43,18.61 L647.83,18.70 L648.23,18.80 L648.63,18.89 L649.02,18.99 L649.42,19.09 L649.82,19.20 L650.22,19.30 L650.61,19.40 L651.01,19.51 L651.41,19.61 L651.81,19.72 L652.20,19.83 L652.60,19.94 L653.00,20.05 L653.40,20.16 L653.79,20.27 L654.19,20.39 L654.59,20.50 L654.99,20.62 L655.39,20.74 L655.78,20.86 L656.18,20.98 L656.58,21.10 L656.98,21.22 L657.37,21.35 L657.77,21.47 L658.17,21.60 L658.57,21.72 L658.96,21.85 L659.36,21.98 L659.76,22.11 L660.16,22.24 L660.55,22.37 L660.95,22.51 L661.35,22.64 L661.75,22.78 L662.14,22.91 L662.54,23.05 L662.94,23.19 L663.34,23.33 L663.74,23.47 L664.13,23.61 L664.53,23.76 L664.93,23.90 L665.33,24.05 L665.72,24.19 L666.12,24.34 L666.52,24.49 L666.92,24.64 L667.31,24.79 L667.71,24.94 L668.11,25.09 L668.51,25.25 L668.90,25.40 L669.30,25.56 L669.70,25.72 L670.10,25.87 L670.50,26.03 L670.89,26.19 L671.29,26.35 L671.69,26.51 L672.09,26.68 L672.48,26.84 L672.88,27.00 L673.28,27.17 L673.68,27.34 L674.07,27.50 L674.47,27.67 L674.87,27.84 L675.27,28.01 L675.66,28.18 L676.06,28.36 L676.46,28.53 L676.86,28.70 L677.25,28.88 L677.65,29.05 L678.05,29.23 L678.45,29.41 L678.85,29.58 L679.24,29.76 L679.64,29.94 L680.04,30.12 L680.44,30.31 L680.83,30.49 L681.23,30.67 L681.63,30.86 L682.03,31.04 L682.42,31.23 L682.82,31.41 L683.22,31.60 L683.62,31.79 L684.01,31.98 L684.41,32.17 L684.81,32.36 L685.21,32.55 L685.60,32.74 L686.00,32.93 L686.40,33.12" stroke="#000" stroke-width="3.5" fill="none"/>
<path d="M765.70,8.77 L766.09,8.77 L766.49,8.78 L766.88,8.78 L767.28,8.78 L767.67,8.78 L768.07,8.78 L768.46,8.78 L768.86,8.79 L769.25,8.79 L769.65,8.79 L770.04,8.79 L770.43,8.79 L770.83,8.80 L771.22,8.80 L771.62,8.80 L772.01,8.80 L772.41,8.80 L772.80,8.81 L773.20,8.81 L773.59,8.81 L773.99,8.81 L774.38,8.81 L774.77,8.81 L775.17,8.82 L775.56,8.82 L775.96,8.82 L776.35,8.82 L776.75,8.83 L777.14,8.83 L777.54,8.83 L777.93,8.83 L778.33,8.83 L778.72,8.84 L779.12,8.84 L779.51,8.84 L779.90,8.84 L780.30,8.84 L780.69,8.85 L781.09,8.85 L781.48,8.85 L781.88,8.85 L782.27,8.86 L782.67,8.86 L783.06,8.86 L783.46,8.86 L783.85,8.86 L784.24,8.87 L784.64,8.87 L785.03,8.87 L785.43,8.87 L785.82,8.88 L786.22,8.88 L786.61,8.88 L787.01,8.88 L787.40,8.89 L787.80,8.89 L788.19,8.89 L788.58,8.89 L788.98,8.90 L789.37,8.90 L789.77,8.90 L790.16,8.90 L790.56,8.91 L790.95,8.91 L791.35,8.91 L791.74,8.92 L792.14,8.92 L792.53,8.92 L792.92,8.92 L793.32,8.93 L793.71,8.93 L794.11,8.93 L794.50,8.93 L794.90,8.94 L795.29,8.94 L795.69,8.94 L796.08,8.95 L796.48,8.95 L796.87,8.95 L797.27,8.96 L797.66,8.96 L798.05,8.96 L798.45,8.96 L798.84,8.97 L799.24,8.97 L799.63,8.97 L800.03,8.98 L800.42,8.98 L800.82,8.98 L801.21,8.99 L801.61,8.99 L802.00,8.99 L802.39,9.00 L802.79,9.00 L803.18,9.00 L803.58,9.01 L803.97,9.01 L804.37,9.01 L804.76,9.02 L805.16,9.02 L805.55,9.02 L805.95,9.03 L806.34,9.03 L806.73,9.03 L807.13,9.04 L807.52,9.04 L807.92,9.05 L808.31,9.05 L808.71,9.05 L809.10,9.06 L809.50,9.06 L809.89,9.07 L810.29,9.07 L810.68,9.07 L811.07,9.08 L811.47,9.08 L811.86,9.09 L812.26,9.09 L812.65,9.09 L813.05,9.10 L813.44,9.10 L813.84,9.11 L814.23,9.11 L814.63,9.11 L815.02,9.12 L815.41,9.12 L815.81,9.13 L816.20,9.13 L816.60,9.14 L816.99,9.14 L817.39,9.15 L817.78,9.15 L818.18,9.16 L818.57,9.16 L818.97,9.17 L819.36,9.17 L819.76,9.17 L820.15,9.18 L820.54,9.18 L820.94,9.19 L821.33,9.19 L821.73,9.20 L822.12,9.21 L822.52,9.21 L822.91,9.22 L823.31,9.22 L823.70,9.23 L824.10,9.23 L824.49,9.24 L824.88,9.24 L825.28,9.25 L825.67,9.25 L826.07,9.26 L826.46,9.27 L826.86,9.27 L827.25,9.28 L827.65,9.28 L828.04,9.29 L828.44,9.29 L828.83,9.30 L829.22,9.31 L829.62,9.31 L830.01,9.32 L830.41,9.33 L830.80,9.33 L831.20,9.34 L831.59,9.35 L831.99,9.35 L832.38,9.36 L832.78,9.37 L833.17,9.37 L833.56,9.38 L833.96,9.39 L834.35,9.39 L834.75,9.40 L835.14,9.41 L835.54,9.42 L835.93,9.42 L836.33,9.43 L836.72,9.44 L837.12,9.45 L837.51,9.45 L837.90,9.46 L838.30,9.47 L838.69,9.48 L839.09,9.48 L839.48,9.49 L839.88,9.50 L840.27,9.51 L840.67,9.52 L841.06,9.53 L841.46,9.53 L841.85,9.54 L842.25,9.55 L842.64,9.56 L843.03,9.57 L843.43,9.58 L843.82,9.59 L844.22,9.60 L844.61,9.61 L845.01,9.62 L845.40,9.63 L845.80,9.64 L846.19,9.65 L846.59,9.66 L846.98,9.67 L847.37,9.68 L847.77,9.69 L848.16,9.70 L848.56,9.71 L848.95,9.72 L849.35,9.73 L849.74,9.74 L850.14,9.75 L850.53,9.76 L850.93,9.78 L851.32,9.79 L851.71,9.80 L852.11,9.81 L852.50,9.82 L852.90,9.84 L853.29,9.85 L853.69,9.86 L854.08,9.87 L854.48,9.89 L854.87,9.90 L855.27,9.91 L855.66,9.93 L856.05,9.94 L856.45,9.95 L856.84,9.97 L857.24,9.98 L857.63,10.00 L858.03,10.01 L858.42,10.03 L858.82,10.04 L859.21,10.06 L859.61,10.07 L860.00,10.09 L860.40,10.10 L860.79,10.12 L861.18,10.13 L861.58,10.15 L861.97,10.17 L862.37,10.19 L862.76,10.20 L863.16,10.22 L863.55,10.24 L863.95,10.26 L864.34,10.27 L864.74,10.29 L865.13,10.31 L865.52,10.33 L865.92,10.35 L866.31,10.37 L866.71,10.39 L867.10,10.41 L867.50,10.43 L867.89,10.45 L868.29,10.47 L868.68,10.50 L869.08,10.52 L869.47,10.54 L869.86,10.56 L870.26,10.59 L870.65,10.61 L871.05,10.63 L871.44,10.66 L871.84,10.68 L872.23,10.71 L872.63,10.73 L873.02,10.76 L873.42,10.79 L873.81,10.81 L874.20,10.84 L874.60,10.87 L874.99,10.90 L875.39,10.92 L875.78,10.95 L876.18,10.98 L876.57,11.01 L876.97,11.04 L877.36,11.08 L877.76,11.11 L878.15,11.14 L878.54,11.17 L878.94,11.21 L879.33,11.24 L879.73,11.28 L880.12,11.31 L880.52,11.35 L880.91,11.39 L881.31,11.42 L881.70,11.46 L882.10,11.50 L882.49,11.54 L882.89,11.58 L883.28,11.62 L883.67,11.66 L884.07,11.71 L884.46,11.75 L884.86,11.80 L885.25,11.84 L885.65,11.89 L886.04,11.94 L886.44,11.99 L886.83,12.04 L887.23,12.09 L887.62,12.14 L888.01,12.19 L888.41,12.24 L888.80,12.30 L889.20,12.36 L889.59,12.41 L889.99,12.47 L890.38,12.53 L890.78,12.59 L891.17,12.66 L891.57,12.72 L891.96,12.79 L892.35,12.85 L892.75,12.92 L893.14,12.99 L893.54,13.06 L893.93,13.14 L894.33,13.21 L894.72,13.29 L895.12,13.37 L895.51,13.45 L895.91,13.53 L896.30,13.62 L896.69,13.71 L897.09,13.79 L897.48,13.89 L897.88,13.98 L898.27,14.08 L898.67,14.17 L899.06,14.28 L899.46,14.38 L899.85,14.49 L900.25,14.59 L900.64,14.71 L901.03,14.82 L901.43,14.94 L901.82,15.06 L902.22,15.19 L902.61,15.31 L903.01,15.45 L903.40,15.58 L903.80,15.72 L904.19,15.87 L904.59,16.01 L904.98,16.17 L905.38,16.32 L905.77,16.48 L906.16,16.65 L906.56,16.82 L906.95,17.00 L907.35,17.18 L907.74,17.36 L908.14,17.56 L908.53,17.76 L908.93,17.96 L909.32,18.17 L909.72,18.39 L910.11,18.62 L910.50,18.85 L910.90,19.09 L911.29,19.34 L911.69,19.60 L912.08,19.86 L912.48,20.14 L912.87,20.42 L913.27,20.72 L913.66,21.02 L914.06,21.34 L914.45,21.66 L914.84,22.00 L915.24,22.35 L915.63,22.72 L916.03,23.10 L916.42,23.49 L916.82,23.90 L917.21,24.32 L917.61,24.76 L918.00,25.22 L918.40,25.69 L918.79,26.18 L919.18,26.70 L919.58,27.23 L919.97,27.79 L920.37,28.37 L920.76,28.97 L921.16,29.60 L921.55,30.25 L921.95,30.94 L922.34,31.65 L922.74,32.40 L923.13,33.18 L923.53,34.00 L923.92,34.85 L924.31,35.74 L924.71,36.68 L925.10,37.66 L925.50,38.68 L925.89,39.76 L926.29,40.89 L926.68,42.08 L927.08,43.32 L927.47,44.64 L927.87,46.02 L928.26,47.48 L928.65,49.01 L929.05,50.64 L929.44,52.35 L929.84,54.17 L930.23,56.09 L930.63,58.14 L931.02,60.31 L931.42,62.62 L931.81,65.09 L932.21,67.73 L932.60,70.55 L932.99,73.60 L933.39,76.87 L933.78,80.42 L934.18,84.28 L934.57,88.49 L934.97,93.10 L935.36,98.20 L935.76,103.88 L936.15,110.23 L936.55,117.41 L936.94,125.58 L937.33,134.90 L937.55,140.39 L937.61,142.08 L937.67,143.81 L937.73,145.37 L937.74,145.55 L937.80,147.31 L937.86,149.08 L937.92,150.85 L937.99,152.62 L938.05,154.37 L938.11,156.10 L938.12,156.36 L938.18,157.79 L938.24,159.41 L938.30,160.96 L938.37,162.40 L938.43,163.72 L938.49,164.90 L938.52,165.32 L938.56,165.90 L938.62,166.71 L938.68,167.30 L938.75,167.66 L938.81,167.78 L938.87,167.68 L938.91,167.49 L938.94,167.35 L939.00,166.82 L939.06,166.10 L939.12,165.20 L939.19,164.14 L939.25,162.93 L939.31,161.75 L939.31,161.62 L939.38,160.20 L939.44,158.70 L939.50,157.14 L939.57,155.53 L939.63,153.89 L939.69,152.23 L939.70,151.98 L939.76,150.56 L939.82,148.89 L939.88,147.22 L939.95,145.55 L940.01,143.91 L940.07,142.28 L940.10,141.64 L940.49,132.07 L940.89,123.57 L941.28,116.06 L941.67,109.41 L942.07,103.48 L942.46,98.15 L942.86,93.33 L943.25,88.94 L943.65,84.92 L944.04,81.23 L944.44,77.81 L944.83,74.65 L945.23,71.70 L945.62,68.96 L946.02,66.39 L946.41,63.98 L946.80,61.72 L947.20,59.59 L947.59,57.58 L947.99,55.68 L948.38,53.89 L948.78,52.19 L949.17,50.58 L949.57,49.05 L949.96,47.60 L950.36,46.22 L950.75,44.91 L951.14,43.66 L951.54,42.47 L951.93,41.34 L952.33,40.25 L952.72,39.22 L953.12,38.23 L953.51,37.28 L953.91,36.38 L954.30,35.51 L954.70,34.69 L955.09,33.89 L955.48,33.13 L955.88,32.40 L956.27,31.70 L956.67,31.03 L957.06,30.39 L957.46,29.77 L957.85,29.17 L958.25,28.60 L958.64,28.05 L959.04,27.52 L959.43,27.01 L959.82,26.52 L960.22,26.05 L960.61,25.59 L961.01,25.15 L961.40,24.73 L961.80,24.33 L962.19,23.93 L962.59,23.55 L962.98,23.19 L963.38,22.83 L963.77,22.49 L964.16,22.16 L964.56,21.84 L964.95,21.54 L965.35,21.24 L965.74,20.95 L966.14,20.67 L966.53,20.40 L966.93,20.14 L967.32,19.89 L967.72,19.65 L968.11,19.41 L968.51,19.18 L968.90,18.96 L969.29,18.74 L969.69,18.53 L970.08,18.33 L970.48,18.13 L970.87,17.94 L971.27,17.76 L971.66,17.58 L972.06,17.40 L972.45,17.23 L972.85,17.07 L973.24,16.91 L973.63,16.75 L974.03,16.60 L974.42,16.45 L974.82,16.31 L975.21,16.17 L975.61,16.04 L976.00,15.91 L976.40,15.78 L976.79,15.65 L977.19,15.53 L977.58,15.41 L977.97,15.30 L978.37,15.19 L978.76,15.08 L979.16,14.97 L979.55,14.87 L979.95,14.77 L980.34,14.67 L980.74,14.57 L981.13,14.48 L981.53,14.39 L981.92,14.30 L982.31,14.21 L982.71,14.13 L983.10,14.05 L983.50,13.97 L983.89,13.89 L984.29,13.81 L984.68,13.74 L985.08,13.66 L985.47,13.59 L985.87,13.52 L986.26,13.45 L986.65,13.39 L987.05,13.32 L987.44,13.26 L987.84,13.20 L988.23,13.14 L988.63,13.08 L989.02,13.02 L989.42,12.96 L989.81,12.91 L990.21,12.85 L990.60,12.80 L991.00,12.75 L991.39,12.70 L991.78,12.65 L992.18,12.60 L992.57,12.55 L992.97,12.51 L993.36,12.46 L993.76,12.42 L994.15,12.37 L994.55,12.33 L994.94,12.29 L995.34,12.25 L995.73,12.21 L996.12,12.17 L996.52,12.13 L996.91,12.10 L997.31,12.06 L997.70,12.03 L998.10,11.99 L998.49,11.96 L998.89,11.92 L999.28,11.89 L999.68,11.86 L1000.07,11.83 L1000.46,11.80 L1000.86,11.77 L1001.25,11.74 L1001.65,11.71 L1002.04,11.68 L1002.44,11.66 L1002.83,11.63 L1003.23,11.60 L1003.62,11.58 L1004.02,11.55 L1004.41,11.53 L1004.80,11.50 L1005.20,11.48 L1005.59,11.46 L1005.99,11.44 L1006.38,11.41 L1006.78,11.39 L1007.17,11.37 L1007.57,11.35 L1007.96,11.33 L1008.36,11.31 L1008.75,11.29 L1009.15,11.27 L1009.54,11.26 L1009.93,11.24 L1010.33,11.22 L1010.72,11.21 L1011.12,11.19 L1011.51,11.17 L1011.91,11.16 L1012.30,11.14 L1012.70,11.13 L1013.09,11.11 L1013.49,11.10 L1013.88,11.09 L1014.27,11.07 L1014.67,11.06 L1015.06,11.05 L1015.46,11.04 L1015.85,11.02 L1016.25,11.01 L1016.64,11.00 L1017.04,10.99 L1017.43,10.98 L1017.83,10.97 L1018.22,10.96 L1018.61,10.95 L1019.01,10.95 L1019.40,10.94 L1019.80,10.93 L1020.19,10.92 L1020.59,10.91 L1020.98,10.91 L1021.38,10.90 L1021.77,10.90 L1022.17,10.89 L1022.56,10.88 L1022.95,10.88 L1023.35,10.87 L1023.74,10.87 L1024.14,10.87 L1024.53,10.86 L1024.93,10.86 L1025.32,10.86 L1025.72,10.85 L1026.11,10.85 L1026.51,10.85 L1026.90,10.85 L1027.29,10.85 L1027.69,10.84 L1028.08,10.84 L1028.48,10.84 L1028.87,10.84 L1029.27,10.85 L1029.66,10.85 L1030.06,10.85 L1030.45,10.85 L1030.85,10.85 L1031.24,10.85 L1031.64,10.86 L1032.03,10.86 L1032.42,10.87 L1032.82,10.87 L1033.21,10.87 L1033.61,10.88 L1034.00,10.89 L1034.40,10.89 L1034.79,10.90 L1035.19,10.91 L1035.58,10.91 L1035.98,10.92 L1036.37,10.93 L1036.76,10.94 L1037.16,10.95 L1037.55,10.96 L1037.95,10.97 L1038.34,10.98 L1038.74,10.99 L1039.13,11.01 L1039.53,11.02 L1039.92,11.03 L1040.32,11.05 L1040.71,11.06 L1041.10,11.08 L1041.50,11.10 L1041.89,11.11 L1042.29,11.13 L1042.68,11.15 L1043.08,11.17 L1043.47,11.19 L1043.87,11.21 L1044.26,11.24 L1044.66,11.26 L1045.05,11.28 L1045.44,11.31 L1045.84,11.33 L1046.23,11.36 L1046.63,11.39 L1047.02,11.42 L1047.42,11.45 L1047.81,11.48 L1048.21,11.52 L1048.60,11.55 L1049.00,11.59 L1049.39,11.63 L1049.79,11.66 L1050.18,11.71 L1050.57,11.75 L1050.97,11.79 L1051.36,11.84 L1051.76,11.89 L1052.15,11.94 L1052.55,11.99 L1052.94,12.04 L1053.34,12.10 L1053.73,12.16 L1054.13,12.22 L1054.52,12.28 L1054.91,12.35 L1055.31,12.42 L1055.70,12.49 L1056.10,12.57 L1056.49,12.65 L1056.89,12.73 L1057.28,12.81 L1057.68,12.90 L1058.07,13.00 L1058.47,13.10 L1058.86,13.20 L1059.25,13.31 L1059.65,13.42 L1060.04,13.54 L1060.44,13.67 L1060.83,13.80 L1061.23,13.94 L1061.62,14.08 L1062.02,14.24 L1062.41,14.40 L1062.81,14.57 L1063.20,14.74 L1063.59,14.93 L1063.99,15.13 L1064.38,15.34 L1064.78,15.56 L1065.17,15.80 L1065.57,16.05 L1065.96,16.31 L1066.36,16.59 L1066.75,16.88 L1067.15,17.20 L1067.54,17.53 L1067.93,17.89 L1068.33,18.27 L1068.72,18.67 L1069.12,19.10 L1069.51,19.57 L1069.91,20.06 L1070.30,20.59 L1070.70,21.15 L1071.09,21.76 L1071.49,22.41 L1071.88,23.11 L1072.28,23.86 L1072.67,24.67 L1073.06,25.54 L1073.46,26.49 L1073.85,27.50 L1074.25,28.60 L1074.64,29.79 L1075.04,31.07 L1075.43,32.46 L1075.83,33.96 L1076.22,35.59 L1076.62,37.34 L1077.01,39.24 L1077.40,41.28 L1077.80,43.48 L1078.19,45.83 L1078.59,48.34 L1078.98,50.99 L1079.38,53.77 L1079.77,56.63 L1080.17,59.52 L1080.56,62.35 L1080.96,64.99 L1081.24,66.68 L1081.30,67.03 L1081.35,67.30 L1081.36,67.37 L1081.43,67.69 L1081.49,68.00 L1081.55,68.30 L1081.62,68.58 L1081.68,68.84 L1081.74,69.09 L1081.74,69.10 L1081.80,69.32 L1081.87,69.54 L1081.93,69.73 L1081.99,69.91 L1082.06,70.06 L1082.12,70.20 L1082.14,70.24 L1082.18,70.31 L1082.25,70.41 L1082.31,70.48 L1082.37,70.54 L1082.44,70.57 L1082.50,70.58 L1082.53,70.58 L1082.56,70.57 L1082.63,70.54 L1082.69,70.49 L1082.75,70.42 L1082.81,70.32 L1082.88,70.21 L1082.93,70.11 L1082.94,70.08 L1083.00,69.93 L1083.07,69.76 L1083.13,69.57 L1083.19,69.37 L1083.26,69.14 L1083.32,68.90 L1083.32,68.89 L1083.38,68.65 L1083.45,68.37 L1083.51,68.09 L1083.57,67.79 L1083.64,67.47 L1083.70,67.14 L1083.72,67.04 L1083.76,66.80 L1084.11,64.73 L1084.51,62.11 L1084.90,59.32 L1085.30,56.48 L1085.69,53.67 L1086.08,50.94 L1086.48,48.34 L1086.87,45.87 L1087.27,43.56 L1087.66,41.39 L1088.06,39.38 L1088.45,37.50 L1088.85,35.77 L1089.24,34.16 L1089.64,32.67 L1090.03,31.29 L1090.42,30.01 L1090.82,28.83 L1091.21,27.74 L1091.61,26.72 L1092.00,25.78 L1092.40,24.91 L1092.79,24.10 L1093.19,23.34 L1093.58,22.64 L1093.98,21.99 L1094.37,21.38 L1094.77,20.81 L1095.16,20.28 L1095.55,19.78 L1095.95,19.32 L1096.34,18.88 L1096.74,18.47 L1097.13,18.09 L1097.53,17.73 L1097.92,17.39 L1098.32,17.07 L1098.71,16.77 L1099.11,16.49 L1099.50,16.23 L1099.89,15.97 L1100.29,15.74 L1100.68,15.51 L1101.08,15.30 L1101.47,15.10 L1101.87,14.91 L1102.26,14.73 L1102.66,14.55 L1103.05,14.39 L1103.45,14.24 L1103.84,14.09 L1104.23,13.95 L1104.63,13.81 L1105.02,13.69 L1105.42,13.57 L1105.81,13.45 L1106.21,13.34 L1106.60,13.23 L1107.00,13.13 L1107.39,13.04 L1107.79,12.95 L1108.18,12.86 L1108.57,12.77 L1108.97,12.69 L1109.36,12.62 L1109.76,12.54 L1110.15,12.47 L1110.55,12.41 L1110.94,12.34 L1111.34,12.28 L1111.73,12.22 L1112.13,12.16 L1112.52,12.11 L1112.91,12.05 L1113.31,12.00 L1113.70,11.95 L1114.10,11.91 L1114.49,11.86 L1114.89,11.82 L1115.28,11.78 L1115.68,11.74 L1116.07,11.70 L1116.47,11.66 L1116.86,11.63 L1117.26,11.59 L1117.65,11.56 L1118.04,11.53 L1118.44,11.50 L1118.83,11.47 L1119.23,11.44 L1119.62,11.42 L1120.02,11.39 L1120.41,11.37 L1120.81,11.34 L1121.20,11.32 L1121.60,11.30 L1121.99,11.28 L1122.38,11.26 L1122.78,11.24 L1123.17,11.22 L1123.57,11.20 L1123.96,11.18 L1124.36,11.17 L1124.75,11.15 L1125.15,11.14 L1125.54,11.12 L1125.94,11.11 L1126.33,11.10 L1126.72,11.09 L1127.12,11.07 L1127.51,11.06 L1127.91,11.05 L1128.30,11.04 L1128.70,11.03 L1129.09,11.02 L1129.49,11.01 L1129.88,11.01 L1130.28,11.00 L1130.67,10.99 L1131.06,10.99 L1131.46,10.98 L1131.85,10.97 L1132.25,10.97 L1132.64,10.96 L1133.04,10.96 L1133.43,10.96 L1133.83,10.95 L1134.22,10.95 L1134.62,10.95 L1135.01,10.95 L1135.41,10.94 L1135.80,10.94 L1136.19,10.94 L1136.59,10.94 L1136.98,10.94 L1137.38,10.94 L1137.77,10.94 L1138.17,10.94 L1138.56,10.94 L1138.96,10.94 L1139.35,10.95 L1139.75,10.95 L1140.14,10.95 L1140.53,10.95 L1140.93,10.96 L1141.32,10.96 L1141.72,10.96 L1142.11,10.97 L1142.51,10.97 L1142.90,10.98 L1143.30,10.98 L1143.69,10.99 L1144.09,10.99 L1144.48,11.00 L1144.87,11.01 L1145.27,11.01 L1145.66,11.02 L1146.06,11.03 L1146.45,11.03 L1146.85,11.04 L1147.24,11.05 L1147.64,11.06 L1148.03,11.07 L1148.43,11.08 L1148.82,11.09 L1149.21,11.10 L1149.61,11.11 L1150.00,11.12 L1150.40,11.13 L1150.79,11.14 L1151.19,11.15 L1151.58,11.16 L1151.98,11.18 L1152.37,11.19 L1152.77,11.20 L1153.16,11.22 L1153.55,11.23 L1153.95,11.24 L1154.34,11.26 L1154.74,11.27 L1155.13,11.29 L1155.53,11.30 L1155.92,11.32 L1156.32,11.34 L1156.71,11.35 L1157.11,11.37 L1157.50,11.39 L1157.90,11.41 L1158.29,11.43 L1158.68,11.44 L1159.08,11.46 L1159.47,11.48 L1159.87,11.50 L1160.26,11.52 L1160.66,11.55 L1161.05,11.57 L1161.45,11.59 L1161.84,11.61 L1162.24,11.63 L1162.63,11.66 L1163.02,11.68 L1163.42,11.71 L1163.81,11.73 L1164.21,11.76 L1164.60,11.78 L1165.00,11.81 L1165.39,11.84 L1165.79,11.87 L1166.18,11.89 L1166.58,11.92 L1166.97,11.95 L1167.36,11.98 L1167.76,12.01 L1168.15,12.05 L1168.55,12.08 L1168.94,12.11 L1169.34,12.14 L1169.73,12.18 L1170.13,12.21 L1170.52,12.25 L1170.92,12.29 L1171.31,12.32 L1171.70,12.36 L1172.10,12.40 L1172.49,12.44 L1172.89,12.48 L1173.28,12.53 L1173.68,12.57 L1174.07,12.61 L1174.47,12.66 L1174.86,12.70 L1175.26,12.75 L1175.65,12.80 L1176.05,12.85 L1176.44,12.90 L1176.83,12.95 L1177.23,13.00 L1177.62,13.05 L1178.02,13.11 L1178.41,13.16 L1178.81,13.22 L1179.20,13.28 L1179.60,13.34 L1179.99,13.40 L1180.39,13.46 L1180.78,13.53 L1181.17,13.60 L1181.57,13.66 L1181.96,13.73 L1182.36,13.81 L1182.75,13.88 L1183.15,13.95 L1183.54,14.03 L1183.94,14.11 L1184.33,14.19 L1184.73,14.27 L1185.12,14.36 L1185.51,14.45 L1185.91,14.54 L1186.30,14.63 L1186.70,14.73 L1187.09,14.83 L1187.49,14.93 L1187.88,15.03 L1188.28,15.14 L1188.67,15.25 L1189.07,15.36 L1189.46,15.48 L1189.85,15.60 L1190.25,15.72 L1190.64,15.85 L1191.04,15.98 L1191.43,16.12 L1191.83,16.27 L1192.22,16.41 L1192.62,16.57 L1193.01,16.73 L1193.41,16.89 L1193.80,17.07 L1194.19,17.25 L1194.59,17.44 L1194.98,17.64 L1195.38,17.85 L1195.77,18.07 L1196.17,18.30 L1196.56,18.55 L1196.96,18.81 L1197.35,19.09 L1197.75,19.38 L1198.14,19.69 L1198.54,20.02 L1198.93,20.37 L1199.32,20.75 L1199.72,21.15 L1200.11,21.57 L1200.51,22.03 L1200.90,22.51 L1201.30,23.02 L1201.69,23.56 L1202.09,24.13 L1202.48,24.74 L1202.88,25.38 L1203.27,26.06 L1203.66,26.78 L1204.06,27.54 L1204.45,28.35 L1204.85,29.19 L1205.24,30.09 L1205.64,31.03 L1206.03,32.03 L1206.43,33.09 L1206.82,34.20 L1207.22,35.38 L1207.61,36.64 L1208.00,37.97 L1208.40,39.40 L1208.79,40.92 L1209.19,42.56 L1209.58,44.32 L1209.98,46.23 L1210.37,48.29 L1210.77,50.55 L1211.16,53.02 L1211.56,55.74 L1211.95,58.74 L1212.34,62.07 L1212.74,65.77 L1213.13,69.90 L1213.53,74.51 L1213.92,79.64 L1214.32,85.32 L1214.71,91.49 L1215.11,97.98 L1215.21,99.65 L1215.27,100.69 L1215.33,101.72 L1215.40,102.74 L1215.46,103.74 L1215.50,104.38 L1215.52,104.72 L1215.59,105.69 L1215.65,106.62 L1215.71,107.52 L1215.78,108.39 L1215.84,109.21 L1215.90,109.92 L1215.90,109.99 L1215.97,110.72 L1216.03,111.40 L1216.09,112.02 L1216.15,112.57 L1216.22,113.06 L1216.28,113.47 L1216.29,113.53 L1216.34,113.82 L1216.41,114.09 L1216.47,114.28 L1216.53,114.42 L1216.60,114.53 L1216.66,114.60 L1216.68,114.62 L1216.72,114.63 L1216.79,114.63 L1216.85,114.60 L1216.91,114.54 L1216.98,114.45 L1217.04,114.32 L1217.08,114.23 L1217.10,114.17 L1217.16,113.99 L1217.23,113.79 L1217.29,113.56 L1217.35,113.30 L1217.42,113.03 L1217.47,112.77 L1217.48,112.74 L1217.54,112.42 L1217.61,112.09 L1217.67,111.75 L1217.73,111.39 L1217.87,110.57 L1218.26,108.00 L1218.66,105.32 L1219.05,102.73 L1219.45,100.34 L1219.84,98.21 L1220.24,96.39 L1220.63,94.88 L1221.03,93.69 L1221.42,92.80 L1221.81,92.21 L1222.21,91.90 L1222.60,91.88 L1223.00,92.13 L1223.39,92.63 L1223.79,93.39 L1224.18,94.41 L1224.58,95.67 L1224.97,97.17 L1225.37,98.91 L1225.76,100.89 L1226.15,103.11 L1226.55,105.54 L1226.94,108.19 L1227.34,111.02 L1227.73,113.99 L1228.13,117.03 L1228.52,120.05 L1228.92,122.89 L1229.21,124.79 L1229.27,125.16 L1229.31,125.38 L1229.34,125.52 L1229.40,125.86 L1229.46,126.19 L1229.53,126.50 L1229.59,126.79 L1229.65,127.06 L1229.71,127.28 L1229.71,127.32 L1229.78,127.55 L1229.84,127.76 L1229.90,127.94 L1229.97,128.11 L1230.03,128.25 L1230.09,128.36 L1230.10,128.37 L1230.16,128.45 L1230.22,128.51 L1230.28,128.55 L1230.35,128.56 L1230.41,128.54 L1230.47,128.50 L1230.49,128.48 L1230.54,128.40 L1230.60,128.22 L1230.66,127.96 L1230.73,127.62 L1230.79,127.20 L1230.85,126.71 L1230.89,126.38 L1230.91,126.15 L1230.98,125.52 L1231.04,124.84 L1231.10,124.10 L1231.17,123.31 L1231.23,122.47 L1231.28,121.73 L1231.29,121.59 L1231.36,120.68 L1231.42,119.74 L1231.48,118.77 L1231.55,117.78 L1231.61,116.77 L1231.67,115.75 L1231.68,115.64 L1231.74,114.71 L1232.07,109.10 L1232.47,102.66 L1232.86,96.59 L1233.26,91.01 L1233.65,85.91 L1234.05,81.27 L1234.44,77.05 L1234.83,73.22 L1235.23,69.74 L1235.62,66.56 L1236.02,63.65 L1236.41,60.99 L1236.81,58.55 L1237.20,56.31 L1237.60,54.24 L1237.99,52.32 L1238.39,50.55 L1238.78,48.90 L1239.17,47.37 L1239.57,45.94 L1239.96,44.60 L1240.36,43.34 L1240.75,42.15 L1241.15,41.04 L1241.54,39.98 L1241.94,38.98 L1242.33,38.02 L1242.73,37.11 L1243.12,36.24 L1243.52,35.40 L1243.91,34.60 L1244.30,33.83 L1244.70,33.08 L1245.09,32.36 L1245.49,31.66 L1245.88,30.99 L1246.28,30.33 L1246.67,29.69 L1247.07,29.07 L1247.46,28.48 L1247.86,27.89 L1248.25,27.33 L1248.64,26.79 L1249.04,26.26 L1249.43,25.75 L1249.83,25.26 L1250.22,24.79 L1250.62,24.34 L1251.01,23.91 L1251.41,23.50 L1251.80,23.12 L1252.20,22.75 L1252.59,22.41 L1252.98,22.09 L1253.38,21.79 L1253.77,21.51 L1254.17,21.26 L1254.56,21.03 L1254.96,20.82 L1255.35,20.63 L1255.75,20.46 L1256.14,20.32 L1256.54,20.19 L1256.93,20.08 L1257.32,19.99 L1257.72,19.92 L1258.11,19.86 L1258.51,19.82 L1258.90,19.80 L1259.30,19.79 L1259.69,19.79 L1260.09,19.81 L1260.48,19.83 L1260.88,19.87 L1261.27,19.92 L1261.67,19.98 L1262.06,20.05 L1262.45,20.13 L1262.85,20.22 L1263.24,20.32 L1263.64,20.42 L1264.03,20.54 L1264.43,20.66 L1264.82,20.79 L1265.22,20.93 L1265.61,21.08 L1266.01,21.24 L1266.40,21.41 L1266.79,21.59 L1267.19,21.78 L1267.58,21.97 L1267.98,22.18 L1268.37,22.40 L1268.77,22.63 L1269.16,22.87 L1269.56,23.12 L1269.95,23.39 L1270.35,23.67 L1270.74,23.96 L1271.13,24.26 L1271.53,24.58 L1271.92,24.91 L1272.32,25.26 L1272.71,25.63 L1273.11,26.01 L1273.50,26.41 L1273.90,26.83 L1274.29,27.27 L1274.69,27.73 L1275.08,28.21 L1275.47,28.71 L1275.87,29.24 L1276.26,29.80 L1276.66,30.38 L1277.05,30.98 L1277.45,31.62 L1277.84,32.29 L1278.24,32.99 L1278.63,33.72 L1279.03,34.49 L1279.42,35.31 L1279.81,36.16 L1280.21,37.05 L1280.60,37.99 L1281.00,38.99 L1281.39,40.03 L1281.79,41.13 L1282.18,42.29 L1282.58,43.51 L1282.97,44.80 L1283.37,46.16 L1283.76,47.60 L1284.16,49.12 L1284.55,50.73 L1284.94,52.44 L1285.34,54.25 L1285.73,56.18 L1286.13,58.22 L1286.52,60.40 L1286.92,62.72 L1287.31,65.20 L1287.71,67.86 L1288.10,70.70 L1288.50,73.75 L1288.89,77.03 L1289.28,80.56 L1289.68,84.38 L1290.07,88.50 L1290.47,92.97 L1290.86,97.81 L1291.26,103.03 L1291.65,108.63 L1292.05,114.54 L1292.44,120.59 L1292.61,123.21 L1292.68,124.14 L1292.74,125.06 L1292.80,125.96 L1292.84,126.40 L1292.87,126.84 L1292.93,127.69 L1292.99,128.52 L1293.06,129.31 L1293.12,130.07 L1293.18,130.78 L1293.23,131.29 L1293.25,131.46 L1293.31,132.08 L1293.37,132.65 L1293.44,133.17 L1293.50,133.63 L1293.56,134.02 L1293.62,134.34 L1293.62,134.34 L1293.69,134.60 L1293.75,134.79 L1293.81,134.90 L1293.88,134.94 L1293.94,134.89 L1294.00,134.76 L1294.02,134.72 L1294.07,134.55 L1294.13,134.26 L1294.19,133.88 L1294.26,133.44 L1294.32,132.91 L1294.38,132.33 L1294.41,132.01 L1294.45,131.67 L1294.51,130.97 L1294.57,130.21 L1294.63,129.40 L1294.70,128.55 L1294.76,127.66 L1294.81,126.97 L1294.82,126.74 L1294.89,125.80 L1294.95,124.82 L1295.01,123.83 L1295.08,122.83 L1295.14,121.81 L1295.20,120.78 L1295.60,114.28 L1295.99,107.96 L1296.39,102.01 L1296.78,96.50 L1297.18,91.43 L1297.57,86.78 L1297.96,82.51 L1298.36,78.57 L1298.75,74.95 L1299.15,71.60 L1299.54,68.50 L1299.94,65.62 L1300.33,62.95 L1300.73,60.45 L1301.12,58.12 L1301.52,55.95 L1301.91,53.91 L1302.31,52.00 L1302.70,50.20 L1303.09,48.52 L1303.49,46.93 L1303.88,45.44 L1304.28,44.03 L1304.67,42.70 L1305.07,41.44 L1305.46,40.26 L1305.86,39.14 L1306.25,38.08 L1306.65,37.07 L1307.04,36.12 L1307.43,35.22 L1307.83,34.36 L1308.22,33.55 L1308.62,32.78 L1309.01,32.05 L1309.41,31.35 L1309.80,30.69 L1310.20,30.06 L1310.59,29.46 L1310.99,28.89 L1311.38,28.35 L1311.77,27.83 L1312.17,27.34 L1312.56,26.87 L1312.96,26.42 L1313.35,25.99 L1313.75,25.59 L1314.14,25.20 L1314.54,24.83 L1314.93,24.47 L1315.33,24.14 L1315.72,23.81 L1316.11,23.50 L1316.51,23.21 L1316.90,22.93 L1317.30,22.66 L1317.69,22.41 L1318.09,22.16 L1318.48,21.93 L1318.88,21.71 L1319.27,21.50 L1319.67,21.29 L1320.06,21.10 L1320.45,20.92 L1320.85,20.74 L1321.24,20.57 L1321.64,20.41 L1322.03,20.26 L1322.43,20.12 L1322.82,19.98 L1323.22,19.85 L1323.61,19.73 L1324.01,19.61 L1324.40,19.50 L1324.80,19.39 L1325.19,19.29 L1325.58,19.20 L1325.98,19.11 L1326.37,19.03 L1326.77,18.95 L1327.16,18.88 L1327.56,18.81 L1327.95,18.75 L1328.35,18.69 L1328.74,18.63 L1329.14,18.58 L1329.53,18.54 L1329.92,18.50 L1330.32,18.46 L1330.71,18.42 L1331.11,18.40 L1331.50,18.37 L1331.90,18.35 L1332.29,18.33 L1332.69,18.31 L1333.08,18.30 L1333.48,18.30 L1333.87,18.29 L1334.26,18.29 L1334.66,18.29 L1335.05,18.30 L1335.45,18.31 L1335.84,18.32 L1336.24,18.33 L1336.63,18.35 L1337.03,18.37 L1337.42,18.40 L1337.82,18.43 L1338.21,18.46 L1338.60,18.49 L1339.00,18.52 L1339.39,18.56 L1339.79,18.60 L1340.18,18.65 L1340.58,18.70 L1340.97,18.74 L1341.37,18.80 L1341.76,18.85 L1342.16,18.91 L1342.55,18.97 L1342.94,19.03 L1343.34,19.09 L1343.73,19.16 L1344.13,19.23 L1344.52,19.30 L1344.92,19.38 L1345.31,19.45 L1345.71,19.53 L1346.10,19.61 L1346.50,19.69 L1346.89,19.77 L1347.29,19.86 L1347.68,19.95 L1348.07,20.03 L1348.47,20.12 L1348.86,20.21 L1349.26,20.31 L1349.65,20.40 L1350.05,20.50 L1350.44,20.59 L1350.84,20.69 L1351.23,20.78 L1351.63,20.88 L1352.02,20.98 L1352.41,21.08 L1352.81,21.18 L1353.20,21.27 L1353.60,21.37 L1353.99,21.47 L1354.39,21.57 L1354.78,21.66 L1355.18,21.76 L1355.57,21.85 L1355.97,21.94 L1356.36,22.03 L1356.75,22.12 L1357.15,22.21 L1357.54,22.29 L1357.94,22.38 L1358.33,22.45 L1358.73,22.53 L1359.12,22.60 L1359.52,22.67 L1359.91,22.74 L1360.31,22.80 L1360.70,22.86 L1361.09,22.91 L1361.49,22.96 L1361.88,23.01 L1362.28,23.05 L1362.67,23.08 L1363.07,23.12 L1363.46,23.14 L1363.86,23.16 L1364.25,23.18 L1364.65,23.19 L1364.96,23.19 L1365.02,23.19 L1365.04,23.19 L1365.09,23.19 L1365.15,23.19 L1365.21,23.19 L1365.28,23.19 L1365.34,23.19 L1365.40,23.19 L1365.43,23.19 L1365.47,23.19 L1365.53,23.19 L1365.59,23.18 L1365.66,23.18 L1365.72,23.18 L1365.78,23.18 L1365.83,23.18 L1365.85,23.18 L1365.91,23.18 L1365.97,23.18 L1366.03,23.17 L1366.10,23.17 L1366.16,23.17 L1366.22,23.17 L1366.29,23.16 L1366.35,23.16 L1366.41,23.16 L1366.48,23.15 L1366.54,23.15 L1366.60,23.15 L1366.62,23.15 L1366.67,23.14 L1366.73,23.14 L1366.79,23.13 L1366.86,23.13 L1366.92,23.12 L1366.98,23.11 L1367.01,23.11 L1367.04,23.11 L1367.11,23.10 L1367.17,23.09 L1367.23,23.09 L1367.30,23.08 L1367.36,23.07 L1367.41,23.07 L1367.42,23.06 L1367.49,23.06 L1367.80,23.01 L1368.20,22.94 L1368.59,22.86 L1368.99,22.77 L1369.38,22.67 L1369.78,22.57 L1370.17,22.45 L1370.56,22.32 L1370.96,22.18 L1371.35,22.04 L1371.75,21.89 L1372.14,21.73 L1372.54,21.57 L1372.93,21.40 L1373.33,21.23 L1373.72,21.05 L1374.12,20.87 L1374.51,20.69 L1374.90,20.50 L1375.30,20.31 L1375.69,20.12 L1376.09,19.93 L1376.48,19.74 L1376.88,19.54 L1377.27,19.35 L1377.67,19.16 L1378.06,18.97 L1378.46,18.78 L1378.85,18.59 L1379.24,18.41 L1379.64,18.22 L1380.03,18.04 L1380.43,17.86 L1380.82,17.68 L1381.22,17.51 L1381.61,17.33 L1382.01,17.16 L1382.40,17.00 L1382.80,16.83 L1383.19,16.67 L1383.58,16.51 L1383.98,16.36 L1384.37,16.20 L1384.77,16.05 L1385.16,15.91 L1385.56,15.76 L1385.95,15.62 L1386.35,15.49 L1386.74,15.35 L1387.14,15.22 L1387.53,15.09 L1387.93,14.97 L1388.32,14.84 L1388.71,14.72 L1389.11,14.61 L1389.50,14.49 L1389.90,14.38 L1390.29,14.27 L1390.69,14.17 L1391.08,14.06 L1391.48,13.96 L1391.87,13.86 L1392.27,13.76 L1392.66,13.67 L1393.05,13.58 L1393.45,13.49 L1393.84,13.40 L1394.24,13.31 L1394.63,13.23 L1395.03,13.15 L1395.42,13.07 L1395.82,12.99 L1396.21,12.91 L1396.61,12.84 L1397.00,12.76" stroke="#666" stroke-width="4.0" fill="none" stroke-dasharray="1.2 1.8"/>
<path d="M765.70,8.77 L766.09,8.77 L766.49,8.77 L766.88,8.78 L767.28,8.78 L767.67,8.78 L768.07,8.78 L768.46,8.78 L768.86,8.79 L769.25,8.79 L769.65,8.79 L770.04,8.79 L770.43,8.80 L770.83,8.80 L771.22,8.80 L771.62,8.80 L772.01,8.80 L772.41,8.81 L772.80,8.81 L773.20,8.81 L773.59,8.81 L773.99,8.82 L774.38,8.82 L774.77,8.82 L775.17,8.82 L775.56,8.83 L775.96,8.83 L776.35,8.83 L776.75,8.83 L777.14,8.84 L777.54,8.84 L777.93,8.84 L778.33,8.84 L778.72,8.85 L779.12,8.85 L779.51,8.85 L779.90,8.85 L780.30,8.86 L780.69,8.86 L781.09,8.86 L781.48,8.86 L781.88,8.87 L782.27,8.87 L782.67,8.87 L783.06,8.87 L783.46,8.88 L783.85,8.88 L784.24,8.88 L784.64,8.89 L785.03,8.89 L785.43,8.89 L785.82,8.90 L786.22,8.90 L786.61,8.90 L787.01,8.90 L787.40,8.91 L787.80,8.91 L788.19,8.91 L788.58,8.92 L788.98,8.92 L789.37,8.92 L789.77,8.93 L790.16,8.93 L790.56,8.93 L790.95,8.94 L791.35,8.94 L791.74,8.94 L792.14,8.95 L792.53,8.95 L792.92,8.95 L793.32,8.96 L793.71,8.96 L794.11,8.96 L794.50,8.97 L794.90,8.97 L795.29,8.97 L795.69,8.98 L796.08,8.98 L796.48,8.99 L796.87,8.99 L797.27,8.99 L797.66,9.00 L798.05,9.00 L798.45,9.00 L798.84,9.01 L799.24,9.01 L799.63,9.02 L800.03,9.02 L800.42,9.03 L800.82,9.03 L801.21,9.03 L801.61,9.04 L802.00,9.04 L802.39,9.05 L802.79,9.05 L803.18,9.05 L803.58,9.06 L803.97,9.06 L804.37,9.07 L804.76,9.07 L805.16,9.08 L805.55,9.08 L805.95,9.09 L806.34,9.09 L806.73,9.10 L807.13,9.10 L807.52,9.11 L807.92,9.11 L808.31,9.12 L808.71,9.12 L809.10,9.13 L809.50,9.13 L809.89,9.14 L810.29,9.14 L810.68,9.15 L811.07,9.15 L811.47,9.16 L811.86,9.16 L812.26,9.17 L812.65,9.17 L813.05,9.18 L813.44,9.18 L813.84,9.19 L814.23,9.20 L814.63,9.20 L815.02,9.21 L815.41,9.21 L815.81,9.22 L816.20,9.23 L816.60,9.23 L816.99,9.24 L817.39,9.24 L817.78,9.25 L818.18,9.26 L818.57,9.26 L818.97,9.27 L819.36,9.28 L819.76,9.28 L820.15,9.29 L820.54,9.30 L820.94,9.30 L821.33,9.31 L821.73,9.32 L822.12,9.32 L822.52,9.33 L822.91,9.34 L823.31,9.35 L823.70,9.35 L824.10,9.36 L824.49,9.37 L824.88,9.38 L825.28,9.38 L825.67,9.39 L826.07,9.40 L826.46,9.41 L826.86,9.42 L827.25,9.42 L827.65,9.43 L828.04,9.44 L828.44,9.45 L828.83,9.46 L829.22,9.47 L829.62,9.48 L830.01,9.48 L830.41,9.49 L830.80,9.50 L831.20,9.51 L831.59,9.52 L831.99,9.53 L832.38,9.54 L832.78,9.55 L833.17,9.56 L833.56,9.57 L833.96,9.58 L834.35,9.59 L834.75,9.60 L835.14,9.61 L835.54,9.62 L835.93,9.63 L836.33,9.64 L836.72,9.66 L837.12,9.67 L837.51,9.68 L837.90,9.69 L838.30,9.70 L838.69,9.71 L839.09,9.72 L839.48,9.74 L839.88,9.75 L840.27,9.76 L840.67,9.77 L841.06,9.79 L841.46,9.80 L841.85,9.81 L842.25,9.83 L842.64,9.84 L843.03,9.85 L843.43,9.87 L843.82,9.88 L844.22,9.90 L844.61,9.91 L845.01,9.92 L845.40,9.94 L845.80,9.95 L846.19,9.97 L846.59,9.99 L846.98,10.00 L847.37,10.02 L847.77,10.03 L848.16,10.05 L848.56,10.07 L848.95,10.08 L849.35,10.10 L849.74,10.12 L850.14,10.14 L850.53,10.15 L850.93,10.17 L851.32,10.19 L851.71,10.21 L852.11,10.23 L852.50,10.25 L852.90,10.27 L853.29,10.29 L853.69,10.31 L854.08,10.33 L854.48,10.35 L854.87,10.37 L855.27,10.39 L855.66,10.42 L856.05,10.44 L856.45,10.46 L856.84,10.48 L857.24,10.51 L857.63,10.53 L858.03,10.56 L858.42,10.58 L858.82,10.61 L859.21,10.63 L859.61,10.66 L860.00,10.68 L860.40,10.71 L860.79,10.74 L861.18,10.77 L861.58,10.79 L861.97,10.82 L862.37,10.85 L862.76,10.88 L863.16,10.91 L863.55,10.94 L863.95,10.98 L864.34,11.01 L864.74,11.04 L865.13,11.08 L865.52,11.11 L865.92,11.14 L866.31,11.18 L866.71,11.22 L867.10,11.25 L867.50,11.29 L867.89,11.33 L868.29,11.37 L868.68,11.41 L869.08,11.45 L869.47,11.49 L869.86,11.53 L870.26,11.57 L870.65,11.62 L871.05,11.66 L871.44,11.71 L871.84,11.75 L872.23,11.80 L872.63,11.85 L873.02,11.90 L873.42,11.95 L873.81,12.00 L874.20,12.06 L874.60,12.11 L874.99,12.17 L875.39,12.22 L875.78,12.28 L876.18,12.34 L876.57,12.40 L876.97,12.46 L877.36,12.52 L877.76,12.59 L878.15,12.65 L878.54,12.72 L878.94,12.79 L879.33,12.86 L879.73,12.93 L880.12,13.01 L880.52,13.08 L880.91,13.16 L881.31,13.24 L881.70,13.32 L882.10,13.41 L882.49,13.49 L882.89,13.58 L883.28,13.67 L883.67,13.76 L884.07,13.86 L884.46,13.96 L884.86,14.06 L885.25,14.16 L885.65,14.26 L886.04,14.37 L886.44,14.48 L886.83,14.60 L887.23,14.72 L887.62,14.84 L888.01,14.96 L888.41,15.09 L888.80,15.22 L889.20,15.35 L889.59,15.49 L889.99,15.63 L890.38,15.78 L890.78,15.93 L891.17,16.09 L891.57,16.25 L891.96,16.41 L892.35,16.59 L892.75,16.76 L893.14,16.94 L893.54,17.13 L893.93,17.32 L894.33,17.52 L894.72,17.73 L895.12,17.94 L895.51,18.16 L895.91,18.38 L896.30,18.62 L896.69,18.86 L897.09,19.11 L897.48,19.37 L897.88,19.63 L898.27,19.91 L898.67,20.20 L899.06,20.49 L899.46,20.80 L899.85,21.12 L900.25,21.45 L900.64,21.79 L901.03,22.15 L901.43,22.52 L901.82,22.90 L902.22,23.30 L902.61,23.71 L903.01,24.14 L903.40,24.59 L903.80,25.05 L904.19,25.53 L904.59,26.04 L904.98,26.56 L905.38,27.11 L905.77,27.67 L906.16,28.27 L906.56,28.88 L906.95,29.53 L907.35,30.20 L907.74,30.91 L908.14,31.64 L908.53,32.41 L908.93,33.21 L909.32,34.05 L909.72,34.93 L910.11,35.86 L910.50,36.83 L910.90,37.84 L911.29,38.91 L911.69,40.03 L912.08,41.20 L912.48,42.44 L912.87,43.75 L913.27,45.12 L913.66,46.57 L914.06,48.10 L914.45,49.72 L914.84,51.43 L915.24,53.24 L915.63,55.17 L916.03,57.21 L916.42,59.39 L916.82,61.71 L917.21,64.19 L917.61,66.85 L918.00,69.70 L918.40,72.78 L918.79,76.10 L919.18,79.70 L919.58,83.63 L919.97,87.94 L920.37,92.70 L920.76,97.98 L921.16,103.91 L921.55,110.65 L921.95,118.39 L922.34,127.46 L922.74,138.29 L922.95,145.01 L923.01,147.17 L923.07,149.39 L923.13,151.46 L923.14,151.69 L923.20,154.06 L923.26,156.51 L923.33,159.03 L923.39,161.62 L923.45,164.28 L923.52,166.99 L923.53,167.40 L923.58,169.74 L923.64,172.51 L923.70,175.27 L923.77,177.97 L923.83,180.57 L923.89,183.00 L923.92,183.90 L923.96,185.16 L924.02,186.98 L924.08,188.36 L924.15,189.23 L924.21,189.53 L924.27,189.17 L924.31,188.57 L924.34,188.13 L924.40,186.48 L924.46,184.33 L924.53,181.81 L924.59,179.03 L924.65,176.09 L924.71,173.37 L924.72,173.07 L924.78,170.02 L924.84,166.99 L924.90,164.01 L924.97,161.10 L925.03,158.27 L925.09,155.53 L925.10,155.12 L925.16,152.87 L925.22,150.31 L925.28,147.83 L925.35,145.45 L925.41,143.14 L925.47,140.92 L925.50,140.05 L925.89,127.92 L926.29,117.95 L926.68,109.56 L927.08,102.35 L927.47,96.06 L927.87,90.50 L928.26,85.52 L928.65,81.05 L929.05,76.98 L929.44,73.27 L929.84,69.87 L930.23,66.73 L930.63,63.83 L931.02,61.14 L931.42,58.64 L931.81,56.31 L932.21,54.13 L932.60,52.09 L932.99,50.17 L933.39,48.38 L933.78,46.69 L934.18,45.09 L934.57,43.59 L934.97,42.17 L935.36,40.83 L935.76,39.57 L936.15,38.37 L936.55,37.23 L936.94,36.15 L937.33,35.13 L937.73,34.16 L938.12,33.23 L938.52,32.36 L938.91,31.52 L939.31,30.73 L939.70,29.97 L940.10,29.24 L940.49,28.56 L940.89,27.90 L941.28,27.27 L941.67,26.67 L942.07,26.09 L942.46,25.55 L942.86,25.02 L943.25,24.52 L943.65,24.04 L944.04,23.58 L944.44,23.13 L944.83,22.71 L945.23,22.30 L945.62,21.91 L946.02,21.54 L946.41,21.18 L946.80,20.83 L947.20,20.50 L947.59,20.18 L947.99,19.87 L948.38,19.58 L948.78,19.29 L949.17,19.02 L949.57,18.75 L949.96,18.50 L950.36,18.25 L950.75,18.01 L951.14,17.78 L951.54,17.56 L951.93,17.35 L952.33,17.14 L952.72,16.95 L953.12,16.75 L953.51,16.57 L953.91,16.39 L954.30,16.21 L954.70,16.05 L955.09,15.88 L955.48,15.73 L955.88,15.57 L956.27,15.43 L956.67,15.28 L957.06,15.14 L957.46,15.01 L957.85,14.88 L958.25,14.75 L958.64,14.63 L959.04,14.51 L959.43,14.40 L959.82,14.29 L960.22,14.18 L960.61,14.07 L961.01,13.97 L961.40,13.87 L961.80,13.77 L962.19,13.68 L962.59,13.59 L962.98,13.50 L963.38,13.41 L963.77,13.33 L964.16,13.25 L964.56,13.17 L964.95,13.09 L965.35,13.01 L965.74,12.94 L966.14,12.87 L966.53,12.80 L966.93,12.73 L967.32,12.67 L967.72,12.60 L968.11,12.54 L968.51,12.48 L968.90,12.42 L969.29,12.36 L969.69,12.31 L970.08,12.25 L970.48,12.20 L970.87,12.14 L971.27,12.09 L971.66,12.04 L972.06,12.00 L972.45,11.95 L972.85,11.90 L973.24,11.86 L973.63,11.81 L974.03,11.77 L974.42,11.73 L974.82,11.69 L975.21,11.65 L975.61,11.61 L976.00,11.57 L976.40,11.53 L976.79,11.50 L977.19,11.46 L977.58,11.43 L977.97,11.40 L978.37,11.36 L978.76,11.33 L979.16,11.30 L979.55,11.27 L979.95,11.24 L980.34,11.21 L980.74,11.18 L981.13,11.15 L981.53,11.13 L981.92,11.10 L982.31,11.08 L982.71,11.05 L983.10,11.03 L983.50,11.00 L983.89,10.98 L984.29,10.96 L984.68,10.93 L985.08,10.91 L985.47,10.89 L985.87,10.87 L986.26,10.85 L986.65,10.83 L987.05,10.81 L987.44,10.79 L987.84,10.78 L988.23,10.76 L988.63,10.74 L989.02,10.73 L989.42,10.71 L989.81,10.69 L990.21,10.68 L990.60,10.66 L991.00,10.65 L991.39,10.64 L991.78,10.62 L992.18,10.61 L992.57,10.60 L992.97,10.59 L993.36,10.57 L993.76,10.56 L994.15,10.55 L994.55,10.54 L994.94,10.53 L995.34,10.52 L995.73,10.51 L996.12,10.51 L996.52,10.50 L996.91,10.49 L997.31,10.48 L997.70,10.47 L998.10,10.47 L998.49,10.46 L998.89,10.45 L999.28,10.45 L999.68,10.44 L1000.07,10.44 L1000.46,10.43 L1000.86,10.43 L1001.25,10.43 L1001.65,10.42 L1002.04,10.42 L1002.44,10.42 L1002.83,10.42 L1003.23,10.41 L1003.62,10.41 L1004.02,10.41 L1004.41,10.41 L1004.80,10.41 L1005.20,10.41 L1005.59,10.41 L1005.99,10.42 L1006.38,10.42 L1006.78,10.42 L1007.17,10.42 L1007.57,10.43 L1007.96,10.43 L1008.36,10.43 L1008.75,10.44 L1009.15,10.44 L1009.54,10.45 L1009.93,10.46 L1010.33,10.46 L1010.72,10.47 L1011.12,10.48 L1011.51,10.49 L1011.91,10.50 L1012.30,10.50 L1012.70,10.52 L1013.09,10.53 L1013.49,10.54 L1013.88,10.55 L1014.27,10.56 L1014.67,10.58 L1015.06,10.59 L1015.46,10.61 L1015.85,10.62 L1016.25,10.64 L1016.64,10.66 L1017.04,10.68 L1017.43,10.70 L1017.83,10.72 L1018.22,10.74 L1018.61,10.76 L1019.01,10.78 L1019.40,10.81 L1019.80,10.83 L1020.19,10.86 L1020.59,10.89 L1020.98,10.92 L1021.38,10.95 L1021.77,10.98 L1022.17,11.02 L1022.56,11.05 L1022.95,11.09 L1023.35,11.13 L1023.74,11.17 L1024.14,11.21 L1024.53,11.25 L1024.93,11.30 L1025.32,11.35 L1025.72,11.40 L1026.11,11.45 L1026.51,11.51 L1026.90,11.56 L1027.29,11.63 L1027.69,11.69 L1028.08,11.76 L1028.48,11.83 L1028.87,11.90 L1029.27,11.98 L1029.66,12.06 L1030.06,12.14 L1030.45,12.23 L1030.85,12.32 L1031.24,12.42 L1031.64,12.53 L1032.03,12.64 L1032.42,12.75 L1032.82,12.87 L1033.21,13.00 L1033.61,13.14 L1034.00,13.28 L1034.40,13.43 L1034.79,13.59 L1035.19,13.76 L1035.58,13.94 L1035.98,14.13 L1036.37,14.33 L1036.76,14.55 L1037.16,14.78 L1037.55,15.02 L1037.95,15.28 L1038.34,15.56 L1038.74,15.86 L1039.13,16.18 L1039.53,16.52 L1039.92,16.88 L1040.32,17.27 L1040.71,17.70 L1041.10,18.15 L1041.50,18.64 L1041.89,19.17 L1042.29,19.74 L1042.68,20.36 L1043.08,21.03 L1043.47,21.76 L1043.87,22.56 L1044.26,23.43 L1044.66,24.37 L1045.05,25.41 L1045.44,26.54 L1045.84,27.78 L1046.23,29.15 L1046.63,30.66 L1047.02,32.32 L1047.42,34.16 L1047.81,36.19 L1048.21,38.45 L1048.60,40.95 L1049.00,43.73 L1049.39,46.83 L1049.79,50.27 L1050.18,54.10 L1050.57,58.35 L1050.97,63.04 L1051.36,68.16 L1051.76,73.62 L1052.15,79.24 L1052.25,80.56 L1052.31,81.44 L1052.37,82.30 L1052.44,83.14 L1052.50,83.96 L1052.55,84.57 L1052.56,84.77 L1052.63,85.54 L1052.69,86.29 L1052.75,87.01 L1052.82,87.68 L1052.88,88.32 L1052.94,88.91 L1052.94,88.91 L1053.00,89.45 L1053.07,89.93 L1053.13,90.37 L1053.19,90.74 L1053.26,91.04 L1053.32,91.29 L1053.34,91.34 L1053.38,91.46 L1053.45,91.56 L1053.51,91.60 L1053.57,91.58 L1053.64,91.52 L1053.70,91.41 L1053.73,91.34 L1053.76,91.27 L1053.83,91.08 L1053.89,90.86 L1053.95,90.60 L1054.01,90.30 L1054.08,89.97 L1054.13,89.69 L1054.14,89.60 L1054.20,89.20 L1054.27,88.77 L1054.33,88.31 L1054.39,87.83 L1054.46,87.32 L1054.52,86.78 L1054.58,86.23 L1054.65,85.65 L1054.71,85.06 L1054.77,84.45 L1054.91,83.03 L1055.31,78.84 L1055.70,74.52 L1056.10,70.26 L1056.49,66.17 L1056.89,62.31 L1057.28,58.71 L1057.68,55.37 L1058.07,52.29 L1058.47,49.44 L1058.86,46.82 L1059.25,44.40 L1059.65,42.18 L1060.04,40.13 L1060.44,38.23 L1060.83,36.49 L1061.23,34.88 L1061.62,33.39 L1062.02,32.01 L1062.41,30.73 L1062.81,29.55 L1063.20,28.45 L1063.59,27.43 L1063.99,26.48 L1064.38,25.59 L1064.78,24.77 L1065.17,24.00 L1065.57,23.28 L1065.96,22.61 L1066.36,21.98 L1066.75,21.39 L1067.15,20.84 L1067.54,20.32 L1067.93,19.83 L1068.33,19.37 L1068.72,18.94 L1069.12,18.54 L1069.51,18.15 L1069.91,17.79 L1070.30,17.45 L1070.70,17.13 L1071.09,16.82 L1071.49,16.53 L1071.88,16.26 L1072.28,16.00 L1072.67,15.75 L1073.06,15.52 L1073.46,15.29 L1073.85,15.08 L1074.25,14.88 L1074.64,14.69 L1075.04,14.50 L1075.43,14.33 L1075.83,14.16 L1076.22,14.00 L1076.62,13.85 L1077.01,13.71 L1077.40,13.57 L1077.80,13.43 L1078.19,13.31 L1078.59,13.18 L1078.98,13.07 L1079.38,12.96 L1079.77,12.85 L1080.17,12.74 L1080.56,12.65 L1080.96,12.55 L1081.35,12.46 L1081.74,12.37 L1082.14,12.29 L1082.53,12.20 L1082.93,12.13 L1083.32,12.05 L1083.72,11.98 L1084.11,11.91 L1084.51,11.84 L1084.90,11.77 L1085.30,11.71 L1085.69,11.65 L1086.08,11.59 L1086.48,11.53 L1086.87,11.48 L1087.27,11.43 L1087.66,11.37 L1088.06,11.33 L1088.45,11.28 L1088.85,11.23 L1089.24,11.19 L1089.64,11.14 L1090.03,11.10 L1090.42,11.06 L1090.82,11.02 L1091.21,10.98 L1091.61,10.94 L1092.00,10.91 L1092.40,10.87 L1092.79,10.84 L1093.19,10.81 L1093.58,10.77 L1093.98,10.74 L1094.37,10.71 L1094.77,10.68 L1095.16,10.66 L1095.55,10.63 L1095.95,10.60 L1096.34,10.58 L1096.74,10.55 L1097.13,10.53 L1097.53,10.50 L1097.92,10.48 L1098.32,10.46 L1098.71,10.44 L1099.11,10.41 L1099.50,10.39 L1099.89,10.37 L1100.29,10.35 L1100.68,10.33 L1101.08,10.32 L1101.47,10.30 L1101.87,10.28 L1102.26,10.26 L1102.66,10.25 L1103.05,10.23 L1103.45,10.22 L1103.84,10.20 L1104.23,10.19 L1104.63,10.17 L1105.02,10.16 L1105.42,10.14 L1105.81,10.13 L1106.21,10.12 L1106.60,10.10 L1107.00,10.09 L1107.39,10.08 L1107.79,10.07 L1108.18,10.06 L1108.57,10.05 L1108.97,10.04 L1109.36,10.03 L1109.76,10.02 L1110.15,10.01 L1110.55,10.00 L1110.94,9.99 L1111.34,9.98 L1111.73,9.97 L1112.13,9.96 L1112.52,9.95 L1112.91,9.94 L1113.31,9.94 L1113.70,9.93 L1114.10,9.92 L1114.49,9.92 L1114.89,9.91 L1115.28,9.90 L1115.68,9.90 L1116.07,9.89 L1116.47,9.88 L1116.86,9.88 L1117.26,9.87 L1117.65,9.87 L1118.04,9.86 L1118.44,9.86 L1118.83,9.85 L1119.23,9.85 L1119.62,9.84 L1120.02,9.84 L1120.41,9.83 L1120.81,9.83 L1121.20,9.83 L1121.60,9.82 L1121.99,9.82 L1122.38,9.82 L1122.78,9.81 L1123.17,9.81 L1123.57,9.81 L1123.96,9.80 L1124.36,9.80 L1124.75,9.80 L1125.15,9.80 L1125.54,9.80 L1125.94,9.79 L1126.33,9.79 L1126.72,9.79 L1127.12,9.79 L1127.51,9.79 L1127.91,9.79 L1128.30,9.78 L1128.70,9.78 L1129.09,9.78 L1129.49,9.78 L1129.88,9.78 L1130.28,9.78 L1130.67,9.78 L1131.06,9.78 L1131.46,9.78 L1131.85,9.78 L1132.25,9.78 L1132.64,9.78 L1133.04,9.78 L1133.43,9.78 L1133.83,9.78 L1134.22,9.78 L1134.62,9.78 L1135.01,9.78 L1135.41,9.79 L1135.80,9.79 L1136.19,9.79 L1136.59,9.79 L1136.98,9.79 L1137.38,9.79 L1137.77,9.80 L1138.17,9.80 L1138.56,9.80 L1138.96,9.80 L1139.35,9.80 L1139.75,9.81 L1140.14,9.81 L1140.53,9.81 L1140.93,9.81 L1141.32,9.82 L1141.72,9.82 L1142.11,9.82 L1142.51,9.83 L1142.90,9.83 L1143.30,9.83 L1143.69,9.84 L1144.09,9.84 L1144.48,9.85 L1144.87,9.85 L1145.27,9.85 L1145.66,9.86 L1146.06,9.86 L1146.45,9.87 L1146.85,9.87 L1147.24,9.88 L1147.64,9.88 L1148.03,9.89 L1148.43,9.89 L1148.82,9.90 L1149.21,9.90 L1149.61,9.91 L1150.00,9.91 L1150.40,9.92 L1150.79,9.93 L1151.19,9.93 L1151.58,9.94 L1151.98,9.94 L1152.37,9.95 L1152.77,9.96 L1153.16,9.96 L1153.55,9.97 L1153.95,9.98 L1154.34,9.99 L1154.74,9.99 L1155.13,10.00 L1155.53,10.01 L1155.92,10.02 L1156.32,10.03 L1156.71,10.03 L1157.11,10.04 L1157.50,10.05 L1157.90,10.06 L1158.29,10.07 L1158.68,10.08 L1159.08,10.09 L1159.47,10.10 L1159.87,10.11 L1160.26,10.12 L1160.66,10.13 L1161.05,10.14 L1161.45,10.15 L1161.84,10.16 L1162.24,10.17 L1162.63,10.18 L1163.02,10.19 L1163.42,10.20 L1163.81,10.21 L1164.21,10.22 L1164.60,10.24 L1165.00,10.25 L1165.39,10.26 L1165.79,10.27 L1166.18,10.29 L1166.58,10.30 L1166.97,10.31 L1167.36,10.33 L1167.76,10.34 L1168.15,10.35 L1168.55,10.37 L1168.94,10.38 L1169.34,10.40 L1169.73,10.41 L1170.13,10.43 L1170.52,10.44 L1170.92,10.46 L1171.31,10.48 L1171.70,10.49 L1172.10,10.51 L1172.49,10.53 L1172.89,10.54 L1173.28,10.56 L1173.68,10.58 L1174.07,10.60 L1174.47,10.62 L1174.86,10.64 L1175.26,10.65 L1175.65,10.67 L1176.05,10.69 L1176.44,10.71 L1176.83,10.74 L1177.23,10.76 L1177.62,10.78 L1178.02,10.80 L1178.41,10.82 L1178.81,10.85 L1179.20,10.87 L1179.60,10.89 L1179.99,10.92 L1180.39,10.94 L1180.78,10.97 L1181.17,10.99 L1181.57,11.02 L1181.96,11.05 L1182.36,11.07 L1182.75,11.10 L1183.15,11.13 L1183.54,11.16 L1183.94,11.19 L1184.33,11.22 L1184.73,11.25 L1185.12,11.28 L1185.51,11.31 L1185.91,11.34 L1186.30,11.38 L1186.70,11.41 L1187.09,11.44 L1187.49,11.48 L1187.88,11.52 L1188.28,11.55 L1188.67,11.59 L1189.07,11.63 L1189.46,11.67 L1189.85,11.71 L1190.25,11.75 L1190.64,11.79 L1191.04,11.83 L1191.43,11.88 L1191.83,11.92 L1192.22,11.97 L1192.62,12.01 L1193.01,12.06 L1193.41,12.11 L1193.80,12.16 L1194.19,12.21 L1194.59,12.26 L1194.98,12.32 L1195.38,12.37 L1195.77,12.43 L1196.17,12.49 L1196.56,12.55 L1196.96,12.61 L1197.35,12.67 L1197.75,12.73 L1198.14,12.80 L1198.54,12.87 L1198.93,12.94 L1199.32,13.01 L1199.72,13.08 L1200.11,13.16 L1200.51,13.23 L1200.90,13.31 L1201.30,13.39 L1201.69,13.48 L1202.09,13.56 L1202.48,13.65 L1202.88,13.75 L1203.27,13.84 L1203.66,13.94 L1204.06,14.04 L1204.45,14.14 L1204.85,14.25 L1205.24,14.36 L1205.64,14.47 L1206.03,14.59 L1206.43,14.71 L1206.82,14.84 L1207.22,14.97 L1207.61,15.10 L1208.00,15.24 L1208.40,15.39 L1208.79,15.54 L1209.19,15.69 L1209.58,15.86 L1209.98,16.02 L1210.37,16.20 L1210.77,16.38 L1211.16,16.57 L1211.56,16.77 L1211.95,16.98 L1212.34,17.19 L1212.74,17.42 L1213.13,17.65 L1213.53,17.90 L1213.92,18.16 L1214.32,18.43 L1214.71,18.72 L1215.11,19.02 L1215.50,19.33 L1215.90,19.67 L1216.29,20.02 L1216.68,20.39 L1217.08,20.79 L1217.47,21.21 L1217.87,21.65 L1218.26,22.13 L1218.66,22.64 L1219.05,23.18 L1219.45,23.77 L1219.84,24.39 L1220.24,25.07 L1220.63,25.80 L1221.03,26.59 L1221.42,27.44 L1221.81,28.37 L1222.21,29.38 L1222.60,30.49 L1223.00,31.70 L1223.39,33.02 L1223.79,34.48 L1224.18,36.08 L1224.58,37.84 L1224.97,39.80 L1225.37,41.97 L1225.76,44.38 L1226.15,47.06 L1226.55,50.06 L1226.94,53.43 L1227.34,57.21 L1227.73,61.49 L1228.13,66.33 L1228.52,71.83 L1228.92,78.10 L1229.31,85.26 L1229.71,93.41 L1230.10,102.52 L1230.11,102.83 L1230.18,104.36 L1230.24,105.90 L1230.30,107.46 L1230.37,109.01 L1230.43,110.57 L1230.49,112.11 L1230.49,112.19 L1230.55,113.64 L1230.62,115.15 L1230.68,116.61 L1230.74,118.03 L1230.81,119.39 L1230.87,120.67 L1230.89,121.04 L1230.93,121.87 L1231.00,122.96 L1231.06,123.93 L1231.12,124.78 L1231.19,125.47 L1231.25,126.01 L1231.28,126.23 L1231.31,126.38 L1231.38,126.58 L1231.44,126.63 L1231.50,126.56 L1231.56,126.36 L1231.63,126.04 L1231.68,125.71 L1231.69,125.61 L1231.75,125.08 L1231.82,124.45 L1231.88,123.73 L1231.94,122.93 L1232.01,122.06 L1232.07,121.14 L1232.07,121.09 L1232.13,120.16 L1232.20,119.14 L1232.26,118.09 L1232.32,117.02 L1232.39,115.92 L1232.45,114.81 L1232.47,114.47 L1232.51,113.69 L1232.57,112.57 L1232.64,111.44 L1232.86,107.50 L1233.26,100.97 L1233.65,95.14 L1234.05,90.05 L1234.44,85.65 L1234.83,81.86 L1235.23,78.62 L1235.62,75.86 L1236.02,73.50 L1236.41,71.52 L1236.81,69.85 L1237.20,68.48 L1237.60,67.35 L1237.99,66.45 L1238.39,65.76 L1238.78,65.26 L1239.17,64.92 L1239.57,64.74 L1239.96,64.71 L1240.36,64.82 L1240.75,65.05 L1241.15,65.41 L1241.54,65.88 L1241.94,66.47 L1242.33,67.18 L1242.73,67.99 L1243.12,68.92 L1243.52,69.95 L1243.91,71.10 L1244.30,72.36 L1244.70,73.73 L1245.09,75.23 L1245.49,76.84 L1245.88,78.58 L1246.28,80.45 L1246.67,82.44 L1247.07,84.58 L1247.46,86.85 L1247.86,89.26 L1248.25,91.81 L1248.64,94.49 L1249.04,97.29 L1249.43,100.19 L1249.83,103.16 L1250.22,106.16 L1250.62,109.12 L1251.01,111.95 L1251.41,114.52 L1251.63,115.81 L1251.69,116.15 L1251.76,116.48 L1251.80,116.70 L1251.82,116.79 L1251.88,117.09 L1251.95,117.37 L1252.01,117.64 L1252.07,117.89 L1252.14,118.12 L1252.20,118.33 L1252.20,118.34 L1252.26,118.54 L1252.32,118.73 L1252.39,118.89 L1252.45,119.03 L1252.51,119.16 L1252.58,119.27 L1252.59,119.29 L1252.64,119.35 L1252.70,119.42 L1252.77,119.47 L1252.83,119.49 L1252.89,119.50 L1252.96,119.48 L1252.98,119.47 L1253.02,119.46 L1253.08,119.42 L1253.15,119.37 L1253.21,119.31 L1253.27,119.23 L1253.34,119.14 L1253.38,119.07 L1253.40,119.04 L1253.46,118.92 L1253.52,118.79 L1253.59,118.65 L1253.65,118.50 L1253.71,118.34 L1253.77,118.17 L1253.78,118.16 L1253.84,117.98 L1253.90,117.78 L1253.97,117.57 L1254.03,117.35 L1254.09,117.12 L1254.16,116.89 L1254.17,116.84 L1254.56,115.14 L1254.96,113.15 L1255.35,110.94 L1255.75,108.60 L1256.14,106.18 L1256.54,103.72 L1256.93,101.27 L1257.32,98.85 L1257.72,96.48 L1258.11,94.18 L1258.51,91.96 L1258.90,89.82 L1259.30,87.77 L1259.69,85.80 L1260.09,83.92 L1260.48,82.13 L1260.88,80.42 L1261.27,78.79 L1261.67,77.25 L1262.06,75.79 L1262.45,74.40 L1262.85,73.09 L1263.24,71.86 L1263.64,70.69 L1264.03,69.60 L1264.43,68.59 L1264.82,67.64 L1265.22,66.76 L1265.61,65.96 L1266.01,65.23 L1266.40,64.58 L1266.79,64.00 L1267.19,63.51 L1267.58,63.10 L1267.98,62.78 L1268.37,62.57 L1268.77,62.45 L1269.16,62.45 L1269.56,62.57 L1269.95,62.83 L1270.35,63.23 L1270.74,63.80 L1271.13,64.56 L1271.53,65.52 L1271.92,66.71 L1272.32,68.16 L1272.71,69.92 L1273.11,72.01 L1273.50,74.50 L1273.90,77.45 L1274.29,80.95 L1274.69,85.10 L1275.08,90.05 L1275.47,96.00 L1275.87,103.24 L1276.26,112.24 L1276.66,123.71 L1276.77,127.42 L1276.83,129.74 L1276.89,132.18 L1276.96,134.74 L1277.02,137.44 L1277.05,138.99 L1277.08,140.29 L1277.14,143.30 L1277.21,146.49 L1277.27,149.86 L1277.33,153.44 L1277.40,157.23 L1277.45,160.42 L1277.46,161.24 L1277.52,165.48 L1277.59,169.94 L1277.65,174.56 L1277.71,179.27 L1277.78,183.90 L1277.84,188.19 L1277.84,188.39 L1277.90,191.76 L1277.97,194.14 L1278.03,194.93 L1278.09,194.62 L1278.15,193.87 L1278.22,192.70 L1278.24,192.28 L1278.28,191.18 L1278.34,189.36 L1278.41,187.30 L1278.47,185.06 L1278.53,182.69 L1278.60,180.25 L1278.63,178.88 L1278.66,177.76 L1278.72,175.25 L1278.79,172.76 L1278.85,170.28 L1278.91,167.85 L1278.98,165.46 L1279.03,163.58 L1279.04,163.12 L1279.10,160.84 L1279.16,158.61 L1279.23,156.44 L1279.29,154.34 L1279.42,150.19 L1279.81,138.92 L1280.21,129.36 L1280.60,121.14 L1281.00,113.97 L1281.39,107.63 L1281.79,101.96 L1282.18,96.86 L1282.58,92.23 L1282.97,88.01 L1283.37,84.13 L1283.76,80.55 L1284.16,77.24 L1284.55,74.17 L1284.94,71.31 L1285.34,68.64 L1285.73,66.14 L1286.13,63.80 L1286.52,61.60 L1286.92,59.52 L1287.31,57.57 L1287.71,55.73 L1288.10,53.98 L1288.50,52.34 L1288.89,50.77 L1289.28,49.29 L1289.68,47.89 L1290.07,46.55 L1290.47,45.28 L1290.86,44.07 L1291.26,42.92 L1291.65,41.82 L1292.05,40.78 L1292.44,39.78 L1292.84,38.82 L1293.23,37.91 L1293.62,37.04 L1294.02,36.21 L1294.41,35.41 L1294.81,34.65 L1295.20,33.91 L1295.60,33.21 L1295.99,32.54 L1296.39,31.89 L1296.78,31.27 L1297.18,30.67 L1297.57,30.10 L1297.96,29.55 L1298.36,29.02 L1298.75,28.51 L1299.15,28.02 L1299.54,27.55 L1299.94,27.09 L1300.33,26.65 L1300.73,26.23 L1301.12,25.82 L1301.52,25.42 L1301.91,25.04 L1302.31,24.68 L1302.70,24.32 L1303.09,23.98 L1303.49,23.65 L1303.88,23.33 L1304.28,23.02 L1304.67,22.72 L1305.07,22.42 L1305.46,22.14 L1305.86,21.87 L1306.25,21.61 L1306.65,21.35 L1307.04,21.10 L1307.43,20.86 L1307.83,20.63 L1308.22,20.40 L1308.62,20.19 L1309.01,19.97 L1309.41,19.77 L1309.80,19.57 L1310.20,19.37 L1310.59,19.18 L1310.99,19.00 L1311.38,18.82 L1311.77,18.65 L1312.17,18.48 L1312.56,18.32 L1312.96,18.16 L1313.35,18.00 L1313.75,17.85 L1314.14,17.71 L1314.54,17.57 L1314.93,17.43 L1315.33,17.29 L1315.72,17.16 L1316.11,17.04 L1316.51,16.91 L1316.90,16.79 L1317.30,16.68 L1317.69,16.56 L1318.09,16.45 L1318.48,16.35 L1318.88,16.24 L1319.27,16.14 L1319.67,16.04 L1320.06,15.94 L1320.45,15.85 L1320.85,15.76 L1321.24,15.67 L1321.64,15.59 L1322.03,15.50 L1322.43,15.42 L1322.82,15.35 L1323.22,15.27 L1323.61,15.20 L1324.01,15.12 L1324.40,15.05 L1324.80,14.99 L1325.19,14.92 L1325.58,14.86 L1325.98,14.80 L1326.37,14.74 L1326.77,14.68 L1327.16,14.63 L1327.56,14.57 L1327.95,14.52 L1328.35,14.47 L1328.74,14.42 L1329.14,14.38 L1329.53,14.33 L1329.92,14.29 L1330.32,14.25 L1330.71,14.21 L1331.11,14.18 L1331.50,14.14 L1331.90,14.11 L1332.29,14.07 L1332.69,14.04 L1333.08,14.02 L1333.48,13.99 L1333.87,13.96 L1334.26,13.94 L1334.66,13.92 L1335.05,13.90 L1335.45,13.88 L1335.84,13.86 L1336.24,13.85 L1336.63,13.83 L1337.03,13.82 L1337.42,13.81 L1337.82,13.80 L1338.21,13.79 L1338.60,13.79 L1339.00,13.79 L1339.39,13.78 L1339.79,13.78 L1340.18,13.78 L1340.58,13.79 L1340.97,13.79 L1341.37,13.80 L1341.76,13.80 L1342.16,13.81 L1342.55,13.82 L1342.94,13.84 L1343.34,13.85 L1343.73,13.87 L1344.13,13.89 L1344.52,13.91 L1344.92,13.93 L1345.31,13.95 L1345.71,13.98 L1346.10,14.00 L1346.50,14.03 L1346.89,14.06 L1347.29,14.09 L1347.68,14.13 L1348.07,14.16 L1348.47,14.20 L1348.86,14.24 L1349.26,14.28 L1349.65,14.33 L1350.05,14.37 L1350.44,14.42 L1350.84,14.47 L1351.23,14.52 L1351.63,14.58 L1352.02,14.63 L1352.41,14.69 L1352.81,14.75 L1353.20,14.81 L1353.60,14.88 L1353.99,14.94 L1354.39,15.01 L1354.78,15.08 L1355.18,15.16 L1355.57,15.23 L1355.97,15.31 L1356.36,15.39 L1356.75,15.47 L1357.15,15.56 L1357.54,15.64 L1357.94,15.73 L1358.33,15.82 L1358.73,15.92 L1359.12,16.02 L1359.52,16.11 L1359.91,16.22 L1360.31,16.32 L1360.70,16.43 L1361.09,16.54 L1361.49,16.65 L1361.88,16.77 L1362.28,16.88 L1362.67,17.00 L1363.07,17.13 L1363.46,17.25 L1363.86,17.38 L1364.25,17.51 L1364.65,17.65 L1365.04,17.79 L1365.43,17.93 L1365.83,18.07 L1366.22,18.22 L1366.62,18.36 L1367.01,18.52 L1367.41,18.67 L1367.80,18.83 L1368.20,18.99 L1368.59,19.16 L1368.99,19.32 L1369.38,19.49 L1369.78,19.67 L1370.17,19.85 L1370.56,20.03 L1370.96,20.21 L1371.35,20.40 L1371.75,20.59 L1372.14,20.78 L1372.54,20.98 L1372.93,21.18 L1373.33,21.38 L1373.72,21.59 L1374.12,21.80 L1374.51,22.02 L1374.90,22.24 L1375.30,22.46 L1375.69,22.68 L1376.09,22.91 L1376.48,23.14 L1376.88,23.38 L1377.27,23.62 L1377.67,23.86 L1378.06,24.11 L1378.46,24.36 L1378.85,24.61 L1379.24,24.87 L1379.64,25.13 L1380.03,25.40 L1380.43,25.67 L1380.82,25.94 L1381.22,26.22 L1381.61,26.50 L1382.01,26.78 L1382.40,27.07 L1382.80,27.36 L1383.19,27.66 L1383.58,27.96 L1383.98,28.26 L1384.37,28.57 L1384.77,28.88 L1385.16,29.20 L1385.56,29.52 L1385.95,29.84 L1386.35,30.17 L1386.74,30.50 L1387.14,30.83 L1387.53,31.17 L1387.93,31.51 L1388.32,31.86 L1388.71,32.21 L1389.11,32.57 L1389.50,32.92 L1389.90,33.29 L1390.29,33.65 L1390.69,34.02 L1391.08,34.40 L1391.48,34.77 L1391.87,35.15 L1392.27,35.54 L1392.66,35.93 L1393.05,36.32 L1393.45,36.72 L1393.84,37.12 L1394.24,37.52 L1394.63,37.93 L1395.03,38.34 L1395.42,38.75 L1395.82,39.17 L1396.21,39.59 L1396.61,40.02 L1397.00,40.45" stroke="#000" stroke-width="3.5" fill="none"/>
<path d="M765.70,8.95 L766.09,8.95 L766.49,8.96 L766.88,8.96 L767.28,8.96 L767.67,8.97 L768.07,8.97 L768.46,8.97 L768.86,8.98 L769.25,8.98 L769.65,8.98 L770.04,8.99 L770.43,8.99 L770.83,8.99 L771.22,9.00 L771.62,9.00 L772.01,9.00 L772.41,9.01 L772.80,9.01 L773.20,9.01 L773.59,9.02 L773.99,9.02 L774.38,9.02 L774.77,9.03 L775.17,9.03 L775.56,9.03 L775.96,9.04 L776.35,9.04 L776.75,9.04 L777.14,9.05 L777.54,9.05 L777.93,9.06 L778.33,9.06 L778.72,9.06 L779.12,9.07 L779.51,9.07 L779.90,9.08 L780.30,9.08 L780.69,9.08 L781.09,9.09 L781.48,9.09 L781.88,9.10 L782.27,9.10 L782.67,9.10 L783.06,9.11 L783.46,9.11 L783.85,9.12 L784.24,9.12 L784.64,9.12 L785.03,9.13 L785.43,9.13 L785.82,9.14 L786.22,9.14 L786.61,9.15 L787.01,9.15 L787.40,9.16 L787.80,9.16 L788.19,9.16 L788.58,9.17 L788.98,9.17 L789.37,9.18 L789.77,9.18 L790.16,9.19 L790.56,9.19 L790.95,9.20 L791.35,9.20 L791.74,9.21 L792.14,9.21 L792.53,9.22 L792.92,9.22 L793.32,9.23 L793.71,9.23 L794.11,9.24 L794.50,9.24 L794.90,9.25 L795.29,9.26 L795.69,9.26 L796.08,9.27 L796.48,9.27 L796.87,9.28 L797.27,9.28 L797.66,9.29 L798.05,9.29 L798.45,9.30 L798.84,9.31 L799.24,9.31 L799.63,9.32 L800.03,9.32 L800.42,9.33 L800.82,9.34 L801.21,9.34 L801.61,9.35 L802.00,9.35 L802.39,9.36 L802.79,9.37 L803.18,9.37 L803.58,9.38 L803.97,9.39 L804.37,9.39 L804.76,9.40 L805.16,9.41 L805.55,9.41 L805.95,9.42 L806.34,9.43 L806.73,9.43 L807.13,9.44 L807.52,9.45 L807.92,9.46 L808.31,9.46 L808.71,9.47 L809.10,9.48 L809.50,9.49 L809.89,9.49 L810.29,9.50 L810.68,9.51 L811.07,9.52 L811.47,9.53 L811.86,9.53 L812.26,9.54 L812.65,9.55 L813.05,9.56 L813.44,9.57 L813.84,9.57 L814.23,9.58 L814.63,9.59 L815.02,9.60 L815.41,9.61 L815.81,9.62 L816.20,9.63 L816.60,9.64 L816.99,9.64 L817.39,9.65 L817.78,9.66 L818.18,9.67 L818.57,9.68 L818.97,9.69 L819.36,9.70 L819.76,9.71 L820.15,9.72 L820.54,9.73 L820.94,9.74 L821.33,9.75 L821.73,9.76 L822.12,9.77 L822.52,9.78 L822.91,9.79 L823.31,9.80 L823.70,9.82 L824.10,9.83 L824.49,9.84 L824.88,9.85 L825.28,9.86 L825.67,9.87 L826.07,9.88 L826.46,9.90 L826.86,9.91 L827.25,9.92 L827.65,9.93 L828.04,9.94 L828.44,9.96 L828.83,9.97 L829.22,9.98 L829.62,10.00 L830.01,10.01 L830.41,10.02 L830.80,10.04 L831.20,10.05 L831.59,10.06 L831.99,10.08 L832.38,10.09 L832.78,10.11 L833.17,10.12 L833.56,10.14 L833.96,10.15 L834.35,10.16 L834.75,10.18 L835.14,10.20 L835.54,10.21 L835.93,10.23 L836.33,10.24 L836.72,10.26 L837.12,10.28 L837.51,10.29 L837.90,10.31 L838.30,10.33 L838.69,10.34 L839.09,10.36 L839.48,10.38 L839.88,10.40 L840.27,10.41 L840.67,10.43 L841.06,10.45 L841.46,10.47 L841.85,10.49 L842.25,10.51 L842.64,10.53 L843.03,10.55 L843.43,10.57 L843.82,10.59 L844.22,10.61 L844.61,10.63 L845.01,10.65 L845.40,10.67 L845.80,10.70 L846.19,10.72 L846.59,10.74 L846.98,10.76 L847.37,10.79 L847.77,10.81 L848.16,10.83 L848.56,10.86 L848.95,10.88 L849.35,10.91 L849.74,10.93 L850.14,10.96 L850.53,10.99 L850.93,11.01 L851.32,11.04 L851.71,11.07 L852.11,11.09 L852.50,11.12 L852.90,11.15 L853.29,11.18 L853.69,11.21 L854.08,11.24 L854.48,11.27 L854.87,11.30 L855.27,11.33 L855.66,11.36 L856.05,11.39 L856.45,11.43 L856.84,11.46 L857.24,11.49 L857.63,11.53 L858.03,11.56 L858.42,11.60 L858.82,11.63 L859.21,11.67 L859.61,11.71 L860.00,11.75 L860.40,11.78 L860.79,11.82 L861.18,11.86 L861.58,11.90 L861.97,11.94 L862.37,11.99 L862.76,12.03 L863.16,12.07 L863.55,12.12 L863.95,12.16 L864.34,12.21 L864.74,12.25 L865.13,12.30 L865.52,12.35 L865.92,12.40 L866.31,12.45 L866.71,12.50 L867.10,12.55 L867.50,12.60 L867.89,12.66 L868.29,12.71 L868.68,12.77 L869.08,12.82 L869.47,12.88 L869.86,12.94 L870.26,13.00 L870.65,13.06 L871.05,13.12 L871.44,13.18 L871.84,13.25 L872.23,13.31 L872.63,13.38 L873.02,13.45 L873.42,13.52 L873.81,13.59 L874.20,13.66 L874.60,13.74 L874.99,13.81 L875.39,13.89 L875.78,13.97 L876.18,14.05 L876.57,14.13 L876.97,14.22 L877.36,14.30 L877.76,14.39 L878.15,14.48 L878.54,14.57 L878.94,14.66 L879.33,14.76 L879.73,14.86 L880.12,14.96 L880.52,15.06 L880.91,15.16 L881.31,15.27 L881.70,15.38 L882.10,15.49 L882.49,15.60 L882.89,15.72 L883.28,15.84 L883.67,15.96 L884.07,16.09 L884.46,16.21 L884.86,16.34 L885.25,16.48 L885.65,16.62 L886.04,16.76 L886.44,16.90 L886.83,17.05 L887.23,17.20 L887.62,17.36 L888.01,17.52 L888.41,17.68 L888.80,17.85 L889.20,18.02 L889.59,18.19 L889.99,18.38 L890.38,18.56 L890.78,18.75 L891.17,18.95 L891.57,19.15 L891.96,19.35 L892.35,19.57 L892.75,19.78 L893.14,20.01 L893.54,20.24 L893.93,20.47 L894.33,20.72 L894.72,20.97 L895.12,21.22 L895.51,21.49 L895.91,21.76 L896.30,22.04 L896.69,22.33 L897.09,22.63 L897.48,22.93 L897.88,23.25 L898.27,23.57 L898.67,23.91 L899.06,24.25 L899.46,24.61 L899.85,24.98 L900.25,25.36 L900.64,25.75 L901.03,26.15 L901.43,26.57 L901.82,27.00 L902.22,27.44 L902.61,27.90 L903.01,28.37 L903.40,28.86 L903.80,29.37 L904.19,29.89 L904.59,30.43 L904.98,30.99 L905.38,31.57 L905.77,32.17 L906.16,32.79 L906.56,33.44 L906.95,34.11 L907.35,34.80 L907.74,35.51 L908.14,36.26 L908.53,37.03 L908.93,37.83 L909.32,38.66 L909.72,39.52 L910.11,40.42 L910.50,41.35 L910.90,42.32 L911.29,43.32 L911.69,44.37 L912.08,45.46 L912.48,46.60 L912.87,47.78 L913.27,49.01 L913.66,50.30 L914.06,51.64 L914.45,53.04 L914.84,54.50 L915.24,56.03 L915.63,57.63 L916.03,59.30 L916.42,61.05 L916.82,62.88 L917.21,64.80 L917.61,66.82 L918.00,68.93 L918.40,71.15 L918.79,73.48 L919.18,75.93 L919.58,78.50 L919.97,81.21 L920.37,84.05 L920.76,87.03 L921.16,90.14 L921.55,93.40 L921.95,96.78 L922.34,100.26 L922.74,103.80 L923.13,107.34 L923.53,110.78 L923.92,114.00 L924.22,116.21 L924.29,116.63 L924.31,116.82 L924.35,117.04 L924.41,117.43 L924.48,117.81 L924.54,118.17 L924.60,118.51 L924.66,118.83 L924.71,119.04 L924.73,119.12 L924.79,119.40 L924.85,119.66 L924.92,119.90 L924.98,120.11 L925.04,120.30 L925.10,120.45 L925.11,120.46 L925.17,120.60 L925.23,120.72 L925.30,120.81 L925.36,120.87 L925.42,120.91 L925.49,120.93 L925.50,120.92 L925.55,120.91 L925.61,120.85 L925.67,120.77 L925.74,120.64 L925.80,120.49 L925.86,120.30 L925.89,120.20 L925.93,120.07 L925.99,119.82 L926.05,119.53 L926.12,119.22 L926.18,118.87 L926.24,118.50 L926.29,118.22 L926.31,118.10 L926.37,117.68 L926.43,117.23 L926.50,116.76 L926.56,116.27 L926.62,115.76 L926.68,115.26 L926.68,115.23 L926.75,114.69 L927.08,111.63 L927.47,107.64 L927.87,103.51 L928.26,99.38 L928.65,95.35 L929.05,91.47 L929.44,87.77 L929.84,84.27 L930.23,80.95 L930.63,77.82 L931.02,74.86 L931.42,72.07 L931.81,69.44 L932.21,66.95 L932.60,64.60 L932.99,62.38 L933.39,60.27 L933.78,58.28 L934.18,56.39 L934.57,54.59 L934.97,52.89 L935.36,51.26 L935.76,49.72 L936.15,48.25 L936.55,46.86 L936.94,45.52 L937.33,44.25 L937.73,43.04 L938.12,41.88 L938.52,40.77 L938.91,39.72 L939.31,38.71 L939.70,37.74 L940.10,36.81 L940.49,35.92 L940.89,35.07 L941.28,34.26 L941.67,33.48 L942.07,32.73 L942.46,32.01 L942.86,31.32 L943.25,30.66 L943.65,30.02 L944.04,29.41 L944.44,28.82 L944.83,28.25 L945.23,27.70 L945.62,27.18 L946.02,26.67 L946.41,26.19 L946.80,25.72 L947.20,25.27 L947.59,24.83 L947.99,24.41 L948.38,24.01 L948.78,23.62 L949.17,23.24 L949.57,22.87 L949.96,22.52 L950.36,22.18 L950.75,21.85 L951.14,21.54 L951.54,21.23 L951.93,20.93 L952.33,20.64 L952.72,20.37 L953.12,20.10 L953.51,19.84 L953.91,19.58 L954.30,19.34 L954.70,19.10 L955.09,18.87 L955.48,18.65 L955.88,18.43 L956.27,18.22 L956.67,18.02 L957.06,17.82 L957.46,17.63 L957.85,17.45 L958.25,17.26 L958.64,17.09 L959.04,16.92 L959.43,16.75 L959.82,16.59 L960.22,16.44 L960.61,16.28 L961.01,16.14 L961.40,15.99 L961.80,15.85 L962.19,15.72 L962.59,15.58 L962.98,15.45 L963.38,15.33 L963.77,15.21 L964.16,15.09 L964.56,14.97 L964.95,14.86 L965.35,14.75 L965.74,14.64 L966.14,14.54 L966.53,14.43 L966.93,14.33 L967.32,14.24 L967.72,14.14 L968.11,14.05 L968.51,13.96 L968.90,13.87 L969.29,13.79 L969.69,13.70 L970.08,13.62 L970.48,13.54 L970.87,13.46 L971.27,13.38 L971.66,13.31 L972.06,13.24 L972.45,13.17 L972.85,13.10 L973.24,13.03 L973.63,12.96 L974.03,12.90 L974.42,12.83 L974.82,12.77 L975.21,12.71 L975.61,12.65 L976.00,12.59 L976.40,12.53 L976.79,12.48 L977.19,12.42 L977.58,12.37 L977.97,12.32 L978.37,12.27 L978.76,12.21 L979.16,12.17 L979.55,12.12 L979.95,12.07 L980.34,12.02 L980.74,11.98 L981.13,11.93 L981.53,11.89 L981.92,11.85 L982.31,11.81 L982.71,11.76 L983.10,11.72 L983.50,11.68 L983.89,11.65 L984.29,11.61 L984.68,11.57 L985.08,11.53 L985.47,11.50 L985.87,11.46 L986.26,11.43 L986.65,11.40 L987.05,11.36 L987.44,11.33 L987.84,11.30 L988.23,11.27 L988.63,11.24 L989.02,11.21 L989.42,11.18 L989.81,11.15 L990.21,11.12 L990.60,11.09 L991.00,11.06 L991.39,11.04 L991.78,11.01 L992.18,10.98 L992.57,10.96 L992.97,10.93 L993.36,10.91 L993.76,10.88 L994.15,10.86 L994.55,10.84 L994.94,10.81 L995.34,10.79 L995.73,10.77 L996.12,10.75 L996.52,10.73 L996.91,10.70 L997.31,10.68 L997.70,10.66 L998.10,10.64 L998.49,10.62 L998.89,10.60 L999.28,10.59 L999.68,10.57 L1000.07,10.55 L1000.46,10.53 L1000.86,10.51 L1001.25,10.50 L1001.65,10.48 L1002.04,10.46 L1002.44,10.45 L1002.83,10.43 L1003.23,10.41 L1003.62,10.40 L1004.02,10.38 L1004.41,10.37 L1004.80,10.35 L1005.20,10.34 L1005.59,10.32 L1005.99,10.31 L1006.38,10.30 L1006.78,10.28 L1007.17,10.27 L1007.57,10.26 L1007.96,10.24 L1008.36,10.23 L1008.75,10.22 L1009.15,10.21 L1009.54,10.19 L1009.93,10.18 L1010.33,10.17 L1010.72,10.16 L1011.12,10.15 L1011.51,10.14 L1011.91,10.13 L1012.30,10.12 L1012.70,10.11 L1013.09,10.10 L1013.49,10.09 L1013.88,10.08 L1014.27,10.07 L1014.67,10.06 L1015.06,10.05 L1015.46,10.04 L1015.85,10.03 L1016.25,10.02 L1016.64,10.01 L1017.04,10.01 L1017.43,10.00 L1017.83,9.99 L1018.22,9.98 L1018.61,9.97 L1019.01,9.97 L1019.40,9.96 L1019.80,9.95 L1020.19,9.95 L1020.59,9.94 L1020.98,9.93 L1021.38,9.93 L1021.77,9.92 L1022.17,9.91 L1022.56,9.91 L1022.95,9.90 L1023.35,9.90 L1023.74,9.89 L1024.14,9.89 L1024.53,9.88 L1024.93,9.88 L1025.32,9.87 L1025.72,9.87 L1026.11,9.86 L1026.51,9.86 L1026.90,9.85 L1027.29,9.85 L1027.69,9.84 L1028.08,9.84 L1028.48,9.84 L1028.87,9.83 L1029.27,9.83 L1029.66,9.83 L1030.06,9.82 L1030.45,9.82 L1030.85,9.82 L1031.24,9.81 L1031.64,9.81 L1032.03,9.81 L1032.42,9.81 L1032.82,9.80 L1033.21,9.80 L1033.61,9.80 L1034.00,9.80 L1034.40,9.80 L1034.79,9.80 L1035.19,9.79 L1035.58,9.79 L1035.98,9.79 L1036.37,9.79 L1036.76,9.79 L1037.16,9.79 L1037.55,9.79 L1037.95,9.79 L1038.34,9.79 L1038.74,9.79 L1039.13,9.79 L1039.53,9.79 L1039.92,9.79 L1040.32,9.79 L1040.71,9.79 L1041.10,9.79 L1041.50,9.79 L1041.89,9.79 L1042.29,9.80 L1042.68,9.80 L1043.08,9.80 L1043.47,9.80 L1043.87,9.80 L1044.26,9.81 L1044.66,9.81 L1045.05,9.81 L1045.44,9.81 L1045.84,9.82 L1046.23,9.82 L1046.63,9.82 L1047.02,9.83 L1047.42,9.83 L1047.81,9.83 L1048.21,9.84 L1048.60,9.84 L1049.00,9.85 L1049.39,9.85 L1049.79,9.86 L1050.18,9.86 L1050.57,9.87 L1050.97,9.87 L1051.36,9.88 L1051.76,9.89 L1052.15,9.89 L1052.55,9.90 L1052.94,9.91 L1053.34,9.91 L1053.73,9.92 L1054.13,9.93 L1054.52,9.94 L1054.91,9.95 L1055.31,9.95 L1055.70,9.96 L1056.10,9.97 L1056.49,9.98 L1056.89,9.99 L1057.28,10.00 L1057.68,10.01 L1058.07,10.02 L1058.47,10.03 L1058.86,10.04 L1059.25,10.06 L1059.65,10.07 L1060.04,10.08 L1060.44,10.09 L1060.83,10.11 L1061.23,10.12 L1061.62,10.14 L1062.02,10.15 L1062.41,10.17 L1062.81,10.18 L1063.20,10.20 L1063.59,10.21 L1063.99,10.23 L1064.38,10.25 L1064.78,10.27 L1065.17,10.28 L1065.57,10.30 L1065.96,10.32 L1066.36,10.34 L1066.75,10.36 L1067.15,10.39 L1067.54,10.41 L1067.93,10.43 L1068.33,10.45 L1068.72,10.48 L1069.12,10.50 L1069.51,10.53 L1069.91,10.56 L1070.30,10.58 L1070.70,10.61 L1071.09,10.64 L1071.49,10.67 L1071.88,10.70 L1072.28,10.73 L1072.67,10.77 L1073.06,10.80 L1073.46,10.84 L1073.85,10.87 L1074.25,10.91 L1074.64,10.95 L1075.04,10.99 L1075.43,11.03 L1075.83,11.07 L1076.22,11.12 L1076.62,11.16 L1077.01,11.21 L1077.40,11.26 L1077.80,11.31 L1078.19,11.36 L1078.59,11.42 L1078.98,11.47 L1079.38,11.53 L1079.77,11.59 L1080.17,11.65 L1080.56,11.72 L1080.96,11.78 L1081.35,11.85 L1081.74,11.93 L1082.14,12.00 L1082.53,12.08 L1082.93,12.16 L1083.32,12.24 L1083.72,12.33 L1084.11,12.42 L1084.51,12.52 L1084.90,12.62 L1085.30,12.72 L1085.69,12.83 L1086.08,12.94 L1086.48,13.05 L1086.87,13.18 L1087.27,13.30 L1087.66,13.44 L1088.06,13.57 L1088.45,13.72 L1088.85,13.87 L1089.24,14.03 L1089.64,14.19 L1090.03,14.37 L1090.42,14.55 L1090.82,14.74 L1091.21,14.94 L1091.61,15.15 L1092.00,15.38 L1092.40,15.61 L1092.79,15.85 L1093.19,16.11 L1093.58,16.39 L1093.98,16.67 L1094.37,16.98 L1094.77,17.30 L1095.16,17.64 L1095.55,17.99 L1095.95,18.37 L1096.34,18.78 L1096.74,19.20 L1097.13,19.66 L1097.53,20.14 L1097.92,20.65 L1098.32,21.19 L1098.71,21.77 L1099.11,22.39 L1099.50,23.05 L1099.89,23.76 L1100.29,24.51 L1100.68,25.32 L1101.08,26.18 L1101.47,27.11 L1101.87,28.10 L1102.26,29.17 L1102.66,30.31 L1103.05,31.55 L1103.45,32.87 L1103.84,34.30 L1104.23,35.85 L1104.63,37.51 L1105.02,39.30 L1105.42,41.24 L1105.81,43.33 L1106.21,45.58 L1106.60,48.01 L1107.00,50.63 L1107.39,53.44 L1107.79,56.44 L1108.18,59.64 L1108.57,63.01 L1108.97,66.53 L1109.36,70.12 L1109.76,73.68 L1110.15,77.05 L1110.36,78.71 L1110.43,79.18 L1110.49,79.63 L1110.55,80.02 L1110.55,80.07 L1110.62,80.49 L1110.68,80.89 L1110.74,81.27 L1110.81,81.63 L1110.87,81.97 L1110.93,82.28 L1110.94,82.33 L1111.00,82.58 L1111.06,82.84 L1111.12,83.09 L1111.19,83.30 L1111.25,83.49 L1111.31,83.65 L1111.34,83.71 L1111.37,83.79 L1111.44,83.89 L1111.50,83.96 L1111.56,84.01 L1111.63,84.02 L1111.69,84.01 L1111.73,83.99 L1111.75,83.97 L1111.82,83.91 L1111.88,83.83 L1111.94,83.71 L1112.01,83.58 L1112.07,83.42 L1112.13,83.26 L1112.13,83.24 L1112.20,83.04 L1112.26,82.81 L1112.32,82.57 L1112.38,82.30 L1112.45,82.01 L1112.51,81.71 L1112.52,81.66 L1112.57,81.38 L1112.64,81.04 L1112.70,80.69 L1112.76,80.31 L1112.83,79.93 L1112.89,79.52 L1112.91,79.36 L1113.31,76.56 L1113.70,73.45 L1114.10,70.20 L1114.49,66.92 L1114.89,63.70 L1115.28,60.59 L1115.68,57.62 L1116.07,54.80 L1116.47,52.15 L1116.86,49.66 L1117.26,47.32 L1117.65,45.14 L1118.04,43.11 L1118.44,41.21 L1118.83,39.44 L1119.23,37.79 L1119.62,36.24 L1120.02,34.80 L1120.41,33.46 L1120.81,32.20 L1121.20,31.03 L1121.60,29.93 L1121.99,28.90 L1122.38,27.94 L1122.78,27.04 L1123.17,26.19 L1123.57,25.40 L1123.96,24.65 L1124.36,23.95 L1124.75,23.29 L1125.15,22.67 L1125.54,22.09 L1125.94,21.53 L1126.33,21.01 L1126.72,20.52 L1127.12,20.06 L1127.51,19.62 L1127.91,19.20 L1128.30,18.81 L1128.70,18.43 L1129.09,18.08 L1129.49,17.74 L1129.88,17.42 L1130.28,17.12 L1130.67,16.83 L1131.06,16.56 L1131.46,16.30 L1131.85,16.05 L1132.25,15.81 L1132.64,15.58 L1133.04,15.37 L1133.43,15.16 L1133.83,14.96 L1134.22,14.77 L1134.62,14.59 L1135.01,14.42 L1135.41,14.25 L1135.80,14.10 L1136.19,13.94 L1136.59,13.80 L1136.98,13.66 L1137.38,13.52 L1137.77,13.40 L1138.17,13.27 L1138.56,13.15 L1138.96,13.04 L1139.35,12.93 L1139.75,12.82 L1140.14,12.72 L1140.53,12.62 L1140.93,12.53 L1141.32,12.43 L1141.72,12.35 L1142.11,12.26 L1142.51,12.18 L1142.90,12.10 L1143.30,12.02 L1143.69,11.95 L1144.09,11.88 L1144.48,11.81 L1144.87,11.74 L1145.27,11.68 L1145.66,11.61 L1146.06,11.55 L1146.45,11.49 L1146.85,11.44 L1147.24,11.38 L1147.64,11.33 L1148.03,11.28 L1148.43,11.23 L1148.82,11.18 L1149.21,11.13 L1149.61,11.09 L1150.00,11.04 L1150.40,11.00 L1150.79,10.96 L1151.19,10.92 L1151.58,10.88 L1151.98,10.84 L1152.37,10.80 L1152.77,10.77 L1153.16,10.73 L1153.55,10.70 L1153.95,10.66 L1154.34,10.63 L1154.74,10.60 L1155.13,10.57 L1155.53,10.54 L1155.92,10.51 L1156.32,10.48 L1156.71,10.45 L1157.11,10.43 L1157.50,10.40 L1157.90,10.38 L1158.29,10.35 L1158.68,10.33 L1159.08,10.31 L1159.47,10.28 L1159.87,10.26 L1160.26,10.24 L1160.66,10.22 L1161.05,10.20 L1161.45,10.18 L1161.84,10.16 L1162.24,10.14 L1162.63,10.12 L1163.02,10.10 L1163.42,10.08 L1163.81,10.07 L1164.21,10.05 L1164.60,10.03 L1165.00,10.02 L1165.39,10.00 L1165.79,9.99 L1166.18,9.97 L1166.58,9.96 L1166.97,9.95 L1167.36,9.93 L1167.76,9.92 L1168.15,9.91 L1168.55,9.89 L1168.94,9.88 L1169.34,9.87 L1169.73,9.86 L1170.13,9.85 L1170.52,9.84 L1170.92,9.83 L1171.31,9.82 L1171.70,9.81 L1172.10,9.80 L1172.49,9.79 L1172.89,9.78 L1173.28,9.77 L1173.68,9.76 L1174.07,9.75 L1174.47,9.74 L1174.86,9.74 L1175.26,9.73 L1175.65,9.72 L1176.05,9.72 L1176.44,9.71 L1176.83,9.70 L1177.23,9.70 L1177.62,9.69 L1178.02,9.68 L1178.41,9.68 L1178.81,9.67 L1179.20,9.67 L1179.60,9.66 L1179.99,9.66 L1180.39,9.66 L1180.78,9.65 L1181.17,9.65 L1181.57,9.65 L1181.96,9.64 L1182.36,9.64 L1182.75,9.64 L1183.15,9.64 L1183.54,9.63 L1183.94,9.63 L1184.33,9.63 L1184.73,9.63 L1185.12,9.63 L1185.51,9.63 L1185.91,9.63 L1186.30,9.63 L1186.70,9.63 L1187.09,9.63 L1187.49,9.63 L1187.88,9.64 L1188.28,9.64 L1188.67,9.64 L1189.07,9.64 L1189.46,9.65 L1189.85,9.65 L1190.25,9.66 L1190.64,9.66 L1191.04,9.67 L1191.43,9.67 L1191.83,9.68 L1192.22,9.68 L1192.62,9.69 L1193.01,9.70 L1193.41,9.71 L1193.80,9.72 L1194.19,9.73 L1194.59,9.74 L1194.98,9.75 L1195.38,9.76 L1195.77,9.77 L1196.17,9.79 L1196.56,9.80 L1196.96,9.81 L1197.35,9.83 L1197.75,9.85 L1198.14,9.86 L1198.54,9.88 L1198.93,9.90 L1199.32,9.92 L1199.72,9.94 L1200.11,9.96 L1200.51,9.99 L1200.90,10.01 L1201.30,10.03 L1201.69,10.06 L1202.09,10.09 L1202.48,10.12 L1202.88,10.15 L1203.27,10.18 L1203.66,10.21 L1204.06,10.25 L1204.45,10.28 L1204.85,10.32 L1205.24,10.36 L1205.64,10.40 L1206.03,10.44 L1206.43,10.48 L1206.82,10.53 L1207.22,10.58 L1207.61,10.63 L1208.00,10.68 L1208.40,10.73 L1208.79,10.79 L1209.19,10.84 L1209.58,10.90 L1209.98,10.96 L1210.37,11.03 L1210.77,11.09 L1211.16,11.16 L1211.56,11.23 L1211.95,11.31 L1212.34,11.38 L1212.74,11.46 L1213.13,11.54 L1213.53,11.63 L1213.92,11.72 L1214.32,11.81 L1214.71,11.90 L1215.11,11.99 L1215.50,12.09 L1215.90,12.20 L1216.29,12.30 L1216.68,12.41 L1217.08,12.52 L1217.47,12.64 L1217.87,12.76 L1218.26,12.88 L1218.66,13.01 L1219.05,13.14 L1219.45,13.27 L1219.84,13.41 L1220.24,13.55 L1220.63,13.69 L1221.03,13.84 L1221.42,14.00 L1221.81,14.15 L1222.21,14.31 L1222.60,14.48 L1223.00,14.65 L1223.39,14.82 L1223.79,15.00 L1224.18,15.19 L1224.58,15.37 L1224.97,15.57 L1225.37,15.76 L1225.76,15.96 L1226.15,16.17 L1226.55,16.38 L1226.94,16.59 L1227.34,16.81 L1227.73,17.04 L1228.13,17.27 L1228.52,17.50 L1228.92,17.74 L1229.31,17.98 L1229.71,18.23 L1230.10,18.49 L1230.49,18.74 L1230.89,19.01 L1231.28,19.27 L1231.68,19.55 L1232.07,19.82 L1232.47,20.11 L1232.86,20.39 L1233.26,20.69 L1233.65,20.98 L1234.05,21.29 L1234.44,21.59 L1234.83,21.90 L1235.23,22.22 L1235.62,22.54 L1236.02,22.86 L1236.41,23.19 L1236.81,23.53 L1237.20,23.87 L1237.60,24.21 L1237.99,24.56 L1238.39,24.91 L1238.78,25.27 L1239.17,25.63 L1239.57,26.00 L1239.96,26.37 L1240.36,26.74 L1240.75,27.12 L1241.15,27.50 L1241.54,27.89 L1241.94,28.28 L1242.33,28.67 L1242.73,29.07 L1243.12,29.48 L1243.52,29.88 L1243.91,30.30 L1244.30,30.71 L1244.70,31.13 L1245.09,31.55 L1245.49,31.98 L1245.88,32.41 L1246.28,32.85 L1246.67,33.29 L1247.07,33.74 L1247.46,34.19 L1247.86,34.64 L1248.25,35.10 L1248.64,35.56 L1249.04,36.03 L1249.43,36.51 L1249.83,36.99 L1250.22,37.47 L1250.62,37.97 L1251.01,38.47 L1251.41,38.97 L1251.80,39.49 L1252.20,40.01 L1252.59,40.54 L1252.98,41.08 L1253.38,41.63 L1253.77,42.19 L1254.17,42.77 L1254.56,43.35 L1254.96,43.95 L1255.35,44.57 L1255.75,45.20 L1256.14,45.85 L1256.54,46.52 L1256.93,47.20 L1257.32,47.92 L1257.72,48.66 L1258.11,49.42 L1258.51,50.22 L1258.90,51.05 L1259.30,51.91 L1259.69,52.82 L1260.09,53.76 L1260.48,54.76 L1260.88,55.81 L1261.27,56.92 L1261.67,58.09 L1262.06,59.33 L1262.45,60.65 L1262.85,62.06 L1263.24,63.56 L1263.64,65.17 L1264.03,66.90 L1264.43,68.76 L1264.82,70.77 L1265.22,72.95 L1265.61,75.31 L1266.01,77.88 L1266.40,80.70 L1266.79,83.79 L1267.19,87.20 L1267.58,90.99 L1267.98,95.21 L1268.37,99.96 L1268.77,105.36 L1269.16,111.56 L1269.56,118.79 L1269.95,127.40 L1270.35,137.96 L1270.74,151.48 L1270.77,152.49 L1270.83,155.10 L1270.89,157.85 L1270.95,160.77 L1271.02,163.86 L1271.08,167.15 L1271.13,170.13 L1271.14,170.67 L1271.21,174.46 L1271.27,178.55 L1271.33,182.99 L1271.40,187.85 L1271.46,193.22 L1271.52,199.21 L1271.53,199.85 L1271.59,205.98 L1271.65,213.75 L1271.71,222.85 L1271.78,233.81 L1271.84,247.47 L1271.90,265.25 L1271.92,272.77 L1271.96,288.46 L1272.03,305.55 L1272.09,289.40 L1272.15,266.79 L1272.22,249.20 L1272.28,235.60 L1272.32,228.77 L1272.34,224.65 L1272.41,215.53 L1272.47,207.74 L1272.53,200.94 L1272.60,194.92 L1272.66,189.52 L1272.71,185.33 L1272.72,184.62 L1272.79,180.14 L1272.85,176.02 L1272.91,172.19 L1272.97,168.63 L1273.04,165.30 L1273.10,162.17 L1273.11,161.87 L1273.16,159.22 L1273.23,156.43 L1273.29,153.78 L1273.50,145.79 L1273.90,133.59 L1274.29,123.78 L1274.69,115.62 L1275.08,108.65 L1275.47,102.59 L1275.87,97.25 L1276.26,92.50 L1276.66,88.23 L1277.05,84.36 L1277.45,80.85 L1277.84,77.63 L1278.24,74.68 L1278.63,71.95 L1279.03,69.43 L1279.42,67.09 L1279.81,64.91 L1280.21,62.88 L1280.60,60.98 L1281.00,59.19 L1281.39,57.51 L1281.79,55.93 L1282.18,54.44 L1282.58,53.02 L1282.97,51.68 L1283.37,50.41 L1283.76,49.20 L1284.16,48.05 L1284.55,46.94 L1284.94,45.89 L1285.34,44.88 L1285.73,43.92 L1286.13,42.99 L1286.52,42.10 L1286.92,41.24 L1287.31,40.41 L1287.71,39.61 L1288.10,38.84 L1288.50,38.09 L1288.89,37.37 L1289.28,36.67 L1289.68,35.99 L1290.07,35.33 L1290.47,34.69 L1290.86,34.07 L1291.26,33.47 L1291.65,32.88 L1292.05,32.30 L1292.44,31.75 L1292.84,31.20 L1293.23,30.67 L1293.62,30.15 L1294.02,29.65 L1294.41,29.15 L1294.81,28.67 L1295.20,28.20 L1295.60,27.74 L1295.99,27.29 L1296.39,26.85 L1296.78,26.42 L1297.18,26.00 L1297.57,25.59 L1297.96,25.19 L1298.36,24.80 L1298.75,24.42 L1299.15,24.04 L1299.54,23.67 L1299.94,23.32 L1300.33,22.97 L1300.73,22.62 L1301.12,22.29 L1301.52,21.96 L1301.91,21.64 L1302.31,21.33 L1302.70,21.03 L1303.09,20.73 L1303.49,20.44 L1303.88,20.15 L1304.28,19.87 L1304.67,19.60 L1305.07,19.34 L1305.46,19.08 L1305.86,18.83 L1306.25,18.58 L1306.65,18.35 L1307.04,18.11 L1307.43,17.89 L1307.83,17.66 L1308.22,17.45 L1308.62,17.24 L1309.01,17.03 L1309.41,16.83 L1309.80,16.64 L1310.20,16.45 L1310.59,16.27 L1310.99,16.09 L1311.38,15.92 L1311.77,15.75 L1312.17,15.59 L1312.56,15.43 L1312.96,15.27 L1313.35,15.12 L1313.75,14.98 L1314.14,14.84 L1314.54,14.70 L1314.93,14.57 L1315.33,14.44 L1315.72,14.32 L1316.11,14.20 L1316.51,14.08 L1316.90,13.97 L1317.30,13.86 L1317.69,13.75 L1318.09,13.65 L1318.48,13.55 L1318.88,13.46 L1319.27,13.37 L1319.67,13.28 L1320.06,13.19 L1320.45,13.11 L1320.85,13.03 L1321.24,12.95 L1321.64,12.88 L1322.03,12.81 L1322.43,12.74 L1322.82,12.68 L1323.22,12.61 L1323.61,12.55 L1324.01,12.49 L1324.40,12.44 L1324.80,12.38 L1325.19,12.33 L1325.58,12.28 L1325.98,12.23 L1326.37,12.19 L1326.77,12.14 L1327.16,12.10 L1327.56,12.06 L1327.95,12.02 L1328.35,11.99 L1328.74,11.95 L1329.14,11.92 L1329.53,11.88 L1329.92,11.85 L1330.32,11.82 L1330.71,11.80 L1331.11,11.77 L1331.50,11.74 L1331.90,11.72 L1332.29,11.70 L1332.69,11.68 L1333.08,11.66 L1333.48,11.64 L1333.87,11.62 L1334.26,11.60 L1334.66,11.58 L1335.05,11.57 L1335.45,11.55 L1335.84,11.54 L1336.24,11.53 L1336.63,11.51 L1337.03,11.50 L1337.42,11.49 L1337.82,11.48 L1338.21,11.47 L1338.60,11.46 L1339.00,11.45 L1339.39,11.45 L1339.79,11.44 L1340.18,11.43 L1340.58,11.43 L1340.97,11.42 L1341.37,11.42 L1341.76,11.41 L1342.16,11.41 L1342.55,11.40 L1342.94,11.40 L1343.34,11.40 L1343.73,11.39 L1344.13,11.39 L1344.52,11.39 L1344.92,11.39 L1345.31,11.39 L1345.71,11.38 L1346.10,11.38 L1346.50,11.38 L1346.89,11.38 L1347.29,11.38 L1347.68,11.38 L1348.07,11.38 L1348.47,11.38 L1348.86,11.38 L1349.26,11.38 L1349.65,11.38 L1350.05,11.38 L1350.44,11.38 L1350.84,11.38 L1351.23,11.39 L1351.63,11.39 L1352.02,11.39 L1352.41,11.39 L1352.81,11.39 L1353.20,11.39 L1353.60,11.39 L1353.99,11.40 L1354.39,11.40 L1354.78,11.40 L1355.18,11.40 L1355.57,11.40 L1355.97,11.40 L1356.36,11.41 L1356.75,11.41 L1357.15,11.41 L1357.54,11.41 L1357.94,11.41 L1358.33,11.42 L1358.73,11.42 L1359.12,11.42 L1359.52,11.42 L1359.91,11.42 L1360.31,11.42 L1360.70,11.43 L1361.09,11.43 L1361.49,11.43 L1361.88,11.43 L1362.28,11.43 L1362.67,11.43 L1363.07,11.44 L1363.46,11.44 L1363.86,11.44 L1364.25,11.44 L1364.65,11.44 L1365.04,11.44 L1365.43,11.44 L1365.83,11.44 L1366.22,11.45 L1366.62,11.45 L1367.01,11.45 L1367.41,11.45 L1367.80,11.45 L1368.20,11.45 L1368.59,11.45 L1368.99,11.45 L1369.38,11.45 L1369.78,11.45 L1370.17,11.45 L1370.56,11.45 L1370.96,11.45 L1371.35,11.45 L1371.75,11.45 L1372.14,11.45 L1372.54,11.45 L1372.93,11.45 L1373.33,11.45 L1373.72,11.45 L1374.12,11.45 L1374.51,11.45 L1374.90,11.45 L1375.30,11.45 L1375.69,11.45 L1376.09,11.45 L1376.48,11.44 L1376.88,11.44 L1377.27,11.44 L1377.67,11.44 L1378.06,11.44 L1378.46,11.44 L1378.85,11.44 L1379.24,11.43 L1379.64,11.43 L1380.03,11.43 L1380.43,11.43 L1380.82,11.42 L1381.22,11.42 L1381.61,11.42 L1382.01,11.42 L1382.40,11.41 L1382.80,11.41 L1383.19,11.41 L1383.58,11.41 L1383.98,11.40 L1384.37,11.40 L1384.77,11.40 L1385.16,11.39 L1385.56,11.39 L1385.95,11.38 L1386.35,11.38 L1386.74,11.38 L1387.14,11.37 L1387.53,11.37 L1387.93,11.36 L1388.32,11.36 L1388.71,11.35 L1389.11,11.35 L1389.50,11.35 L1389.90,11.34 L1390.29,11.34 L1390.69,11.33 L1391.08,11.33 L1391.48,11.32 L1391.87,11.31 L1392.27,11.31 L1392.66,11.30 L1393.05,11.30 L1393.45,11.29 L1393.84,11.29 L1394.24,11.28 L1394.63,11.27 L1395.03,11.27 L1395.42,11.26 L1395.82,11.25 L1396.21,11.25 L1396.61,11.24 L1397.00,11.23" stroke="#000" stroke-width="3.4" fill="none" stroke-dasharray="6 2.4"/>
<path d="M765.70,8.64 L766.09,8.64 L766.49,8.64 L766.88,8.65 L767.28,8.65 L767.67,8.65 L768.07,8.65 L768.46,8.65 L768.86,8.65 L769.25,8.65 L769.65,8.66 L770.04,8.66 L770.43,8.66 L770.83,8.66 L771.22,8.66 L771.62,8.66 L772.01,8.67 L772.41,8.67 L772.80,8.67 L773.20,8.67 L773.59,8.67 L773.99,8.67 L774.38,8.68 L774.77,8.68 L775.17,8.68 L775.56,8.68 L775.96,8.68 L776.35,8.69 L776.75,8.69 L777.14,8.69 L777.54,8.69 L777.93,8.69 L778.33,8.70 L778.72,8.70 L779.12,8.70 L779.51,8.70 L779.90,8.70 L780.30,8.70 L780.69,8.71 L781.09,8.71 L781.48,8.71 L781.88,8.71 L782.27,8.72 L782.67,8.72 L783.06,8.72 L783.46,8.72 L783.85,8.72 L784.24,8.73 L784.64,8.73 L785.03,8.73 L785.43,8.73 L785.82,8.74 L786.22,8.74 L786.61,8.74 L787.01,8.74 L787.40,8.74 L787.80,8.75 L788.19,8.75 L788.58,8.75 L788.98,8.75 L789.37,8.76 L789.77,8.76 L790.16,8.76 L790.56,8.76 L790.95,8.77 L791.35,8.77 L791.74,8.77 L792.14,8.77 L792.53,8.78 L792.92,8.78 L793.32,8.78 L793.71,8.79 L794.11,8.79 L794.50,8.79 L794.90,8.79 L795.29,8.80 L795.69,8.80 L796.08,8.80 L796.48,8.81 L796.87,8.81 L797.27,8.81 L797.66,8.82 L798.05,8.82 L798.45,8.82 L798.84,8.82 L799.24,8.83 L799.63,8.83 L800.03,8.83 L800.42,8.84 L800.82,8.84 L801.21,8.84 L801.61,8.85 L802.00,8.85 L802.39,8.85 L802.79,8.86 L803.18,8.86 L803.58,8.87 L803.97,8.87 L804.37,8.87 L804.76,8.88 L805.16,8.88 L805.55,8.88 L805.95,8.89 L806.34,8.89 L806.73,8.90 L807.13,8.90 L807.52,8.90 L807.92,8.91 L808.31,8.91 L808.71,8.92 L809.10,8.92 L809.50,8.92 L809.89,8.93 L810.29,8.93 L810.68,8.94 L811.07,8.94 L811.47,8.95 L811.86,8.95 L812.26,8.96 L812.65,8.96 L813.05,8.97 L813.44,8.97 L813.84,8.98 L814.23,8.98 L814.63,8.99 L815.02,8.99 L815.41,9.00 L815.81,9.00 L816.20,9.01 L816.60,9.01 L816.99,9.02 L817.39,9.02 L817.78,9.03 L818.18,9.03 L818.57,9.04 L818.97,9.05 L819.36,9.05 L819.76,9.06 L820.15,9.06 L820.54,9.07 L820.94,9.08 L821.33,9.08 L821.73,9.09 L822.12,9.09 L822.52,9.10 L822.91,9.11 L823.31,9.11 L823.70,9.12 L824.10,9.13 L824.49,9.13 L824.88,9.14 L825.28,9.15 L825.67,9.16 L826.07,9.16 L826.46,9.17 L826.86,9.18 L827.25,9.19 L827.65,9.19 L828.04,9.20 L828.44,9.21 L828.83,9.22 L829.22,9.23 L829.62,9.24 L830.01,9.24 L830.41,9.25 L830.80,9.26 L831.20,9.27 L831.59,9.28 L831.99,9.29 L832.38,9.30 L832.78,9.31 L833.17,9.32 L833.56,9.33 L833.96,9.34 L834.35,9.35 L834.75,9.36 L835.14,9.37 L835.54,9.38 L835.93,9.39 L836.33,9.40 L836.72,9.41 L837.12,9.43 L837.51,9.44 L837.90,9.45 L838.30,9.46 L838.69,9.47 L839.09,9.49 L839.48,9.50 L839.88,9.51 L840.27,9.53 L840.67,9.54 L841.06,9.55 L841.46,9.57 L841.85,9.58 L842.25,9.60 L842.64,9.61 L843.03,9.63 L843.43,9.64 L843.82,9.66 L844.22,9.67 L844.61,9.69 L845.01,9.71 L845.40,9.72 L845.80,9.74 L846.19,9.76 L846.59,9.78 L846.98,9.79 L847.37,9.81 L847.77,9.83 L848.16,9.85 L848.56,9.87 L848.95,9.89 L849.35,9.91 L849.74,9.93 L850.14,9.95 L850.53,9.98 L850.93,10.00 L851.32,10.02 L851.71,10.05 L852.11,10.07 L852.50,10.09 L852.90,10.12 L853.29,10.15 L853.69,10.17 L854.08,10.20 L854.48,10.23 L854.87,10.25 L855.27,10.28 L855.66,10.31 L856.05,10.34 L856.45,10.37 L856.84,10.41 L857.24,10.44 L857.63,10.47 L858.03,10.51 L858.42,10.54 L858.82,10.58 L859.21,10.61 L859.61,10.65 L860.00,10.69 L860.40,10.73 L860.79,10.77 L861.18,10.81 L861.58,10.86 L861.97,10.90 L862.37,10.95 L862.76,10.99 L863.16,11.04 L863.55,11.09 L863.95,11.14 L864.34,11.19 L864.74,11.25 L865.13,11.30 L865.52,11.36 L865.92,11.42 L866.31,11.48 L866.71,11.54 L867.10,11.61 L867.50,11.67 L867.89,11.74 L868.29,11.81 L868.68,11.89 L869.08,11.96 L869.47,12.04 L869.86,12.12 L870.26,12.20 L870.65,12.29 L871.05,12.38 L871.44,12.47 L871.84,12.56 L872.23,12.66 L872.63,12.76 L873.02,12.87 L873.42,12.98 L873.81,13.09 L874.20,13.21 L874.60,13.33 L874.99,13.46 L875.39,13.59 L875.78,13.72 L876.18,13.87 L876.57,14.01 L876.97,14.17 L877.36,14.33 L877.76,14.49 L878.15,14.67 L878.54,14.85 L878.94,15.04 L879.33,15.23 L879.73,15.44 L880.12,15.65 L880.52,15.88 L880.91,16.11 L881.31,16.36 L881.70,16.62 L882.10,16.88 L882.49,17.17 L882.89,17.46 L883.28,17.77 L883.67,18.10 L884.07,18.44 L884.46,18.80 L884.86,19.18 L885.25,19.58 L885.65,20.00 L886.04,20.44 L886.44,20.91 L886.83,21.41 L887.23,21.93 L887.62,22.48 L888.01,23.07 L888.41,23.69 L888.80,24.34 L889.20,25.04 L889.59,25.78 L889.99,26.57 L890.38,27.40 L890.78,28.29 L891.17,29.24 L891.57,30.26 L891.96,31.34 L892.35,32.49 L892.75,33.73 L893.14,35.06 L893.54,36.48 L893.93,38.00 L894.33,39.64 L894.72,41.40 L895.12,43.30 L895.51,45.35 L895.91,47.56 L896.30,49.95 L896.69,52.55 L897.09,55.36 L897.48,58.42 L897.88,61.74 L898.27,65.37 L898.67,69.33 L899.06,73.64 L899.46,78.34 L899.85,83.45 L900.25,88.93 L900.64,94.71 L901.03,100.59 L901.13,101.97 L901.19,102.88 L901.26,103.77 L901.32,104.64 L901.38,105.50 L901.43,106.12 L901.45,106.33 L901.51,107.13 L901.57,107.90 L901.63,108.64 L901.70,109.34 L901.76,109.99 L901.82,110.60 L901.89,111.16 L901.95,111.66 L902.01,112.10 L902.08,112.48 L902.14,112.80 L902.20,113.05 L902.22,113.10 L902.27,113.23 L902.33,113.33 L902.39,113.37 L902.46,113.34 L902.52,113.23 L902.58,113.06 L902.61,112.95 L902.64,112.82 L902.71,112.51 L902.77,112.14 L902.83,111.71 L902.90,111.23 L902.96,110.69 L903.01,110.25 L903.02,110.10 L903.09,109.46 L903.15,108.78 L903.21,108.06 L903.28,107.31 L903.34,106.53 L903.40,105.72 L903.47,104.88 L903.53,104.02 L903.59,103.15 L903.65,102.26 L903.80,100.22 L904.19,94.44 L904.59,88.76 L904.98,83.37 L905.38,78.35 L905.77,73.73 L906.16,69.47 L906.56,65.57 L906.95,61.99 L907.35,58.70 L907.74,55.67 L908.14,52.88 L908.53,50.31 L908.93,47.93 L909.32,45.73 L909.72,43.69 L910.11,41.80 L910.50,40.05 L910.90,38.41 L911.29,36.89 L911.69,35.47 L912.08,34.15 L912.48,32.91 L912.87,31.76 L913.27,30.67 L913.66,29.66 L914.06,28.71 L914.45,27.81 L914.84,26.97 L915.24,26.19 L915.63,25.44 L916.03,24.74 L916.42,24.08 L916.82,23.46 L917.21,22.87 L917.61,22.32 L918.00,21.79 L918.40,21.30 L918.79,20.83 L919.18,20.38 L919.58,19.96 L919.97,19.56 L920.37,19.18 L920.76,18.81 L921.16,18.47 L921.55,18.14 L921.95,17.83 L922.34,17.53 L922.74,17.25 L923.13,16.98 L923.53,16.72 L923.92,16.48 L924.31,16.24 L924.71,16.02 L925.10,15.80 L925.50,15.60 L925.89,15.40 L926.29,15.21 L926.68,15.03 L927.08,14.86 L927.47,14.69 L927.87,14.53 L928.26,14.38 L928.65,14.24 L929.05,14.09 L929.44,13.96 L929.84,13.83 L930.23,13.70 L930.63,13.58 L931.02,13.47 L931.42,13.36 L931.81,13.25 L932.21,13.15 L932.60,13.05 L932.99,12.95 L933.39,12.86 L933.78,12.77 L934.18,12.68 L934.57,12.60 L934.97,12.52 L935.36,12.44 L935.76,12.37 L936.15,12.29 L936.55,12.22 L936.94,12.16 L937.33,12.09 L937.73,12.03 L938.12,11.97 L938.52,11.91 L938.91,11.85 L939.31,11.80 L939.70,11.74 L940.10,11.69 L940.49,11.64 L940.89,11.59 L941.28,11.55 L941.67,11.50 L942.07,11.46 L942.46,11.41 L942.86,11.37 L943.25,11.33 L943.65,11.29 L944.04,11.26 L944.44,11.22 L944.83,11.19 L945.23,11.15 L945.62,11.12 L946.02,11.09 L946.41,11.06 L946.80,11.03 L947.20,11.00 L947.59,10.97 L947.99,10.94 L948.38,10.92 L948.78,10.89 L949.17,10.87 L949.57,10.84 L949.96,10.82 L950.36,10.80 L950.75,10.77 L951.14,10.75 L951.54,10.73 L951.93,10.71 L952.33,10.70 L952.72,10.68 L953.12,10.66 L953.51,10.64 L953.91,10.63 L954.30,10.61 L954.70,10.60 L955.09,10.58 L955.48,10.57 L955.88,10.55 L956.27,10.54 L956.67,10.53 L957.06,10.52 L957.46,10.51 L957.85,10.50 L958.25,10.49 L958.64,10.48 L959.04,10.47 L959.43,10.46 L959.82,10.45 L960.22,10.44 L960.61,10.44 L961.01,10.43 L961.40,10.42 L961.80,10.42 L962.19,10.41 L962.59,10.41 L962.98,10.40 L963.38,10.40 L963.77,10.39 L964.16,10.39 L964.56,10.39 L964.95,10.38 L965.35,10.38 L965.74,10.38 L966.14,10.38 L966.53,10.38 L966.93,10.38 L967.32,10.38 L967.72,10.38 L968.11,10.38 L968.51,10.38 L968.90,10.38 L969.29,10.38 L969.69,10.39 L970.08,10.39 L970.48,10.39 L970.87,10.40 L971.27,10.40 L971.66,10.40 L972.06,10.41 L972.45,10.42 L972.85,10.42 L973.24,10.43 L973.63,10.43 L974.03,10.44 L974.42,10.45 L974.82,10.46 L975.21,10.47 L975.61,10.48 L976.00,10.48 L976.40,10.49 L976.79,10.51 L977.19,10.52 L977.58,10.53 L977.97,10.54 L978.37,10.55 L978.76,10.57 L979.16,10.58 L979.55,10.59 L979.95,10.61 L980.34,10.62 L980.74,10.64 L981.13,10.66 L981.53,10.67 L981.92,10.69 L982.31,10.71 L982.71,10.73 L983.10,10.75 L983.50,10.77 L983.89,10.79 L984.29,10.81 L984.68,10.84 L985.08,10.86 L985.47,10.88 L985.87,10.91 L986.26,10.94 L986.65,10.96 L987.05,10.99 L987.44,11.02 L987.84,11.05 L988.23,11.08 L988.63,11.11 L989.02,11.14 L989.42,11.18 L989.81,11.21 L990.21,11.25 L990.60,11.28 L991.00,11.32 L991.39,11.36 L991.78,11.40 L992.18,11.44 L992.57,11.49 L992.97,11.53 L993.36,11.58 L993.76,11.63 L994.15,11.68 L994.55,11.73 L994.94,11.78 L995.34,11.83 L995.73,11.89 L996.12,11.95 L996.52,12.01 L996.91,12.07 L997.31,12.14 L997.70,12.20 L998.10,12.27 L998.49,12.34 L998.89,12.42 L999.28,12.50 L999.68,12.57 L1000.07,12.66 L1000.46,12.74 L1000.86,12.83 L1001.25,12.92 L1001.65,13.02 L1002.04,13.12 L1002.44,13.22 L1002.83,13.33 L1003.23,13.44 L1003.62,13.55 L1004.02,13.67 L1004.41,13.80 L1004.80,13.93 L1005.20,14.06 L1005.59,14.20 L1005.99,14.35 L1006.38,14.50 L1006.78,14.66 L1007.17,14.82 L1007.57,15.00 L1007.96,15.18 L1008.36,15.36 L1008.75,15.56 L1009.15,15.77 L1009.54,15.98 L1009.93,16.21 L1010.33,16.44 L1010.72,16.69 L1011.12,16.95 L1011.51,17.22 L1011.91,17.50 L1012.30,17.80 L1012.70,18.12 L1013.09,18.45 L1013.49,18.80 L1013.88,19.16 L1014.27,19.55 L1014.67,19.95 L1015.06,20.38 L1015.46,20.84 L1015.85,21.32 L1016.25,21.82 L1016.64,22.36 L1017.04,22.93 L1017.43,23.53 L1017.83,24.17 L1018.22,24.85 L1018.61,25.57 L1019.01,26.33 L1019.40,27.15 L1019.80,28.02 L1020.19,28.95 L1020.59,29.94 L1020.98,31.00 L1021.38,32.14 L1021.77,33.36 L1022.17,34.67 L1022.56,36.07 L1022.95,37.58 L1023.35,39.21 L1023.74,40.97 L1024.14,42.87 L1024.53,44.93 L1024.93,47.17 L1025.32,49.60 L1025.72,52.25 L1026.11,55.16 L1026.51,58.35 L1026.90,61.87 L1027.29,65.76 L1027.69,70.10 L1028.08,74.96 L1028.48,80.46 L1028.87,86.73 L1029.27,94.00 L1029.66,102.54 L1030.06,112.78 L1030.40,123.61 L1030.45,125.38 L1030.46,125.83 L1030.53,128.14 L1030.59,130.53 L1030.65,133.01 L1030.72,135.58 L1030.78,138.25 L1030.84,141.01 L1030.85,141.16 L1030.91,143.87 L1030.97,146.81 L1031.03,149.82 L1031.10,152.89 L1031.16,155.99 L1031.22,159.06 L1031.24,159.98 L1031.28,162.07 L1031.35,164.91 L1031.41,167.50 L1031.47,169.71 L1031.54,171.41 L1031.60,172.49 L1031.64,172.78 L1031.66,172.86 L1031.73,172.40 L1031.79,171.06 L1031.85,168.98 L1031.92,166.33 L1031.98,163.27 L1032.03,160.64 L1032.04,159.97 L1032.11,156.55 L1032.17,153.09 L1032.23,149.66 L1032.29,146.30 L1032.36,143.04 L1032.42,139.89 L1032.42,139.73 L1032.48,136.85 L1032.55,133.93 L1032.61,131.13 L1032.67,128.44 L1032.74,125.85 L1032.80,123.37 L1032.82,122.65 L1032.86,120.99 L1032.93,118.71 L1033.21,109.33 L1033.61,98.66 L1034.00,89.86 L1034.40,82.44 L1034.79,76.08 L1035.19,70.54 L1035.58,65.67 L1035.98,61.35 L1036.37,57.50 L1036.76,54.04 L1037.16,50.91 L1037.55,48.08 L1037.95,45.51 L1038.34,43.17 L1038.74,41.02 L1039.13,39.06 L1039.53,37.25 L1039.92,35.59 L1040.32,34.06 L1040.71,32.65 L1041.10,31.34 L1041.50,30.13 L1041.89,29.01 L1042.29,27.97 L1042.68,26.99 L1043.08,26.09 L1043.47,25.25 L1043.87,24.46 L1044.26,23.72 L1044.66,23.04 L1045.05,22.39 L1045.44,21.79 L1045.84,21.22 L1046.23,20.68 L1046.63,20.18 L1047.02,19.71 L1047.42,19.26 L1047.81,18.84 L1048.21,18.45 L1048.60,18.07 L1049.00,17.72 L1049.39,17.38 L1049.79,17.06 L1050.18,16.76 L1050.57,16.47 L1050.97,16.20 L1051.36,15.95 L1051.76,15.70 L1052.15,15.47 L1052.55,15.24 L1052.94,15.03 L1053.34,14.83 L1053.73,14.64 L1054.13,14.45 L1054.52,14.28 L1054.91,14.11 L1055.31,13.95 L1055.70,13.80 L1056.10,13.65 L1056.49,13.51 L1056.89,13.37 L1057.28,13.24 L1057.68,13.12 L1058.07,13.00 L1058.47,12.88 L1058.86,12.77 L1059.25,12.67 L1059.65,12.57 L1060.04,12.47 L1060.44,12.37 L1060.83,12.28 L1061.23,12.20 L1061.62,12.11 L1062.02,12.03 L1062.41,11.95 L1062.81,11.88 L1063.20,11.80 L1063.59,11.73 L1063.99,11.66 L1064.38,11.60 L1064.78,11.54 L1065.17,11.47 L1065.57,11.41 L1065.96,11.36 L1066.36,11.30 L1066.75,11.25 L1067.15,11.19 L1067.54,11.14 L1067.93,11.10 L1068.33,11.05 L1068.72,11.00 L1069.12,10.96 L1069.51,10.91 L1069.91,10.87 L1070.30,10.83 L1070.70,10.79 L1071.09,10.75 L1071.49,10.72 L1071.88,10.68 L1072.28,10.64 L1072.67,10.61 L1073.06,10.58 L1073.46,10.54 L1073.85,10.51 L1074.25,10.48 L1074.64,10.45 L1075.04,10.42 L1075.43,10.39 L1075.83,10.37 L1076.22,10.34 L1076.62,10.31 L1077.01,10.29 L1077.40,10.26 L1077.80,10.24 L1078.19,10.22 L1078.59,10.19 L1078.98,10.17 L1079.38,10.15 L1079.77,10.13 L1080.17,10.11 L1080.56,10.09 L1080.96,10.07 L1081.35,10.05 L1081.74,10.03 L1082.14,10.01 L1082.53,9.99 L1082.93,9.98 L1083.32,9.96 L1083.72,9.94 L1084.11,9.93 L1084.51,9.91 L1084.90,9.89 L1085.30,9.88 L1085.69,9.86 L1086.08,9.85 L1086.48,9.84 L1086.87,9.82 L1087.27,9.81 L1087.66,9.80 L1088.06,9.78 L1088.45,9.77 L1088.85,9.76 L1089.24,9.75 L1089.64,9.73 L1090.03,9.72 L1090.42,9.71 L1090.82,9.70 L1091.21,9.69 L1091.61,9.68 L1092.00,9.67 L1092.40,9.66 L1092.79,9.65 L1093.19,9.64 L1093.58,9.63 L1093.98,9.62 L1094.37,9.61 L1094.77,9.60 L1095.16,9.60 L1095.55,9.59 L1095.95,9.58 L1096.34,9.57 L1096.74,9.56 L1097.13,9.56 L1097.53,9.55 L1097.92,9.54 L1098.32,9.53 L1098.71,9.53 L1099.11,9.52 L1099.50,9.51 L1099.89,9.51 L1100.29,9.50 L1100.68,9.49 L1101.08,9.49 L1101.47,9.48 L1101.87,9.48 L1102.26,9.47 L1102.66,9.46 L1103.05,9.46 L1103.45,9.45 L1103.84,9.45 L1104.23,9.44 L1104.63,9.44 L1105.02,9.43 L1105.42,9.43 L1105.81,9.42 L1106.21,9.42 L1106.60,9.42 L1107.00,9.41 L1107.39,9.41 L1107.79,9.40 L1108.18,9.40 L1108.57,9.39 L1108.97,9.39 L1109.36,9.39 L1109.76,9.38 L1110.15,9.38 L1110.55,9.38 L1110.94,9.37 L1111.34,9.37 L1111.73,9.37 L1112.13,9.36 L1112.52,9.36 L1112.91,9.36 L1113.31,9.36 L1113.70,9.35 L1114.10,9.35 L1114.49,9.35 L1114.89,9.35 L1115.28,9.34 L1115.68,9.34 L1116.07,9.34 L1116.47,9.34 L1116.86,9.33 L1117.26,9.33 L1117.65,9.33 L1118.04,9.33 L1118.44,9.33 L1118.83,9.33 L1119.23,9.32 L1119.62,9.32 L1120.02,9.32 L1120.41,9.32 L1120.81,9.32 L1121.20,9.32 L1121.60,9.32 L1121.99,9.31 L1122.38,9.31 L1122.78,9.31 L1123.17,9.31 L1123.57,9.31 L1123.96,9.31 L1124.36,9.31 L1124.75,9.31 L1125.15,9.31 L1125.54,9.31 L1125.94,9.31 L1126.33,9.31 L1126.72,9.31 L1127.12,9.31 L1127.51,9.31 L1127.91,9.31 L1128.30,9.31 L1128.70,9.31 L1129.09,9.31 L1129.49,9.31 L1129.88,9.31 L1130.28,9.31 L1130.67,9.31 L1131.06,9.31 L1131.46,9.31 L1131.85,9.31 L1132.25,9.31 L1132.64,9.31 L1133.04,9.31 L1133.43,9.31 L1133.83,9.31 L1134.22,9.31 L1134.62,9.31 L1135.01,9.31 L1135.41,9.31 L1135.80,9.31 L1136.19,9.31 L1136.59,9.32 L1136.98,9.32 L1137.38,9.32 L1137.77,9.32 L1138.17,9.32 L1138.56,9.32 L1138.96,9.32 L1139.35,9.33 L1139.75,9.33 L1140.14,9.33 L1140.53,9.33 L1140.93,9.33 L1141.32,9.33 L1141.72,9.34 L1142.11,9.34 L1142.51,9.34 L1142.90,9.34 L1143.30,9.34 L1143.69,9.34 L1144.09,9.35 L1144.48,9.35 L1144.87,9.35 L1145.27,9.35 L1145.66,9.36 L1146.06,9.36 L1146.45,9.36 L1146.85,9.36 L1147.24,9.37 L1147.64,9.37 L1148.03,9.37 L1148.43,9.37 L1148.82,9.38 L1149.21,9.38 L1149.61,9.38 L1150.00,9.39 L1150.40,9.39 L1150.79,9.39 L1151.19,9.40 L1151.58,9.40 L1151.98,9.40 L1152.37,9.41 L1152.77,9.41 L1153.16,9.41 L1153.55,9.42 L1153.95,9.42 L1154.34,9.42 L1154.74,9.43 L1155.13,9.43 L1155.53,9.44 L1155.92,9.44 L1156.32,9.44 L1156.71,9.45 L1157.11,9.45 L1157.50,9.46 L1157.90,9.46 L1158.29,9.47 L1158.68,9.47 L1159.08,9.47 L1159.47,9.48 L1159.87,9.48 L1160.26,9.49 L1160.66,9.49 L1161.05,9.50 L1161.45,9.50 L1161.84,9.51 L1162.24,9.51 L1162.63,9.52 L1163.02,9.52 L1163.42,9.53 L1163.81,9.54 L1164.21,9.54 L1164.60,9.55 L1165.00,9.55 L1165.39,9.56 L1165.79,9.56 L1166.18,9.57 L1166.58,9.58 L1166.97,9.58 L1167.36,9.59 L1167.76,9.60 L1168.15,9.60 L1168.55,9.61 L1168.94,9.62 L1169.34,9.62 L1169.73,9.63 L1170.13,9.64 L1170.52,9.64 L1170.92,9.65 L1171.31,9.66 L1171.70,9.66 L1172.10,9.67 L1172.49,9.68 L1172.89,9.69 L1173.28,9.70 L1173.68,9.70 L1174.07,9.71 L1174.47,9.72 L1174.86,9.73 L1175.26,9.74 L1175.65,9.75 L1176.05,9.75 L1176.44,9.76 L1176.83,9.77 L1177.23,9.78 L1177.62,9.79 L1178.02,9.80 L1178.41,9.81 L1178.81,9.82 L1179.20,9.83 L1179.60,9.84 L1179.99,9.85 L1180.39,9.86 L1180.78,9.87 L1181.17,9.88 L1181.57,9.89 L1181.96,9.90 L1182.36,9.91 L1182.75,9.92 L1183.15,9.93 L1183.54,9.95 L1183.94,9.96 L1184.33,9.97 L1184.73,9.98 L1185.12,9.99 L1185.51,10.01 L1185.91,10.02 L1186.30,10.03 L1186.70,10.04 L1187.09,10.06 L1187.49,10.07 L1187.88,10.08 L1188.28,10.10 L1188.67,10.11 L1189.07,10.13 L1189.46,10.14 L1189.85,10.16 L1190.25,10.17 L1190.64,10.19 L1191.04,10.20 L1191.43,10.22 L1191.83,10.23 L1192.22,10.25 L1192.62,10.27 L1193.01,10.28 L1193.41,10.30 L1193.80,10.32 L1194.19,10.33 L1194.59,10.35 L1194.98,10.37 L1195.38,10.39 L1195.77,10.41 L1196.17,10.43 L1196.56,10.45 L1196.96,10.47 L1197.35,10.49 L1197.75,10.51 L1198.14,10.53 L1198.54,10.55 L1198.93,10.57 L1199.32,10.60 L1199.72,10.62 L1200.11,10.64 L1200.51,10.67 L1200.90,10.69 L1201.30,10.71 L1201.69,10.74 L1202.09,10.77 L1202.48,10.79 L1202.88,10.82 L1203.27,10.85 L1203.66,10.88 L1204.06,10.91 L1204.45,10.94 L1204.85,10.97 L1205.24,11.00 L1205.64,11.03 L1206.03,11.06 L1206.43,11.10 L1206.82,11.13 L1207.22,11.17 L1207.61,11.20 L1208.00,11.24 L1208.40,11.28 L1208.79,11.32 L1209.19,11.36 L1209.58,11.40 L1209.98,11.44 L1210.37,11.49 L1210.77,11.53 L1211.16,11.58 L1211.56,11.63 L1211.95,11.68 L1212.34,11.73 L1212.74,11.78 L1213.13,11.83 L1213.53,11.89 L1213.92,11.95 L1214.32,12.01 L1214.71,12.07 L1215.11,12.13 L1215.50,12.20 L1215.90,12.26 L1216.29,12.33 L1216.68,12.41 L1217.08,12.48 L1217.47,12.56 L1217.87,12.64 L1218.26,12.72 L1218.66,12.80 L1219.05,12.89 L1219.45,12.98 L1219.84,13.07 L1220.24,13.17 L1220.63,13.27 L1221.03,13.37 L1221.42,13.48 L1221.81,13.59 L1222.21,13.70 L1222.60,13.82 L1223.00,13.94 L1223.39,14.06 L1223.79,14.19 L1224.18,14.33 L1224.58,14.46 L1224.97,14.60 L1225.37,14.75 L1225.76,14.90 L1226.15,15.06 L1226.55,15.22 L1226.94,15.38 L1227.34,15.56 L1227.73,15.73 L1228.13,15.91 L1228.52,16.10 L1228.92,16.29 L1229.31,16.49 L1229.71,16.70 L1230.10,16.91 L1230.49,17.12 L1230.89,17.35 L1231.28,17.58 L1231.68,17.81 L1232.07,18.06 L1232.47,18.31 L1232.86,18.56 L1233.26,18.83 L1233.65,19.10 L1234.05,19.37 L1234.44,19.66 L1234.83,19.95 L1235.23,20.25 L1235.62,20.56 L1236.02,20.87 L1236.41,21.20 L1236.81,21.53 L1237.20,21.87 L1237.60,22.21 L1237.99,22.57 L1238.39,22.93 L1238.78,23.30 L1239.17,23.68 L1239.57,24.07 L1239.96,24.47 L1240.36,24.88 L1240.75,25.29 L1241.15,25.72 L1241.54,26.15 L1241.94,26.59 L1242.33,27.04 L1242.73,27.51 L1243.12,27.98 L1243.52,28.46 L1243.91,28.95 L1244.30,29.45 L1244.70,29.96 L1245.09,30.48 L1245.49,31.01 L1245.88,31.56 L1246.28,32.11 L1246.67,32.68 L1247.07,33.25 L1247.46,33.84 L1247.86,34.44 L1248.25,35.05 L1248.64,35.68 L1249.04,36.32 L1249.43,36.97 L1249.83,37.64 L1250.22,38.32 L1250.62,39.02 L1251.01,39.73 L1251.41,40.46 L1251.80,41.21 L1252.20,41.98 L1252.59,42.76 L1252.98,43.57 L1253.38,44.39 L1253.77,45.24 L1254.17,46.11 L1254.56,47.01 L1254.96,47.93 L1255.35,48.88 L1255.75,49.86 L1256.14,50.88 L1256.54,51.92 L1256.93,53.00 L1257.32,54.12 L1257.72,55.28 L1258.11,56.48 L1258.51,57.73 L1258.90,59.03 L1259.30,60.38 L1259.69,61.79 L1260.09,63.26 L1260.48,64.79 L1260.88,66.40 L1261.27,68.09 L1261.67,69.87 L1262.06,71.73 L1262.45,73.70 L1262.85,75.78 L1263.24,77.98 L1263.64,80.31 L1264.03,82.80 L1264.43,85.45 L1264.82,88.29 L1265.22,91.33 L1265.61,94.61 L1266.01,98.17 L1266.40,102.03 L1266.79,106.27 L1267.19,110.92 L1267.58,116.10 L1267.98,121.89 L1268.37,128.45 L1268.77,135.98 L1269.16,144.75 L1269.56,155.14 L1269.77,161.63 L1269.83,163.67 L1269.90,165.76 L1269.95,167.59 L1269.96,167.91 L1270.02,170.13 L1270.09,172.40 L1270.15,174.72 L1270.21,177.09 L1270.28,179.50 L1270.34,181.94 L1270.35,182.19 L1270.40,184.39 L1270.47,186.83 L1270.53,189.23 L1270.59,191.55 L1270.65,193.74 L1270.72,195.76 L1270.74,196.41 L1270.78,197.53 L1270.84,198.99 L1270.91,200.09 L1270.97,200.76 L1271.03,200.97 L1271.10,200.77 L1271.13,200.49 L1271.16,200.24 L1271.22,199.38 L1271.29,198.23 L1271.35,196.83 L1271.41,195.22 L1271.48,193.44 L1271.53,191.82 L1271.54,191.52 L1271.60,189.51 L1271.66,187.43 L1271.73,185.31 L1271.79,183.17 L1271.85,181.03 L1271.92,178.89 L1271.92,178.68 L1271.98,176.78 L1272.04,174.70 L1272.11,172.64 L1272.17,170.63 L1272.23,168.66 L1272.30,166.73 L1272.32,166.06 L1272.71,155.07 L1273.11,145.62 L1273.50,137.43 L1273.90,130.25 L1274.29,123.88 L1274.69,118.16 L1275.08,112.99 L1275.47,108.27 L1275.87,103.93 L1276.26,99.93 L1276.66,96.22 L1277.05,92.75 L1277.45,89.51 L1277.84,86.47 L1278.24,83.61 L1278.63,80.91 L1279.03,78.35 L1279.42,75.92 L1279.81,73.62 L1280.21,71.43 L1280.60,69.35 L1281.00,67.36 L1281.39,65.45 L1281.79,63.64 L1282.18,61.90 L1282.58,60.23 L1282.97,58.63 L1283.37,57.10 L1283.76,55.63 L1284.16,54.21 L1284.55,52.85 L1284.94,51.54 L1285.34,50.28 L1285.73,49.07 L1286.13,47.90 L1286.52,46.77 L1286.92,45.69 L1287.31,44.64 L1287.71,43.63 L1288.10,42.66 L1288.50,41.72 L1288.89,40.81 L1289.28,39.94 L1289.68,39.09 L1290.07,38.28 L1290.47,37.49 L1290.86,36.73 L1291.26,35.99 L1291.65,35.28 L1292.05,34.59 L1292.44,33.93 L1292.84,33.28 L1293.23,32.66 L1293.62,32.06 L1294.02,31.48 L1294.41,30.92 L1294.81,30.38 L1295.20,29.86 L1295.60,29.35 L1295.99,28.86 L1296.39,28.38 L1296.78,27.93 L1297.18,27.48 L1297.57,27.05 L1297.96,26.64 L1298.36,26.24 L1298.75,25.85 L1299.15,25.48 L1299.54,25.11 L1299.94,24.76 L1300.33,24.42 L1300.73,24.10 L1301.12,23.78 L1301.52,23.47 L1301.91,23.17 L1302.31,22.89 L1302.70,22.61 L1303.09,22.34 L1303.49,22.08 L1303.88,21.83 L1304.28,21.59 L1304.67,21.35 L1305.07,21.12 L1305.46,20.90 L1305.86,20.69 L1306.25,20.49 L1306.65,20.29 L1307.04,20.09 L1307.43,19.91 L1307.83,19.72 L1308.22,19.55 L1308.62,19.38 L1309.01,19.22 L1309.41,19.06 L1309.80,18.90 L1310.20,18.75 L1310.59,18.61 L1310.99,18.47 L1311.38,18.33 L1311.77,18.20 L1312.17,18.08 L1312.56,17.95 L1312.96,17.83 L1313.35,17.72 L1313.75,17.61 L1314.14,17.50 L1314.54,17.39 L1314.93,17.29 L1315.33,17.19 L1315.72,17.09 L1316.11,17.00 L1316.51,16.91 L1316.90,16.82 L1317.30,16.74 L1317.69,16.65 L1318.09,16.57 L1318.48,16.50 L1318.88,16.42 L1319.27,16.35 L1319.67,16.27 L1320.06,16.21 L1320.45,16.14 L1320.85,16.07 L1321.24,16.01 L1321.64,15.95 L1322.03,15.89 L1322.43,15.83 L1322.82,15.77 L1323.22,15.72 L1323.61,15.66 L1324.01,15.61 L1324.40,15.56 L1324.80,15.51 L1325.19,15.46 L1325.58,15.41 L1325.98,15.37 L1326.37,15.32 L1326.77,15.28 L1327.16,15.24 L1327.56,15.20 L1327.95,15.16 L1328.35,15.12 L1328.74,15.08 L1329.14,15.05 L1329.53,15.01 L1329.92,14.98 L1330.32,14.94 L1330.71,14.91 L1331.11,14.88 L1331.50,14.85 L1331.90,14.82 L1332.29,14.79 L1332.69,14.76 L1333.08,14.73 L1333.48,14.70 L1333.87,14.68 L1334.26,14.65 L1334.66,14.62 L1335.05,14.60 L1335.45,14.58 L1335.84,14.55 L1336.24,14.53 L1336.63,14.51 L1337.03,14.49 L1337.42,14.47 L1337.82,14.45 L1338.21,14.43 L1338.60,14.41 L1339.00,14.39 L1339.39,14.37 L1339.79,14.36 L1340.18,14.34 L1340.58,14.32 L1340.97,14.31 L1341.37,14.29 L1341.76,14.28 L1342.16,14.26 L1342.55,14.25 L1342.94,14.23 L1343.34,14.22 L1343.73,14.21 L1344.13,14.20 L1344.52,14.19 L1344.92,14.17 L1345.31,14.16 L1345.71,14.15 L1346.10,14.14 L1346.50,14.13 L1346.89,14.12 L1347.29,14.11 L1347.68,14.10 L1348.07,14.10 L1348.47,14.09 L1348.86,14.08 L1349.26,14.07 L1349.65,14.07 L1350.05,14.06 L1350.44,14.05 L1350.84,14.05 L1351.23,14.04 L1351.63,14.04 L1352.02,14.03 L1352.41,14.03 L1352.81,14.02 L1353.20,14.02 L1353.60,14.02 L1353.99,14.01 L1354.39,14.01 L1354.78,14.01 L1355.18,14.00 L1355.57,14.00 L1355.97,14.00 L1356.36,14.00 L1356.75,14.00 L1357.15,14.00 L1357.54,14.00 L1357.94,14.00 L1358.33,14.00 L1358.73,14.00 L1359.12,14.00 L1359.52,14.00 L1359.91,14.00 L1360.31,14.00 L1360.70,14.01 L1361.09,14.01 L1361.49,14.01 L1361.88,14.01 L1362.28,14.02 L1362.67,14.02 L1363.07,14.03 L1363.46,14.03 L1363.86,14.04 L1364.25,14.04 L1364.65,14.05 L1365.04,14.05 L1365.43,14.06 L1365.83,14.07 L1366.22,14.07 L1366.62,14.08 L1367.01,14.09 L1367.41,14.10 L1367.80,14.11 L1368.20,14.12 L1368.59,14.13 L1368.99,14.14 L1369.38,14.15 L1369.78,14.16 L1370.17,14.17 L1370.56,14.19 L1370.96,14.20 L1371.35,14.21 L1371.75,14.23 L1372.14,14.24 L1372.54,14.26 L1372.93,14.27 L1373.33,14.29 L1373.72,14.30 L1374.12,14.32 L1374.51,14.34 L1374.90,14.36 L1375.30,14.38 L1375.69,14.40 L1376.09,14.42 L1376.48,14.44 L1376.88,14.46 L1377.27,14.49 L1377.67,14.51 L1378.06,14.54 L1378.46,14.56 L1378.85,14.59 L1379.24,14.61 L1379.64,14.64 L1380.03,14.67 L1380.43,14.70 L1380.82,14.73 L1381.22,14.76 L1381.61,14.80 L1382.01,14.83 L1382.40,14.86 L1382.80,14.90 L1383.19,14.94 L1383.58,14.98 L1383.98,15.01 L1384.37,15.06 L1384.77,15.10 L1385.16,15.14 L1385.56,15.18 L1385.95,15.23 L1386.35,15.28 L1386.74,15.32 L1387.14,15.37 L1387.53,15.42 L1387.93,15.48 L1388.32,15.53 L1388.71,15.59 L1389.11,15.64 L1389.50,15.70 L1389.90,15.76 L1390.29,15.82 L1390.69,15.88 L1391.08,15.95 L1391.48,16.02 L1391.87,16.08 L1392.27,16.15 L1392.66,16.22 L1393.05,16.30 L1393.45,16.37 L1393.84,16.45 L1394.24,16.53 L1394.63,16.61 L1395.03,16.69 L1395.42,16.77 L1395.82,16.86 L1396.21,16.95 L1396.61,17.03 L1397.00,17.12" stroke="#000" stroke-width="3.4" fill="none" stroke-dasharray="6.2 2 1.2 2"/>
</g>
<line x1="765.7" y1="67.32" x2="1397.0" y2="67.32" stroke="#000" stroke-width="1.5" stroke-dasharray="5.8 2.54" stroke-dashoffset="3.28"/>
<rect x="50.2" y="4.8" width="636.20" height="284.30" fill="none" stroke="#000" stroke-width="1.4"/>
<line x1="50.20" y1="289.1" x2="50.20" y2="282.6" stroke="#000" stroke-width="1.3"/>
<line x1="50.20" y1="4.8" x2="50.20" y2="11.3" stroke="#000" stroke-width="1.3"/>
<line x1="129.72" y1="289.1" x2="129.72" y2="282.6" stroke="#000" stroke-width="1.3"/>
<line x1="129.72" y1="4.8" x2="129.72" y2="11.3" stroke="#000" stroke-width="1.3"/>
<line x1="209.25" y1="289.1" x2="209.25" y2="282.6" stroke="#000" stroke-width="1.3"/>
<line x1="209.25" y1="4.8" x2="209.25" y2="11.3" stroke="#000" stroke-width="1.3"/>
<line x1="288.77" y1="289.1" x2="288.77" y2="282.6" stroke="#000" stroke-width="1.3"/>
<line x1="288.77" y1="4.8" x2="288.77" y2="11.3" stroke="#000" stroke-width="1.3"/>
<line x1="368.30" y1="289.1" x2="368.30" y2="282.6" stroke="#000" stroke-width="1.3"/>
<line x1="368.30" y1="4.8" x2="368.30" y2="11.3" stroke="#000" stroke-width="1.3"/>
<line x1="447.82" y1="289.1" x2="447.82" y2="282.6" stroke="#000" stroke-width="1.3"/>
<line x1="447.82" y1="4.8" x2="447.82" y2="11.3" stroke="#000" stroke-width="1.3"/>
<line x1="527.35" y1="289.1" x2="527.35" y2="282.6" stroke="#000" stroke-width="1.3"/>
<line x1="527.35" y1="4.8" x2="527.35" y2="11.3" stroke="#000" stroke-width="1.3"/>
<line x1="606.88" y1="289.1" x2="606.88" y2="282.6" stroke="#000" stroke-width="1.3"/>
<line x1="606.88" y1="4.8" x2="606.88" y2="11.3" stroke="#000" stroke-width="1.3"/>
<line x1="686.40" y1="289.1" x2="686.40" y2="282.6" stroke="#000" stroke-width="1.3"/>
<line x1="686.40" y1="4.8" x2="686.40" y2="11.3" stroke="#000" stroke-width="1.3"/>
<line x1="50.2" y1="4.80" x2="56.7" y2="4.80" stroke="#000" stroke-width="1.3"/>
<line x1="686.4" y1="4.80" x2="679.9" y2="4.80" stroke="#000" stroke-width="1.3"/>
<line x1="50.2" y1="52.18" x2="56.7" y2="52.18" stroke="#000" stroke-width="1.3"/>
<line x1="686.4" y1="52.18" x2="679.9" y2="52.18" stroke="#000" stroke-width="1.3"/>
<line x1="50.2" y1="99.57" x2="56.7" y2="99.57" stroke="#000" stroke-width="1.3"/>
<line x1="686.4" y1="99.57" x2="679.9" y2="99.57" stroke="#000" stroke-width="1.3"/>
<line x1="50.2" y1="146.95" x2="56.7" y2="146.95" stroke="#000" stroke-width="1.3"/>
<line x1="686.4" y1="146.95" x2="679.9" y2="146.95" stroke="#000" stroke-width="1.3"/>
<line x1="50.2" y1="194.33" x2="56.7" y2="194.33" stroke="#000" stroke-width="1.3"/>
<line x1="686.4" y1="194.33" x2="679.9" y2="194.33" stroke="#000" stroke-width="1.3"/>
<line x1="50.2" y1="241.72" x2="56.7" y2="241.72" stroke="#000" stroke-width="1.3"/>
<line x1="686.4" y1="241.72" x2="679.9" y2="241.72" stroke="#000" stroke-width="1.3"/>
<line x1="50.2" y1="289.10" x2="56.7" y2="289.10" stroke="#000" stroke-width="1.3"/>
<line x1="686.4" y1="289.10" x2="679.9" y2="289.10" stroke="#000" stroke-width="1.3"/>
<rect x="765.7" y="7.6" width="631.30" height="298.60" fill="none" stroke="#000" stroke-width="1.4"/>
<line x1="765.70" y1="306.2" x2="765.70" y2="299.7" stroke="#000" stroke-width="1.3"/>
<line x1="765.70" y1="7.6" x2="765.70" y2="14.1" stroke="#000" stroke-width="1.3"/>
<line x1="844.61" y1="306.2" x2="844.61" y2="299.7" stroke="#000" stroke-width="1.3"/>
<line x1="844.61" y1="7.6" x2="844.61" y2="14.1" stroke="#000" stroke-width="1.3"/>
<line x1="923.53" y1="306.2" x2="923.53" y2="299.7" stroke="#000" stroke-width="1.3"/>
<line x1="923.53" y1="7.6" x2="923.53" y2="14.1" stroke="#000" stroke-width="1.3"/>
<line x1="1002.44" y1="306.2" x2="1002.44" y2="299.7" stroke="#000" stroke-width="1.3"/>
<line x1="1002.44" y1="7.6" x2="1002.44" y2="14.1" stroke="#000" stroke-width="1.3"/>
<line x1="1081.35" y1="306.2" x2="1081.35" y2="299.7" stroke="#000" stroke-width="1.3"/>
<line x1="1081.35" y1="7.6" x2="1081.35" y2="14.1" stroke="#000" stroke-width="1.3"/>
<line x1="1160.26" y1="306.2" x2="1160.26" y2="299.7" stroke="#000" stroke-width="1.3"/>
<line x1="1160.26" y1="7.6" x2="1160.26" y2="14.1" stroke="#000" stroke-width="1.3"/>
<line x1="1239.17" y1="306.2" x2="1239.17" y2="299.7" stroke="#000" stroke-width="1.3"/>
<line x1="1239.17" y1="7.6" x2="1239.17" y2="14.1" stroke="#000" stroke-width="1.3"/>
<line x1="1318.09" y1="306.2" x2="1318.09" y2="299.7" stroke="#000" stroke-width="1.3"/>
<line x1="1318.09" y1="7.6" x2="1318.09" y2="14.1" stroke="#000" stroke-width="1.3"/>
<line x1="1397.00" y1="306.2" x2="1397.00" y2="299.7" stroke="#000" stroke-width="1.3"/>
<line x1="1397.00" y1="7.6" x2="1397.00" y2="14.1" stroke="#000" stroke-width="1.3"/>
<line x1="765.7" y1="7.60" x2="772.2" y2="7.60" stroke="#000" stroke-width="1.3"/>
<line x1="1397.0" y1="7.60" x2="1390.5" y2="7.60" stroke="#000" stroke-width="1.3"/>
<line x1="765.7" y1="67.32" x2="772.2" y2="67.32" stroke="#000" stroke-width="1.3"/>
<line x1="1397.0" y1="67.32" x2="1390.5" y2="67.32" stroke="#000" stroke-width="1.3"/>
<line x1="765.7" y1="127.04" x2="772.2" y2="127.04" stroke="#000" stroke-width="1.3"/>
<line x1="1397.0" y1="127.04" x2="1390.5" y2="127.04" stroke="#000" stroke-width="1.3"/>
<line x1="765.7" y1="186.76" x2="772.2" y2="186.76" stroke="#000" stroke-width="1.3"/>
<line x1="1397.0" y1="186.76" x2="1390.5" y2="186.76" stroke="#000" stroke-width="1.3"/>
<line x1="765.7" y1="246.48" x2="772.2" y2="246.48" stroke="#000" stroke-width="1.3"/>
<line x1="1397.0" y1="246.48" x2="1390.5" y2="246.48" stroke="#000" stroke-width="1.3"/>
<line x1="765.7" y1="306.20" x2="772.2" y2="306.20" stroke="#000" stroke-width="1.3"/>
<line x1="1397.0" y1="306.20" x2="1390.5" y2="306.20" stroke="#000" stroke-width="1.3"/>
<g font-family='"Liberation Serif", serif' font-weight="bold" font-size="15.5" fill="#000">
<g font-size="16.2" letter-spacing="0.35">
<text x="50.40" y="306.3" text-anchor="middle">1</text>
<text x="129.92" y="306.3" text-anchor="middle">1.25</text>
<text x="209.45" y="306.3" text-anchor="middle">1.5</text>
<text x="288.97" y="306.3" text-anchor="middle">1.75</text>
<text x="368.50" y="306.3" text-anchor="middle">2</text>
<text x="448.02" y="306.3" text-anchor="middle">2.25</text>
<text x="527.55" y="306.3" text-anchor="middle">2.5</text>
<text x="607.08" y="306.3" text-anchor="middle">2.75</text>
<text x="686.60" y="306.3" text-anchor="middle">3</text>
<text x="47.10" y="11.00" text-anchor="end">0</text>
<text x="47.10" y="58.38" text-anchor="end">-5</text>
<text x="47.10" y="105.77" text-anchor="end">-10</text>
<text x="47.10" y="153.15" text-anchor="end">-15</text>
<text x="47.10" y="200.53" text-anchor="end">-20</text>
<text x="47.10" y="247.92" text-anchor="end">-25</text>
<text x="47.10" y="295.30" text-anchor="end">-30</text>
<text x="765.90" y="323.5" text-anchor="middle">1</text>
<text x="844.81" y="323.5" text-anchor="middle">1.25</text>
<text x="923.73" y="323.5" text-anchor="middle">1.5</text>
<text x="1002.64" y="323.5" text-anchor="middle">1.75</text>
<text x="1081.55" y="323.5" text-anchor="middle">2</text>
<text x="1160.46" y="323.5" text-anchor="middle">2.25</text>
<text x="1239.38" y="323.5" text-anchor="middle">2.5</text>
<text x="1318.29" y="323.5" text-anchor="middle">2.75</text>
<text x="1397.20" y="323.5" text-anchor="middle">3</text>
<text x="762.60" y="13.80" text-anchor="end">0</text>
<text x="762.60" y="73.52" text-anchor="end">-10</text>
<text x="762.60" y="133.24" text-anchor="end">-20</text>
<text x="762.60" y="192.96" text-anchor="end">-30</text>
<text x="762.60" y="252.68" text-anchor="end">-40</text>
<text x="762.60" y="312.40" text-anchor="end">-50</text>
</g>
<text x="367.3" y="340" text-anchor="middle" font-size="16">Frequency (GHz)</text>
<text x="1080.6" y="341" text-anchor="middle" font-size="16">Frequency (GHz)</text>
<text transform="translate(13.5,147.5) rotate(-90)" text-anchor="middle" font-size="16">|S<tspan font-size="12.5" dy="6">11</tspan><tspan dy="-6">| (dB)</tspan></text>
<text transform="translate(729,158) rotate(-90)" text-anchor="middle" font-size="16">|S<tspan font-size="12.5" dy="6">11</tspan><tspan dy="-6">| (dB)</tspan></text>
<line x1="83" y1="156.0" x2="108.3" y2="156.0" stroke="#ababab" stroke-width="3.2" fill="none"/>
<text x="113.5" y="162.0" font-size="16">g = 1mm</text>
<line x1="83" y1="175.7" x2="108.3" y2="175.7" stroke="#444" stroke-width="4.0" fill="none" stroke-dasharray="1.1 1.9"/>
<text x="113.5" y="181.7" font-size="16">g = 2mm</text>
<line x1="85.5" y1="195.4" x2="108.3" y2="195.4" stroke="#000" stroke-width="3.4" fill="none" stroke-dasharray="6 2.4"/>
<text x="113.5" y="201.4" font-size="16">g = 3mm</text>
<line x1="83" y1="215.7" x2="108.3" y2="215.7" stroke="#000" stroke-width="3.4" fill="none" stroke-dasharray="6.2 2 1.2 2"/>
<text x="113.5" y="221.7" font-size="16">g = 4mm</text>
<line x1="83" y1="236.0" x2="108.3" y2="236.0" stroke="#000" stroke-width="3.5" fill="none"/>
<text x="113.5" y="242.0" font-size="16">g = 5mm</text>
<line x1="786" y1="192.2" x2="811.5" y2="192.2" stroke="#666" stroke-width="4.0" fill="none" stroke-dasharray="1.2 1.8"/>
<text x="816.6" y="198.2" font-size="16">w = 1mm</text>
<line x1="786" y1="217.8" x2="811.5" y2="217.8" stroke="#000" stroke-width="3.5" fill="none"/>
<text x="816.6" y="223.8" font-size="16">w = 1.5mm</text>
<line x1="789" y1="243.4" x2="811.5" y2="243.4" stroke="#000" stroke-width="3.4" fill="none" stroke-dasharray="6 2.4"/>
<text x="816.6" y="249.4" font-size="16">w = 2mm</text>
<line x1="786" y1="268.9" x2="811.5" y2="268.9" stroke="#000" stroke-width="3.4" fill="none" stroke-dasharray="6.2 2 1.2 2"/>
<text x="816.6" y="274.9" font-size="16">w = 2.5mm</text>
<line x1="250.00" y1="246.60" x2="237.81" y2="233.81" stroke="#000" stroke-width="1.5"/><polygon points="231.60,227.30 241.40,231.78 237.47,233.45 235.61,237.30" fill="#000"/>
<text x="250.30" y="261.00" font-size="16.5">f<tspan dx="0.8" dy="8" font-size="14">1</tspan></text>
<line x1="365.70" y1="151.30" x2="356.91" y2="135.65" stroke="#000" stroke-width="1.5"/><polygon points="352.50,127.80 360.88,134.56 356.66,135.21 353.91,138.48" fill="#000"/>
<text x="359.30" y="166.30" font-size="16.5">f<tspan dx="0.8" dy="8" font-size="14">2</tspan></text>
<line x1="447.10" y1="196.60" x2="462.06" y2="178.53" stroke="#000" stroke-width="1.5"/><polygon points="467.80,171.60 464.50,181.85 462.38,178.15 458.34,176.75" fill="#000"/>
<text x="434.10" y="211.60" font-size="16.5">f<tspan dx="0.8" dy="8" font-size="14">3</tspan></text>
<line x1="460.20" y1="246.70" x2="474.29" y2="229.55" stroke="#000" stroke-width="1.5"/><polygon points="480.00,222.60 476.74,232.87 474.60,229.17 470.56,227.79" fill="#000"/>
<text x="447.00" y="262.10" font-size="16.5">f<tspan dx="0.8" dy="8" font-size="14">4</tspan></text>
<line x1="546.20" y1="234.00" x2="561.75" y2="215.84" stroke="#000" stroke-width="1.5"/><polygon points="567.60,209.00 564.14,219.20 562.07,215.46 558.06,214.00" fill="#000"/>
<text x="534.30" y="249.60" font-size="16.5">f<tspan dx="0.8" dy="8" font-size="14">5</tspan></text>
<line x1="939.30" y1="215.10" x2="930.63" y2="202.26" stroke="#000" stroke-width="1.5"/><polygon points="925.60,194.80 934.51,200.85 930.35,201.85 927.88,205.33" fill="#000"/>
<text x="939.10" y="229.90" font-size="16.5">f<tspan dx="0.8" dy="8" font-size="14">1</tspan></text>
<line x1="1048.90" y1="121.60" x2="1051.57" y2="109.49" stroke="#000" stroke-width="1.5"/><polygon points="1053.50,100.70 1055.26,111.33 1051.67,109.00 1047.44,109.61" fill="#000"/>
<text x="1041.70" y="140.20" font-size="16.5">f<tspan dx="0.8" dy="8" font-size="14">2</tspan></text>
<line x1="1217.40" y1="162.90" x2="1225.64" y2="145.53" stroke="#000" stroke-width="1.5"/><polygon points="1229.50,137.40 1228.83,148.15 1225.86,145.08 1221.60,144.72" fill="#000"/>
<text x="1211.00" y="178.80" font-size="16.5">f<tspan dx="0.8" dy="8" font-size="14">3</tspan></text>
<line x1="1240.70" y1="154.80" x2="1249.52" y2="137.42" stroke="#000" stroke-width="1.5"/><polygon points="1253.60,129.40 1252.64,140.13 1249.75,136.98 1245.51,136.50" fill="#000"/>
<text x="1235.10" y="170.80" font-size="16.5">f<tspan dx="0.8" dy="8" font-size="14">4</tspan></text>
<line x1="1303.10" y1="187.00" x2="1291.19" y2="173.62" stroke="#000" stroke-width="1.5"/><polygon points="1285.20,166.90 1294.84,171.71 1290.85,173.25 1288.86,177.03" fill="#000"/>
<text x="1303.60" y="203.00" font-size="16.5">f<tspan dx="0.8" dy="8" font-size="14">5</tspan></text>
</g>
<line x1="1171.40" y1="111.40" x2="1221.05" y2="77.30" stroke="#000" stroke-width="1.0"/><polygon points="1226.00,73.90 1221.82,80.17 1221.47,77.01 1218.64,75.55" fill="#000"/>
<text transform="translate(1133.3,122.6) scale(0.91,1)" font-family='"Liberation Serif", serif' font-size="14.5" stroke="#000" stroke-width="0.25">180 MHz</text>
<text x="365.8" y="368.3" text-anchor="middle" font-family='"Liberation Serif", serif' font-size="24">(a)</text>
<text x="1083.3" y="368.8" text-anchor="middle" font-family='"Liberation Serif", serif' font-size="24">(b)</text>
</svg>
</body></html>
